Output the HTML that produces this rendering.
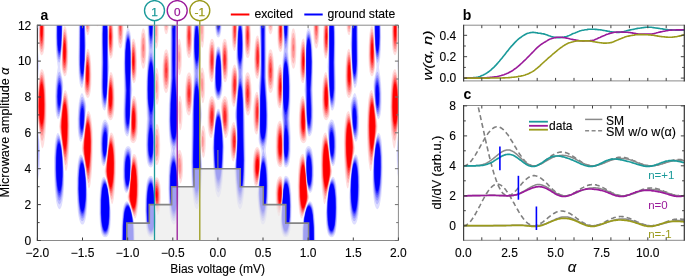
<!DOCTYPE html><html><head><meta charset="utf-8"><style>html,body{margin:0;padding:0;background:#fff;width:685px;height:276px;overflow:hidden}svg{display:block;will-change:transform}text{font-family:"Liberation Sans",sans-serif}</style></head><body>
<svg width="685" height="276" viewBox="0 0 685 276">
<defs><clipPath id="pa"><rect x="37.40" y="25.20" width="361.00" height="215.30"/></clipPath>
<filter id="bl" x="-5%" y="-5%" width="110%" height="110%"><feGaussianBlur stdDeviation="0.35"/></filter>
<clipPath id="pb"><rect x="463.6" y="25.2" width="221" height="55.7"/></clipPath>
<clipPath id="pc"><rect x="463.6" y="105.5" width="221" height="134.8"/></clipPath>
</defs>
<g clip-path="url(#pa)"><g filter="url(#bl)">
<path fill="#0000ff" fill-opacity="0.130" fill-rule="evenodd" d="M35.9 90.9 35.4 90.8 35.1 90.4 34.6 88.2 33.8 79.7 33.8 68.2 34.7 48.2 33.7 32.2 33.4 22.2 34.4 21.8 37.6 21.7 38.6 21.9 38.8 22.2 37.9 46.7 38.1 51.7 39.1 61.2 39.2 65.2 37.6 83.3 36.9 88.2 36.4 90.0 35.9 90.9ZM58.6 118.8 57.9 118.9 57.4 118.5 56.3 115.7 55.5 110.7 55.2 104.2 55.1 94.7 55.5 84.7 56.2 77.7 57.8 67.2 56.3 56.2 55.8 48.7 55.6 37.2 55.8 22.2 56.9 21.8 61.4 21.7 62.4 21.8 63.0 22.2 61.7 49.7 60.2 67.2 60.6 70.2 63.0 81.2 63.3 85.7 61.2 109.2 59.9 116.2 59.4 117.7 58.6 118.8ZM82.2 87.8 81.7 88.0 81.2 87.5 80.4 85.9 79.7 83.7 79.0 79.2 78.5 73.2 78.2 59.2 78.7 22.2 79.9 21.8 84.2 21.7 84.9 21.9 85.1 22.2 86.2 43.7 84.2 77.7 83.4 84.0 82.9 86.1 82.2 87.8ZM104.9 110.4 104.4 110.5 103.7 110.1 102.9 108.8 102.3 107.2 101.5 102.7 101.0 96.2 100.8 85.2 101.2 62.2 101.3 34.7 101.7 22.2 102.9 21.8 106.7 21.7 107.7 21.8 108.0 22.2 108.2 48.3 109.3 66.2 106.9 102.2 106.2 107.5 105.7 109.2 104.9 110.4ZM128.4 22.7 127.9 22.8 127.2 22.2 128.8 22.2 128.4 22.7ZM151.7 167.3 150.4 167.5 149.2 166.7 148.2 165.2 147.4 163.2 146.8 160.2 146.3 156.2 145.9 146.2 146.0 135.7 146.9 118.7 146.1 97.7 146.2 81.7 146.8 70.7 148.5 50.7 147.7 34.7 147.5 22.2 148.2 21.8 149.7 21.7 153.2 21.8 153.9 22.2 153.3 49.2 154.3 59.7 154.5 65.2 154.7 92.1 155.2 112.7 154.3 126.2 154.2 150.7 153.9 158.7 153.5 163.2 152.9 165.7 152.4 166.6 151.7 167.3ZM174.7 224.3 174.2 224.6 173.4 224.5 172.2 223.3 171.0 220.7 170.1 216.7 169.3 211.2 168.8 205.2 168.2 189.2 168.3 177.7 168.7 167.7 169.5 160.7 171.0 150.7 170.9 148.7 169.7 141.7 169.0 135.7 168.5 121.7 168.8 104.2 170.1 85.2 170.4 77.7 170.3 48.7 170.6 22.2 171.2 21.9 172.7 21.7 176.4 21.8 177.1 22.2 177.1 22.7 177.2 30.2 176.7 46.7 176.7 59.2 177.0 71.7 178.0 86.2 177.7 107.2 178.3 137.2 178.0 141.7 176.1 149.2 175.8 152.2 179.0 187.2 179.4 193.7 179.0 203.2 177.6 215.7 176.4 221.2 175.7 223.0 174.7 224.3ZM197.4 208.9 196.9 209.2 196.2 209.0 194.9 207.0 193.8 203.2 193.0 198.2 192.2 191.7 191.6 182.2 191.1 163.2 191.7 121.7 193.7 75.2 193.0 55.7 193.3 32.7 194.0 22.2 194.9 21.8 196.7 21.8 198.4 21.8 199.0 22.2 200.5 52.7 200.5 59.2 199.2 71.2 199.0 76.7 199.9 91.5 201.8 113.2 201.7 117.7 200.6 130.7 200.4 139.2 200.7 147.2 202.0 164.2 202.3 169.7 201.5 184.7 200.3 198.7 199.1 205.2 198.4 207.3 197.4 208.9ZM219.2 37.3 218.2 37.5 217.2 36.9 216.5 35.7 215.9 33.7 215.3 29.7 215.1 25.2 215.1 22.2 215.7 21.8 220.4 21.8 221.2 21.9 221.6 22.2 221.5 28.2 221.0 32.7 220.2 35.7 219.2 37.3ZM240.7 208.9 240.2 209.1 239.7 209.1 238.7 208.0 237.7 205.3 236.9 201.7 235.8 191.7 234.4 170.7 234.7 165.7 236.4 150.7 236.9 139.2 236.5 129.2 235.0 117.2 234.9 113.7 236.9 95.7 238.1 77.2 237.8 70.7 236.2 59.2 236.2 55.2 237.9 22.2 238.4 21.8 239.9 21.8 241.9 21.9 242.7 22.2 243.3 31.2 243.7 55.2 243.0 75.2 245.0 122.2 245.6 158.2 245.3 177.7 244.3 193.7 242.8 203.7 241.7 207.2 240.7 208.9ZM263.6 224.3 262.6 224.5 261.6 223.7 260.7 221.7 260.0 219.2 258.3 207.7 257.3 196.2 257.5 191.7 259.4 176.7 261.5 153.2 261.2 149.7 258.9 142.7 258.5 139.2 259.2 126.2 259.5 108.2 259.4 98.2 258.7 85.7 260.0 73.2 260.4 60.7 260.3 45.2 259.5 27.7 259.8 22.2 260.4 21.8 261.6 21.7 265.1 21.8 266.1 22.2 266.4 48.7 266.3 77.7 266.6 86.2 267.8 102.2 268.1 114.7 268.1 125.7 267.8 133.7 267.3 139.7 265.9 148.2 265.7 150.7 267.5 162.7 268.2 171.7 268.5 184.7 268.3 198.7 267.6 209.2 266.6 216.7 265.3 221.7 264.4 223.5 263.6 224.3ZM286.9 167.2 285.6 167.4 284.6 166.7 284.0 165.2 283.6 162.9 283.3 155.2 283.0 126.7 282.6 122.4 281.6 114.2 282.5 98.2 282.4 60.7 283.4 51.7 283.7 48.2 283.1 22.2 283.4 21.8 284.4 21.7 288.1 21.8 289.2 22.2 289.1 34.2 288.2 51.2 290.0 72.2 290.6 84.7 290.5 99.7 289.8 118.7 290.8 137.7 290.7 151.2 290.2 157.7 289.5 162.2 288.4 165.5 287.6 166.6 286.9 167.2ZM308.9 22.8 308.4 22.8 307.9 22.2 309.5 22.2 308.9 22.8ZM332.9 110.2 332.4 110.5 331.9 110.4 331.1 109.4 330.4 106.8 329.9 103.2 327.4 66.7 328.5 50.2 328.7 22.2 328.9 21.9 329.9 21.7 333.9 21.8 335.0 22.2 335.3 29.7 335.5 41.2 335.5 62.7 335.9 84.2 335.8 93.7 335.5 100.2 334.8 105.2 333.9 108.6 332.9 110.2ZM355.1 87.9 354.6 87.9 354.4 87.6 353.6 85.5 352.6 78.7 350.5 44.2 351.6 22.2 351.9 21.8 352.6 21.7 356.9 21.8 358.0 22.2 358.5 58.7 358.3 71.7 357.9 77.2 357.3 82.2 356.4 85.7 355.6 87.3 355.1 87.9ZM378.9 118.9 378.4 119.0 377.9 118.7 377.1 117.3 375.8 111.7 374.8 103.2 373.4 86.2 373.7 81.2 376.1 70.2 376.5 67.2 375.0 51.2 373.7 22.2 374.1 21.9 375.1 21.7 379.6 21.8 380.9 22.2 381.1 37.7 380.9 49.7 380.3 57.2 378.9 67.2 380.5 77.7 381.1 83.7 381.6 93.2 381.6 102.7 381.3 109.2 380.8 113.7 379.9 117.2 378.9 118.9ZM401.1 90.9 400.6 90.7 400.1 89.6 399.4 85.9 398.4 77.0 397.5 65.7 397.6 61.7 398.6 52.2 398.8 46.7 397.8 22.2 398.1 21.8 398.9 21.8 402.1 21.8 402.4 22.2 402.0 48.7 402.3 64.7 402.2 85.2 402.1 88.2 401.6 90.1 401.1 90.9ZM127.7 136.4 126.7 136.2 125.8 135.2 124.9 133.2 124.3 130.7 123.6 123.7 123.3 113.7 123.9 91.2 123.6 65.2 124.1 49.7 124.8 39.7 125.6 33.7 126.7 29.7 127.4 28.6 128.2 28.2 129.2 29.1 130.0 31.2 130.6 33.7 131.0 36.7 131.2 72.4 131.4 79.1 132.3 89.7 131.2 102.4 130.0 127.7 129.1 133.7 128.4 135.6 127.7 136.4ZM309.9 136.3 308.9 136.3 308.1 135.3 307.5 133.2 307.0 129.7 306.3 121.2 305.5 101.7 304.4 89.7 305.5 74.7 305.8 36.2 306.2 33.2 306.8 30.7 307.6 28.9 308.1 28.3 308.6 28.2 309.1 28.4 309.6 29.1 310.4 30.8 311.6 36.7 312.6 48.2 313.1 62.2 312.8 89.7 313.3 110.7 313.2 121.7 312.8 127.7 312.2 131.7 311.1 134.8 309.9 136.3ZM219.2 99.8 218.2 100.1 217.4 99.7 216.7 98.9 215.9 97.4 214.5 92.2 214.1 87.2 215.1 62.7 215.7 52.7 216.7 48.1 217.4 46.8 218.4 46.4 219.4 46.9 220.1 48.2 221.0 52.7 221.7 64.2 222.6 85.7 222.5 89.7 221.8 94.2 220.7 97.8 219.9 99.1 219.2 99.8ZM80.9 141.7 80.2 141.4 79.4 140.0 78.3 135.2 77.7 128.2 77.6 118.7 78.1 108.7 79.0 100.7 80.4 95.3 81.2 93.7 81.9 93.1 82.4 93.3 83.2 94.5 84.9 99.2 86.0 103.2 86.3 106.7 84.8 124.7 83.7 133.2 82.4 139.5 81.7 141.1 80.9 141.7ZM355.9 141.7 355.1 141.3 354.4 139.8 353.1 134.2 352.0 125.7 350.4 106.7 350.6 103.7 351.6 99.7 353.4 94.8 354.1 93.5 354.6 93.1 355.4 93.5 356.1 94.9 357.6 100.2 358.6 107.7 359.1 117.2 359.1 127.2 358.5 134.7 357.4 139.8 356.6 141.2 355.9 141.7ZM218.7 197.3 218.2 197.4 217.4 196.8 216.4 194.8 215.3 190.7 214.5 185.2 213.5 174.2 212.4 148.2 212.8 141.2 215.6 115.7 216.7 110.7 217.4 109.3 218.4 108.8 219.2 109.1 219.9 110.3 220.9 114.7 224.0 141.7 224.3 147.7 223.3 172.2 222.5 183.2 221.7 188.7 220.8 193.2 219.7 196.3 218.7 197.3ZM36.6 182.2 36.1 182.0 35.6 181.3 34.6 178.0 33.8 172.2 33.4 167.2 33.4 124.9 34.3 119.7 34.9 118.1 35.4 117.7 36.1 118.5 36.6 120.0 38.1 129.0 39.4 140.7 40.0 153.7 39.9 164.2 39.2 173.2 38.1 179.7 37.4 181.5 36.6 182.2ZM400.1 182.2 399.4 181.7 398.6 179.8 397.5 173.7 396.9 164.7 396.7 154.2 397.3 141.7 398.4 130.2 399.9 120.7 400.4 118.9 401.1 117.7 401.6 117.9 402.1 118.9 402.3 122.2 402.3 173.2 402.1 177.5 401.9 178.6 401.1 181.1 400.6 181.9 400.1 182.2ZM104.2 165.8 103.7 166.0 103.2 165.9 102.4 165.0 101.7 163.2 101.1 160.2 100.3 152.2 100.2 141.7 100.6 132.7 101.6 125.7 102.4 122.7 103.2 120.9 103.9 119.9 104.9 119.4 105.7 119.7 106.4 120.4 108.0 123.2 108.9 125.7 109.2 128.7 107.8 146.7 106.7 156.7 105.7 162.6 104.9 164.8 104.2 165.8ZM333.6 165.8 333.1 166.0 332.6 165.9 331.9 165.0 331.1 163.0 330.3 159.2 329.3 150.7 327.6 129.7 327.7 126.2 328.5 123.7 330.4 120.3 331.1 119.6 331.9 119.4 332.9 120.0 333.6 121.1 335.0 125.2 336.0 131.7 336.5 138.7 336.5 148.7 336.0 157.2 335.0 163.2 334.4 164.8 333.6 165.8ZM60.1 208.9 59.6 209.2 59.1 209.1 58.1 208.1 57.1 205.6 56.2 201.7 55.5 196.7 54.8 189.7 54.1 174.7 54.0 157.7 54.8 143.7 55.5 138.7 56.2 135.7 57.1 133.5 57.6 133.1 58.1 133.0 59.1 133.9 60.1 136.5 61.8 145.2 63.2 159.7 64.2 176.2 64.1 187.7 63.3 197.7 61.9 205.2 61.1 207.4 60.1 208.9ZM377.9 208.9 377.4 209.2 376.9 209.1 375.9 208.0 374.9 205.5 374.0 201.7 372.8 191.2 372.5 178.7 373.3 161.2 375.1 144.2 375.8 139.7 376.9 135.4 377.6 133.7 378.1 133.1 378.6 132.9 379.6 133.7 380.4 135.3 381.0 137.7 381.8 142.2 382.5 153.7 382.7 168.7 382.3 183.7 381.3 196.2 379.8 204.7 378.9 207.4 377.9 208.9ZM126.9 192.8 125.9 192.7 125.1 191.7 124.2 189.7 123.6 186.7 122.8 177.7 122.8 167.2 123.3 158.2 124.4 151.2 125.0 149.2 125.9 147.4 126.9 146.4 128.2 146.1 129.7 146.8 130.9 148.5 131.5 150.7 131.5 153.2 130.8 170.7 129.8 183.2 129.3 186.7 128.4 190.2 127.7 192.0 126.9 192.8ZM310.6 192.8 309.6 192.7 308.9 191.8 308.1 189.7 307.5 187.2 306.5 179.7 305.8 167.7 305.2 153.2 305.3 150.2 305.7 148.7 306.6 147.2 307.6 146.3 308.6 146.1 309.6 146.3 310.6 147.2 311.5 148.7 312.2 150.7 313.2 156.7 313.8 164.2 313.9 175.2 313.4 184.7 312.3 190.2 311.4 192.1 310.6 192.8ZM83.2 224.4 82.7 224.6 81.9 224.6 80.9 223.7 79.9 221.8 79.0 218.7 78.2 214.7 77.5 208.7 76.8 195.7 76.7 178.7 77.5 165.2 78.1 160.7 78.9 157.2 79.9 155.1 80.9 154.4 81.9 155.1 82.9 157.1 84.0 161.2 84.7 165.2 86.5 180.2 87.4 194.7 87.3 205.2 86.5 214.2 85.8 218.2 85.0 221.2 84.2 223.2 83.2 224.4ZM355.1 224.4 354.6 224.6 353.9 224.6 352.9 223.7 351.9 221.7 351.0 218.7 350.2 214.2 349.6 208.7 349.2 197.2 350.1 181.7 351.8 166.2 352.6 161.7 353.6 157.6 354.6 155.3 355.4 154.5 355.9 154.4 356.9 155.2 357.8 157.2 358.5 160.2 359.1 163.7 359.8 174.2 360.0 189.2 359.5 203.7 358.5 214.2 357.8 218.2 357.0 221.2 356.1 223.2 355.1 224.4ZM151.2 237.2 149.7 236.9 148.4 235.9 147.4 234.1 146.6 231.2 145.5 222.7 145.0 209.7 145.3 195.2 146.3 184.2 147.0 180.7 147.9 178.2 149.2 176.5 150.7 175.8 151.7 176.0 152.4 176.7 153.1 178.2 153.5 180.2 154.7 199.6 156.3 220.7 156.0 227.7 154.9 233.2 154.2 234.9 153.4 236.0 152.4 236.9 151.2 237.2ZM285.9 237.2 284.6 237.0 283.6 236.4 282.7 235.2 282.0 233.7 281.3 231.2 280.8 228.2 280.4 221.7 282.1 201.1 283.5 180.2 283.9 178.0 284.4 176.8 285.1 176.1 285.9 175.8 287.4 176.4 288.5 177.7 289.6 180.2 290.3 183.2 291.3 193.2 291.7 207.7 291.3 221.7 290.3 230.7 289.6 233.2 288.6 235.4 287.4 236.7 285.9 237.2ZM105.4 237.2 103.9 236.9 102.7 235.9 101.7 234.2 101.0 232.2 100.0 225.7 99.3 214.7 99.3 200.2 100.1 187.7 100.8 182.7 101.6 179.7 102.5 177.7 103.7 176.9 104.2 176.9 104.9 177.6 105.9 179.4 107.0 182.7 108.0 187.2 109.9 200.7 110.9 212.7 110.7 222.7 110.2 227.7 109.5 231.7 108.7 234.2 107.9 235.7 106.7 236.9 105.4 237.2ZM331.6 237.2 330.4 237.0 329.1 236.1 328.1 234.6 327.3 232.2 326.5 228.2 326.1 224.2 325.8 214.2 326.1 208.2 326.8 200.2 328.8 186.7 329.9 182.2 330.9 179.2 331.9 177.4 332.9 176.8 333.9 177.3 335.0 179.2 335.8 182.2 336.5 186.2 337.3 197.7 337.4 212.7 336.8 224.7 335.8 231.7 335.0 234.2 334.1 235.7 332.9 236.9 331.6 237.2ZM134.9 243.2 134.4 243.5 133.2 243.7 123.2 243.7 121.9 243.5 121.3 243.2 121.5 225.7 122.5 211.7 123.2 207.2 124.1 204.2 125.2 202.2 126.4 201.3 127.4 201.4 128.2 202.1 130.0 205.7 131.5 210.7 133.5 219.2 134.3 223.7 134.7 228.7 134.9 243.2ZM315.4 243.2 314.9 243.5 313.6 243.7 303.6 243.7 302.4 243.5 301.8 243.2 302.0 228.7 303.0 220.2 304.8 212.2 306.5 206.2 308.1 202.7 309.1 201.5 309.9 201.2 311.1 201.7 312.4 203.7 313.3 206.7 314.0 210.7 315.1 223.7 315.4 243.2Z"/>
<path fill="#0000ff" fill-opacity="0.161" fill-rule="evenodd" d="M36.4 44.7 35.6 42.3 34.9 36.7 34.0 22.2 34.9 21.9 37.1 21.8 38.1 21.9 38.6 22.2 37.6 38.1 36.9 43.6 36.4 44.7ZM59.1 62.7 58.4 61.8 57.6 59.2 57.0 55.7 56.5 50.7 56.1 38.7 56.3 22.2 57.6 21.8 61.4 21.8 62.6 22.2 61.7 47.2 60.6 58.6 59.9 61.8 59.1 62.7ZM82.2 84.2 81.7 84.2 81.2 83.6 80.1 80.7 79.5 76.7 79.0 70.2 78.8 58.2 79.2 22.2 80.4 21.8 83.9 21.8 84.9 22.2 85.6 41.2 85.6 47.2 84.2 75.5 83.3 81.7 82.7 83.6 82.2 84.2ZM104.9 107.7 104.2 107.6 103.7 106.9 102.7 104.2 102.0 99.7 101.6 93.7 101.4 84.7 101.8 62.2 101.8 33.7 102.2 22.2 103.4 21.8 106.7 21.8 107.8 22.2 108.0 48.7 108.6 68.2 106.9 99.7 106.2 105.1 105.7 106.7 104.9 107.7ZM151.4 165.3 150.4 165.4 149.4 164.6 148.6 163.2 148.0 161.2 147.0 154.7 146.6 145.7 146.8 135.7 147.8 118.7 146.8 98.7 146.8 81.2 147.5 67.7 149.4 50.7 148.3 35.7 148.0 22.2 149.7 21.8 152.7 21.8 153.6 22.2 153.3 36.2 152.5 50.2 154.0 63.7 154.3 75.7 154.5 106.7 153.9 122.7 154.1 140.7 153.9 151.7 153.6 157.7 153.2 161.6 152.4 164.1 151.4 165.3ZM174.7 220.8 174.2 221.1 173.4 221.1 172.4 220.0 171.4 217.5 170.5 213.7 169.8 208.2 169.3 202.2 168.8 188.2 169.0 175.2 169.7 165.2 170.7 158.7 172.9 150.7 172.7 149.2 170.9 142.7 170.0 137.2 169.3 129.2 169.1 119.2 169.5 103.2 170.9 77.7 171.1 22.2 172.9 21.8 175.4 21.8 176.6 22.2 176.4 63.2 176.7 73.8 177.4 89.2 177.8 133.2 177.6 138.2 177.1 141.7 174.4 150.7 175.8 158.2 176.5 163.7 178.3 183.2 178.8 192.2 178.5 200.7 177.4 211.2 176.2 217.7 175.4 219.7 174.7 220.8ZM197.2 204.3 196.7 204.4 196.2 204.1 195.1 202.2 194.1 198.7 193.3 193.7 192.2 180.2 191.8 161.7 192.5 114.2 193.5 89.7 194.6 73.7 193.5 55.2 193.6 36.7 194.0 28.7 194.7 22.2 196.7 21.9 198.6 22.2 199.2 30.2 199.8 43.2 199.9 57.2 198.6 71.2 198.4 75.2 201.1 112.2 201.1 117.7 200.4 130.2 200.2 139.2 201.6 168.2 201.2 179.7 200.0 193.7 198.7 201.2 197.9 203.3 197.2 204.3ZM218.9 35.3 218.2 35.5 217.4 34.9 216.8 33.7 216.3 31.7 215.7 27.7 215.5 22.2 216.2 21.9 219.9 21.8 221.2 22.2 221.0 27.2 220.5 31.2 219.9 33.7 218.9 35.3ZM240.4 204.3 239.9 204.4 239.4 204.1 238.7 203.0 237.9 200.7 237.2 197.2 236.0 185.7 235.1 170.2 235.3 164.7 236.7 149.2 237.0 139.7 236.8 131.2 235.7 118.2 235.6 113.2 238.5 75.7 238.3 70.7 236.8 58.7 236.8 51.2 237.6 31.7 238.2 22.7 238.4 22.1 239.9 21.9 242.0 22.2 242.6 27.7 243.1 35.7 243.2 54.7 242.1 73.7 243.2 90.2 244.2 114.7 244.9 159.2 244.6 177.2 243.8 190.2 243.0 196.2 242.2 200.2 241.4 202.8 240.4 204.3ZM263.6 220.8 262.6 221.1 261.9 220.5 261.0 218.7 260.3 216.2 258.8 206.7 258.0 195.2 258.3 188.7 261.0 162.2 261.6 157.0 262.9 151.2 262.8 150.2 259.9 142.7 259.3 139.7 259.2 136.7 259.7 107.7 259.4 86.7 260.3 73.2 260.6 61.7 260.6 48.7 260.1 25.7 260.2 22.2 261.9 21.8 264.4 21.8 265.6 22.2 265.9 78.2 267.2 103.2 267.6 115.7 267.4 127.7 266.8 136.7 265.7 143.2 263.6 150.7 266.0 158.7 267.2 167.7 267.8 180.7 267.7 195.7 267.2 204.7 266.3 212.7 265.1 218.0 264.4 219.8 263.6 220.8ZM286.4 165.3 285.4 165.2 284.6 164.2 284.1 162.2 283.7 159.2 283.3 147.7 283.3 125.2 282.4 112.7 282.7 96.7 282.8 64.2 283.1 60.2 284.1 52.7 284.3 49.7 283.6 36.2 283.3 22.2 284.4 21.8 287.4 21.8 288.7 22.2 288.5 35.2 287.3 51.2 289.3 69.2 290.0 86.2 289.9 100.7 288.9 118.7 290.0 137.7 290.0 150.7 289.5 156.7 288.7 161.2 287.6 164.1 286.4 165.3ZM332.1 107.8 331.4 107.4 330.9 106.3 330.4 104.2 329.8 100.2 329.2 91.2 328.1 68.2 328.7 49.2 328.9 22.2 330.1 21.8 333.1 21.8 334.5 22.2 334.9 31.7 334.9 61.7 335.3 82.2 335.2 92.2 334.8 98.7 334.2 103.2 333.2 106.7 332.6 107.5 332.1 107.8ZM354.9 84.3 354.1 83.8 353.6 82.6 352.6 76.6 352.0 67.7 351.2 49.2 351.1 42.2 351.8 22.2 352.6 21.8 356.1 21.8 357.5 22.2 357.9 57.7 357.8 69.2 357.3 75.7 356.8 79.7 355.9 82.9 355.4 83.9 354.9 84.3ZM377.9 62.5 377.4 62.7 377.1 62.5 376.4 60.4 375.6 55.5 375.1 49.2 374.1 22.2 375.4 21.8 379.1 21.8 380.4 22.2 380.6 38.2 380.2 49.7 379.3 58.2 378.6 60.8 377.9 62.5ZM400.4 44.6 400.1 44.6 399.9 44.0 399.1 39.1 398.1 22.7 398.1 22.1 399.4 21.8 401.6 21.9 402.1 21.9 402.3 22.2 402.1 33.7 401.3 40.7 400.4 44.6ZM127.9 133.8 127.2 133.9 126.4 133.2 125.7 131.6 125.0 129.2 124.3 122.7 124.0 113.2 124.7 91.2 124.2 66.2 124.5 50.2 125.1 42.2 125.8 36.2 126.9 32.3 127.4 31.5 128.2 31.1 128.9 31.6 129.8 33.7 130.3 36.2 130.7 40.2 131.0 74.2 131.5 89.7 129.9 125.3 129.2 131.0 128.7 132.7 127.9 133.8ZM309.6 133.9 309.1 134.0 308.6 133.7 307.9 132.3 306.9 126.7 305.2 90.2 305.7 74.2 306.0 40.2 306.3 36.7 306.9 33.7 307.6 31.9 308.1 31.2 308.6 31.1 309.4 31.6 310.1 33.3 311.3 39.2 312.1 48.7 312.5 62.2 312.0 89.7 312.6 109.7 312.5 120.2 312.2 125.2 311.6 129.7 310.6 132.6 309.6 133.9ZM218.4 98.2 217.7 98.0 216.9 97.2 216.2 95.7 215.6 93.7 214.8 88.7 214.6 83.2 215.1 67.7 215.8 55.2 216.3 52.2 216.9 49.9 217.7 48.7 218.4 48.3 219.2 48.8 219.9 50.1 220.9 55.2 221.6 66.2 222.1 83.2 221.9 89.2 221.1 93.7 219.9 97.1 219.2 97.9 218.4 98.2ZM36.1 84.8 35.9 84.6 35.5 83.7 35.1 80.7 34.7 70.7 35.4 59.5 36.1 54.7 36.4 54.1 36.6 54.1 37.1 55.7 37.9 60.7 38.2 68.2 37.4 80.0 36.9 83.0 36.1 84.8ZM400.6 84.8 400.1 84.2 399.9 83.4 399.4 80.7 398.8 74.7 398.5 68.2 398.9 60.0 399.6 55.2 400.1 54.0 400.6 55.1 401.3 59.7 402.0 70.7 401.7 80.7 401.1 83.8 400.6 84.8ZM58.9 116.4 58.1 116.3 57.6 115.6 56.6 111.7 56.0 105.2 55.8 96.2 56.2 86.2 57.0 78.7 58.1 73.4 58.9 71.9 59.4 71.7 59.9 72.2 60.4 73.3 61.7 78.2 62.5 83.2 62.7 87.7 62.1 97.7 61.1 107.8 60.1 113.6 59.6 115.2 58.9 116.4ZM378.6 116.2 377.9 116.4 377.1 115.4 375.9 110.3 374.8 100.7 374.1 88.7 374.1 84.2 374.8 79.2 376.1 73.7 376.9 72.1 377.4 71.7 377.9 72.0 378.6 73.7 379.7 78.2 380.4 85.2 380.8 92.7 380.9 101.7 380.5 108.7 379.7 113.7 379.1 115.4 378.6 116.2ZM81.4 139.3 80.7 139.1 80.1 138.2 79.0 133.7 78.4 127.2 78.3 118.7 78.8 109.7 79.5 103.2 80.7 98.7 81.4 97.3 82.2 96.8 82.7 96.9 83.4 97.9 84.8 101.7 85.5 105.7 85.6 109.7 85.0 120.2 83.9 130.7 82.7 137.1 82.2 138.4 81.4 139.3ZM355.6 139.3 354.9 139.0 354.4 138.1 353.1 132.8 352.0 122.7 351.1 110.2 351.2 105.7 351.8 102.2 353.1 98.1 353.9 97.0 354.4 96.8 355.1 97.1 355.8 98.2 357.0 102.2 357.8 108.2 358.3 116.7 358.3 125.7 357.8 132.7 356.9 137.3 356.3 138.7 355.6 139.3ZM218.9 192.2 218.4 192.4 217.9 192.3 216.9 190.7 215.9 187.2 215.0 182.2 213.8 168.7 213.0 148.2 213.5 137.7 215.7 117.4 216.2 114.2 216.9 112.0 217.7 110.8 218.4 110.5 219.2 110.9 219.9 112.2 221.0 117.2 223.1 136.2 223.7 146.7 223.1 165.7 222.1 179.2 220.7 188.1 219.9 190.5 218.9 192.2ZM104.4 163.9 103.7 163.9 102.9 163.0 102.3 161.2 101.7 158.7 101.0 151.2 100.9 141.7 101.3 133.7 102.3 127.2 102.9 124.9 103.6 123.2 104.4 122.3 105.2 122.0 105.9 122.3 106.7 123.1 107.8 125.7 108.4 128.7 108.5 132.7 107.7 145.2 106.7 155.8 105.7 161.3 105.2 162.8 104.4 163.9ZM333.1 163.9 332.4 163.9 331.6 163.0 330.4 158.2 329.3 148.2 328.3 133.7 328.3 129.2 328.9 125.7 330.1 123.0 330.9 122.2 331.6 122.0 332.4 122.3 333.1 123.3 334.3 126.7 335.3 132.7 335.7 139.7 335.8 148.7 335.3 156.2 334.4 161.2 333.9 162.8 333.1 163.9ZM36.9 173.5 36.4 173.6 36.1 173.4 35.6 172.4 34.7 167.7 33.9 159.7 33.5 150.2 33.5 139.7 34.0 130.7 34.9 124.7 35.4 123.2 35.9 122.9 36.4 123.5 36.9 125.1 37.9 130.9 38.8 139.2 39.2 148.7 39.2 157.2 38.7 165.2 37.9 170.9 37.4 172.6 36.9 173.5ZM400.6 173.2 400.4 173.5 399.9 173.6 399.4 172.8 398.4 168.6 397.7 161.2 397.5 151.7 397.8 141.7 398.6 132.1 399.9 124.7 400.4 123.3 400.9 122.9 401.5 123.7 402.1 126.2 402.3 156.7 402.1 166.9 401.4 171.2 400.6 173.2ZM59.9 204.2 59.4 204.4 58.9 204.1 58.1 203.0 57.3 200.7 56.5 196.7 55.3 185.7 54.7 172.7 54.7 157.2 55.4 145.2 56.6 138.0 57.4 136.1 57.9 135.4 58.4 135.2 58.9 135.4 59.4 136.0 60.1 138.0 61.5 145.2 63.0 159.7 63.7 173.2 63.6 184.2 62.8 194.2 61.4 201.2 60.6 203.3 59.9 204.2ZM377.6 204.3 377.1 204.4 376.6 204.1 375.9 203.0 375.0 200.2 374.3 196.7 373.3 186.7 373.0 174.7 373.6 161.2 375.1 145.2 376.6 137.6 377.4 135.9 377.9 135.3 378.4 135.2 379.1 135.9 380.0 137.7 380.6 140.7 381.2 144.7 381.9 154.7 382.0 168.7 381.6 182.7 380.7 193.2 379.4 200.7 378.6 202.8 377.6 204.3ZM127.2 191.2 126.4 191.2 125.6 190.2 124.8 188.2 124.3 185.7 123.6 177.7 123.5 168.2 124.0 159.2 124.9 153.2 125.7 150.8 126.4 149.3 127.2 148.5 128.2 148.2 128.9 148.4 129.7 149.1 130.7 151.7 131.0 155.2 130.9 161.2 130.4 173.7 129.7 182.7 128.7 188.5 127.9 190.4 127.2 191.2ZM310.1 191.2 309.4 191.1 308.6 190.1 307.9 187.9 307.4 185.3 306.4 175.2 305.9 164.7 305.7 156.2 306.0 152.2 306.9 149.4 307.6 148.5 308.6 148.2 309.6 148.6 310.4 149.5 311.1 151.0 311.8 153.2 312.7 159.2 313.2 166.7 313.2 175.7 312.7 183.7 311.6 188.9 310.9 190.6 310.1 191.2ZM82.4 221.2 81.4 220.7 80.5 219.2 79.7 216.7 78.9 213.2 77.8 202.7 77.3 190.2 77.5 175.7 78.2 165.2 78.8 161.7 79.5 158.7 80.4 156.9 80.9 156.5 81.4 156.4 82.4 157.3 83.2 159.0 83.9 161.9 84.8 166.7 86.3 180.7 86.9 193.7 86.7 203.7 85.7 213.2 85.0 216.7 84.2 219.2 83.4 220.6 82.4 221.2ZM354.4 221.2 353.4 220.7 352.5 219.2 351.7 216.7 351.0 213.2 350.0 204.2 349.8 193.2 350.5 179.7 352.0 166.2 352.9 161.4 353.6 158.7 354.4 157.1 354.9 156.5 355.4 156.4 355.9 156.5 356.4 157.1 357.2 158.7 357.9 161.7 358.5 165.7 359.3 176.7 359.4 190.7 358.8 203.7 357.8 213.2 357.0 216.7 356.2 219.2 355.4 220.6 354.4 221.2ZM151.4 235.7 150.2 235.6 148.9 234.5 147.9 232.7 147.2 230.2 146.5 226.2 146.1 221.7 145.6 210.2 145.8 196.7 146.8 185.7 147.5 182.2 148.4 179.7 149.4 178.2 150.7 177.6 151.7 177.9 152.4 178.8 153.0 180.7 153.4 183.0 155.8 219.2 155.5 225.7 154.5 231.2 153.2 234.4 152.4 235.2 151.4 235.7ZM286.1 235.7 285.1 235.7 284.1 235.1 283.1 233.8 282.5 232.2 281.5 227.7 280.9 220.7 281.3 213.2 283.5 183.2 283.9 180.5 284.4 179.0 285.1 177.9 285.9 177.6 287.1 178.1 288.1 179.4 289.0 181.7 289.7 184.7 290.7 194.2 291.1 206.2 290.8 219.2 289.8 228.7 289.1 231.7 288.3 233.7 287.4 235.0 286.1 235.7ZM105.7 235.7 104.4 235.6 103.2 234.6 102.4 233.2 101.5 230.7 100.5 224.2 99.9 214.2 100.0 199.7 100.7 188.2 101.3 184.2 102.2 181.0 103.2 179.0 104.2 178.4 105.2 179.0 106.2 180.9 107.9 187.7 109.5 199.2 110.3 210.7 110.2 220.2 109.2 229.2 108.6 231.7 107.8 233.7 106.9 235.0 105.7 235.7ZM331.9 235.7 330.6 235.6 329.4 234.5 328.6 233.2 327.8 230.7 326.7 223.2 326.3 212.7 327.0 200.7 328.7 188.2 329.6 183.8 330.6 180.7 331.6 178.9 332.6 178.4 333.6 179.2 334.4 180.7 335.3 183.7 335.8 187.2 336.7 198.2 336.8 210.7 336.5 220.7 335.5 229.2 334.9 231.7 334.1 233.7 333.1 235.0 331.9 235.7ZM134.2 243.3 133.2 243.6 123.2 243.6 121.8 243.2 122.1 226.2 123.1 212.7 123.8 208.2 124.7 205.2 125.7 203.3 126.9 202.4 127.7 202.6 128.4 203.2 129.9 206.1 131.5 211.2 133.0 218.2 133.8 223.2 134.2 229.2 134.4 243.2 134.2 243.3ZM314.6 243.3 313.6 243.6 303.6 243.6 302.3 243.2 302.5 228.7 303.5 219.2 305.0 212.2 306.6 206.7 307.9 203.8 308.6 202.8 309.4 202.4 310.1 202.5 310.6 202.9 311.8 204.7 312.8 207.7 313.6 212.2 314.2 219.2 314.7 228.2 314.9 243.2 314.6 243.3Z"/>
<path fill="#0000ff" fill-opacity="0.205" fill-rule="evenodd" d="M36.6 37.6 36.4 37.7 36.1 37.2 35.4 34.4 34.5 24.2 34.4 22.2 35.9 21.9 37.6 21.9 38.4 22.2 37.6 32.8 37.1 36.2 36.6 37.6ZM59.6 59.2 59.1 59.4 58.6 58.9 57.9 56.7 57.3 52.7 56.8 46.7 56.5 36.2 56.7 22.2 57.6 21.9 61.1 21.9 62.2 22.2 62.0 34.7 61.4 48.5 60.6 55.8 60.1 58.1 59.6 59.2ZM82.4 81.5 81.9 81.7 81.4 81.2 80.3 77.7 79.6 72.2 79.3 65.7 79.6 22.2 80.7 21.9 83.9 21.9 84.7 22.2 85.3 44.7 84.9 59.7 83.9 75.4 83.2 79.8 82.4 81.5ZM105.2 105.3 104.7 105.5 104.2 105.1 103.2 102.5 102.5 98.2 102.0 92.2 101.9 82.2 102.3 61.7 102.1 34.7 102.6 22.2 103.7 21.9 106.7 21.9 107.6 22.2 107.6 22.7 108.2 70.2 107.6 86.7 107.0 96.7 106.2 102.9 105.7 104.5 105.2 105.3ZM151.2 48.7 150.9 48.9 150.7 48.5 149.8 44.7 148.7 35.2 148.4 22.2 149.7 21.9 152.4 21.9 153.3 22.2 152.8 39.2 152.2 44.5 151.2 48.7ZM174.4 145.7 173.7 146.0 172.7 144.9 171.7 142.7 171.0 139.7 170.0 132.2 169.6 121.7 169.8 105.7 171.3 77.7 171.5 22.2 172.9 21.9 175.2 21.9 176.2 22.2 176.1 68.7 177.0 92.2 177.4 114.7 177.5 129.2 177.1 136.7 176.1 142.2 175.4 144.2 174.4 145.7ZM196.9 200.7 196.4 200.7 195.9 200.1 195.1 198.2 194.3 194.7 193.5 189.7 192.6 176.7 192.3 161.2 192.9 114.2 193.3 100.7 194.0 87.2 195.6 73.7 194.0 56.7 193.8 48.2 193.9 38.7 194.3 30.2 195.1 23.7 195.3 22.2 196.7 22.0 198.0 22.2 198.3 23.7 199.0 30.7 199.5 41.7 199.6 50.7 199.5 57.2 199.0 62.7 197.8 71.2 197.7 74.2 199.5 92.7 200.6 110.2 200.6 117.7 200.0 138.7 201.1 167.7 200.7 179.2 199.7 191.2 198.4 198.1 197.7 200.0 196.9 200.7ZM218.4 33.7 217.7 33.3 217.2 32.3 216.3 28.2 215.8 22.2 216.9 21.9 219.9 21.9 220.9 22.2 220.6 27.2 220.0 30.7 219.4 32.7 218.9 33.5 218.4 33.7ZM240.2 200.7 239.4 200.4 238.7 199.1 237.3 193.2 236.2 181.7 235.6 169.2 235.8 163.7 236.9 147.7 237.2 139.2 237.0 130.7 236.1 117.2 236.1 112.2 239.2 74.2 239.0 71.2 237.8 63.2 237.3 58.2 237.3 45.2 237.8 32.2 238.4 24.5 238.7 22.2 239.9 22.0 241.4 22.2 241.6 23.2 242.3 29.2 242.8 37.7 242.9 47.2 242.7 56.2 241.1 73.7 242.6 86.7 243.3 99.2 243.8 114.7 244.4 159.7 244.2 175.2 243.3 188.7 241.9 197.3 241.2 199.5 240.2 200.7ZM263.4 145.7 262.9 145.9 262.1 145.5 261.4 144.3 260.6 142.2 259.8 138.2 259.6 133.2 259.8 88.7 260.6 74.2 260.9 63.7 260.5 22.2 261.9 21.9 264.1 21.9 265.2 22.2 265.4 78.2 266.7 102.7 267.1 114.2 267.0 126.2 266.3 135.7 265.1 142.2 264.1 144.7 263.4 145.7ZM285.9 48.7 285.6 48.7 285.4 48.1 284.6 44.4 283.9 36.7 283.5 22.2 284.4 21.9 287.1 21.9 288.3 22.2 288.2 31.2 287.7 38.7 286.9 45.0 285.9 48.7ZM332.4 105.2 331.6 105.4 330.9 104.1 330.0 99.2 329.3 89.7 328.6 72.2 329.1 22.7 329.1 22.2 330.1 21.9 333.1 21.9 334.1 22.2 334.5 31.2 334.6 42.2 334.4 62.2 334.8 81.2 334.7 90.2 334.0 100.2 333.2 103.7 332.4 105.2ZM355.1 81.4 354.4 81.6 353.9 80.9 353.0 77.2 352.4 70.2 351.8 58.2 351.5 44.2 352.0 22.2 352.9 21.9 356.1 21.9 357.1 22.2 357.5 56.7 357.4 66.7 356.6 76.7 355.9 79.8 355.1 81.4ZM377.6 59.4 377.1 59.3 376.9 59.0 376.1 56.4 375.2 46.7 374.6 32.7 374.5 22.2 375.4 21.9 379.1 21.9 380.0 22.2 380.2 37.2 379.8 48.2 379.0 55.7 378.4 58.1 377.6 59.4ZM400.4 37.6 400.1 37.7 399.9 37.3 399.6 36.6 399.1 33.6 398.3 22.2 399.6 21.9 401.4 21.9 402.2 22.2 401.6 32.2 401.1 35.7 400.4 37.6ZM127.7 131.8 127.2 131.6 126.7 131.0 125.8 128.7 125.1 124.7 124.7 119.7 124.6 110.2 125.2 89.7 124.6 62.7 124.9 49.7 125.7 40.7 126.7 35.2 127.4 33.7 128.2 33.2 128.9 33.8 129.7 36.2 130.5 43.2 131.0 89.2 130.3 113.2 129.9 122.7 128.9 129.7 128.4 131.0 127.7 131.8ZM309.4 131.7 308.6 131.5 307.9 130.0 307.4 127.7 306.9 123.5 306.4 113.7 305.7 89.7 306.2 43.2 306.5 38.7 307.1 35.7 307.9 33.7 308.6 33.2 309.4 33.8 310.0 35.2 311.0 40.7 311.8 50.2 312.1 61.7 312.1 71.7 311.5 90.2 312.1 109.2 312.0 118.7 311.7 123.7 311.2 127.7 310.4 130.4 309.4 131.7ZM218.9 96.4 218.2 96.5 217.4 96.0 216.7 94.8 216.1 93.2 215.3 88.2 215.0 81.7 215.2 68.7 216.0 57.2 216.9 52.0 217.7 50.5 218.4 50.1 219.2 50.6 219.7 51.7 220.7 56.5 221.3 65.2 221.7 78.2 221.6 85.7 221.1 90.7 220.2 94.5 219.7 95.6 218.9 96.4ZM151.4 163.4 150.4 163.5 149.7 162.9 148.9 161.4 148.3 159.2 147.5 153.2 147.1 144.7 147.4 135.2 148.6 119.2 147.2 98.2 147.1 88.7 147.3 78.7 147.8 70.2 148.5 62.7 149.7 56.3 150.9 52.2 151.4 52.9 152.4 56.7 153.6 64.2 154.0 72.7 154.2 86.7 154.1 105.7 153.3 120.7 153.8 138.2 153.7 150.7 152.9 159.7 152.3 162.2 151.4 163.4ZM286.6 163.2 286.1 163.5 285.6 163.4 284.8 162.2 284.2 159.7 283.8 156.2 283.5 143.2 283.7 122.2 282.8 107.2 283.1 66.2 283.9 58.7 284.9 54.3 285.6 52.3 285.9 52.4 286.1 52.9 287.1 56.8 288.5 65.2 289.3 75.7 289.6 87.2 289.4 101.7 288.1 118.7 289.4 137.2 289.5 149.2 289.1 154.7 288.5 158.7 287.7 161.7 286.6 163.2ZM36.4 74.8 36.1 73.7 36.1 70.2 36.4 67.6 36.6 67.4 36.9 68.9 36.9 71.7 36.6 74.4 36.4 74.8ZM400.1 74.7 399.8 70.7 399.9 68.0 400.1 67.4 400.4 68.2 400.6 71.7 400.4 74.6 400.1 74.7ZM59.1 114.0 58.6 114.2 58.1 113.7 57.1 110.2 56.5 104.2 56.3 96.7 56.6 88.7 57.3 81.2 58.3 76.7 58.9 75.5 59.4 75.2 59.9 75.5 60.4 76.4 61.4 80.2 62.0 84.7 62.2 89.7 61.9 97.7 61.1 106.2 60.1 111.7 59.1 114.0ZM378.4 113.9 377.6 114.1 377.1 113.4 376.1 109.7 375.1 101.7 374.5 91.2 374.6 85.7 375.2 80.7 376.2 76.7 376.9 75.3 377.4 75.2 377.9 75.6 378.4 76.7 379.3 80.7 380.0 86.7 380.3 93.2 380.3 100.7 380.0 106.7 379.4 111.2 378.4 113.9ZM81.9 136.9 81.2 137.1 80.7 136.4 79.6 132.7 79.0 126.7 78.9 118.7 79.3 110.7 80.0 104.7 81.2 100.6 81.7 99.8 82.4 99.4 83.4 100.4 84.5 103.7 85.0 107.2 85.1 111.7 84.7 120.2 83.9 128.7 82.9 134.4 81.9 136.9ZM355.6 137.0 354.9 137.0 354.4 136.3 353.2 131.7 352.3 123.7 351.6 113.7 351.6 108.2 352.1 104.2 353.1 100.7 353.6 99.9 354.4 99.4 355.1 99.9 355.6 100.8 356.6 104.2 357.3 109.2 357.7 116.2 357.8 123.2 357.5 129.7 356.7 134.7 356.1 136.2 355.6 137.0ZM218.4 188.8 217.9 188.6 217.4 188.0 216.7 186.2 215.8 182.7 215.1 177.7 214.0 164.2 213.5 147.2 214.0 135.2 215.7 119.3 216.2 116.2 216.9 113.7 217.7 112.4 218.4 112.1 219.2 112.5 219.9 113.9 221.1 119.7 222.8 136.2 223.2 147.2 222.7 163.2 221.7 177.2 221.0 182.2 220.2 185.8 219.4 187.8 218.9 188.5 218.4 188.8ZM104.7 162.0 103.9 162.1 103.4 161.5 102.3 157.7 101.6 151.2 101.4 143.2 101.8 135.7 102.5 129.7 103.7 125.8 104.4 124.6 105.2 124.2 105.9 124.5 106.4 125.1 107.4 127.6 107.9 130.7 108.0 135.2 107.5 145.2 106.7 154.3 105.7 159.9 104.7 162.0ZM333.1 161.7 332.4 162.2 331.9 161.8 331.1 160.2 330.6 158.1 329.6 150.7 328.8 139.2 328.7 132.7 329.1 128.7 330.1 125.3 330.6 124.6 331.4 124.2 332.1 124.5 332.6 125.1 333.8 128.2 334.6 132.7 335.1 138.7 335.3 146.2 335.0 153.2 334.2 158.7 333.1 161.7ZM36.9 165.8 36.4 166.0 35.9 165.2 35.2 161.7 34.6 156.2 34.3 148.7 34.3 141.2 34.6 134.6 35.3 129.7 35.6 128.7 36.1 128.2 36.9 129.8 37.6 134.0 38.2 139.7 38.5 146.7 38.5 153.2 38.2 159.2 37.6 163.4 36.9 165.8ZM400.4 165.9 399.9 166.0 399.6 165.6 398.8 161.7 398.3 155.7 398.2 148.7 398.4 141.2 398.9 135.2 399.6 130.4 400.1 128.7 400.6 128.2 401.1 128.9 401.5 130.2 402.1 135.9 402.2 154.2 401.5 162.2 400.9 164.9 400.4 165.9ZM59.4 200.7 58.6 200.1 57.9 198.5 56.5 191.7 55.6 181.2 55.2 168.7 55.3 156.2 56.0 145.7 57.1 139.4 57.9 137.7 58.6 137.2 59.4 137.7 60.1 139.5 61.5 146.7 62.8 159.2 63.3 172.2 63.1 183.2 62.3 192.2 61.6 196.1 60.9 198.7 60.1 200.3 59.4 200.7ZM377.1 200.7 376.4 200.1 375.6 198.4 374.3 191.7 373.5 182.2 373.4 171.7 374.0 158.7 375.2 146.7 375.9 142.1 376.6 139.2 377.4 137.6 378.1 137.2 378.9 137.9 379.6 139.8 380.8 146.7 381.5 157.2 381.5 169.7 381.1 182.2 380.1 192.2 379.4 196.2 378.7 198.7 377.9 200.3 377.1 200.7ZM127.4 189.8 126.7 189.7 125.9 188.8 124.8 184.7 124.1 177.7 124.0 169.2 124.3 161.7 125.2 155.2 126.4 151.5 127.2 150.5 128.2 150.1 128.9 150.4 129.4 151.0 130.3 153.7 130.7 157.7 130.7 164.2 130.3 174.2 129.6 182.2 128.7 187.4 128.2 188.8 127.4 189.8ZM309.9 189.8 309.1 189.6 308.4 188.4 307.4 184.2 306.6 177.2 306.1 167.2 306.0 159.2 306.3 154.2 307.1 151.3 307.9 150.3 308.6 150.1 309.4 150.4 310.1 151.3 311.4 154.7 312.2 160.2 312.7 167.7 312.7 175.7 312.2 182.7 311.2 187.7 310.6 189.0 309.9 189.8ZM174.4 218.3 173.9 218.5 173.4 218.4 172.4 217.1 171.6 214.7 170.8 211.2 169.8 201.7 169.3 188.7 169.5 175.2 170.3 165.2 171.0 161.2 171.7 158.2 172.7 156.1 173.2 155.5 173.7 155.3 174.4 155.9 175.2 157.8 176.2 163.2 177.7 179.7 178.3 190.7 178.0 200.2 177.1 209.7 175.9 215.3 175.2 217.3 174.4 218.3ZM263.4 218.3 262.9 218.4 262.4 218.3 261.6 217.3 260.9 215.4 260.2 212.7 259.0 203.7 258.4 193.7 258.8 186.2 261.1 162.7 262.1 157.5 262.6 156.3 263.4 155.7 264.1 156.4 265.0 158.2 265.7 161.2 266.3 164.7 267.1 173.7 267.4 185.7 267.1 198.7 266.3 208.2 265.0 215.2 264.1 217.3 263.4 218.3ZM82.9 218.3 82.4 218.5 81.9 218.4 81.2 217.6 80.2 215.2 79.5 212.2 78.5 204.2 77.8 192.2 77.9 179.2 78.5 167.7 79.1 163.7 79.8 160.7 80.6 158.7 81.4 158.0 81.9 158.1 82.4 158.7 83.2 160.3 84.5 166.2 85.8 177.2 86.5 189.7 86.5 199.2 85.7 208.7 84.5 215.2 83.7 217.4 82.9 218.3ZM354.9 218.3 354.4 218.5 353.9 218.4 353.1 217.5 352.2 215.2 351.5 212.2 350.5 203.7 350.1 193.2 350.6 181.2 351.9 168.2 353.4 160.7 354.1 158.9 354.6 158.3 355.1 158.0 355.9 158.5 356.8 160.2 358.0 166.2 358.7 175.7 358.9 186.7 358.6 199.2 357.8 208.7 356.5 215.2 355.6 217.4 354.9 218.3ZM151.9 234.2 150.7 234.5 149.7 233.9 148.7 232.5 147.8 230.2 146.7 223.2 146.1 212.2 146.2 198.7 147.0 188.2 147.7 184.2 148.5 181.7 149.4 179.9 150.7 179.1 151.7 179.5 152.4 180.6 153.3 184.7 155.4 216.2 155.3 222.2 154.6 228.2 153.4 232.2 152.7 233.5 151.9 234.2ZM286.6 234.2 285.6 234.5 284.6 234.1 283.8 233.2 283.1 231.7 281.9 226.7 281.3 219.7 281.6 212.2 283.5 185.2 284.4 180.8 285.1 179.5 285.9 179.1 286.9 179.5 287.9 180.9 288.6 182.9 289.3 185.7 290.2 193.7 290.6 204.2 290.5 216.2 289.7 225.7 288.6 231.2 287.6 233.2 286.6 234.2ZM106.2 234.2 104.9 234.5 103.9 233.9 102.9 232.5 102.1 230.2 101.0 223.7 100.4 213.7 100.4 199.7 101.2 188.7 101.8 185.2 102.5 182.2 103.4 180.5 104.4 179.8 105.4 180.5 106.2 181.9 107.7 187.7 109.1 197.2 109.9 208.2 109.8 218.2 109.1 226.7 107.9 231.7 107.2 233.2 106.2 234.2ZM332.4 234.2 331.1 234.5 330.1 233.9 329.1 232.5 328.3 230.2 327.2 223.2 326.7 212.7 327.3 200.7 328.6 189.7 329.4 185.7 330.4 182.3 331.4 180.3 332.4 179.8 333.1 180.3 334.0 181.7 334.7 184.2 335.3 187.2 336.1 195.7 336.4 207.7 336.1 219.2 335.3 226.7 334.1 231.7 333.4 233.2 332.4 234.2ZM133.9 243.3 133.2 243.5 123.2 243.5 122.2 243.2 122.5 225.7 123.5 213.2 124.1 209.2 125.0 206.2 125.9 204.3 127.2 203.4 127.9 203.6 128.7 204.3 129.9 206.7 131.5 212.2 132.8 218.2 133.5 223.7 133.8 228.7 133.9 243.3ZM314.4 243.3 313.6 243.5 303.6 243.5 302.7 243.2 303.0 227.2 304.0 217.7 305.3 211.7 306.6 207.1 307.9 204.5 309.1 203.4 309.9 203.5 310.4 203.9 311.5 205.7 312.5 208.7 313.2 213.2 313.8 219.2 314.3 227.2 314.4 243.3Z"/>
<path fill="#0000ff" fill-opacity="0.259" fill-rule="evenodd" d="M36.6 33.5 36.4 33.5 36.1 33.2 35.6 31.4 34.9 24.2 34.8 22.2 35.9 22.0 38.1 22.2 37.4 30.8 36.6 33.5ZM59.6 56.9 59.4 57.1 58.9 56.9 58.1 54.7 57.5 51.2 57.1 45.7 56.8 35.7 57.0 22.2 57.6 21.9 61.1 21.9 62.0 22.2 61.9 34.7 61.3 46.7 60.6 53.5 60.1 55.8 59.6 56.9ZM82.4 79.4 81.9 79.5 81.4 79.0 80.6 76.2 80.0 71.7 79.6 64.7 79.9 22.2 80.7 21.9 83.9 21.9 84.5 22.2 85.0 46.2 84.7 59.7 83.8 73.7 83.2 77.7 82.4 79.4ZM105.2 103.4 104.7 103.4 104.2 102.9 103.4 100.7 102.8 96.7 102.4 90.7 102.3 81.7 102.7 62.2 102.4 33.2 102.9 22.2 103.7 22.0 106.7 21.9 107.3 22.2 107.5 26.7 107.8 74.2 106.9 95.2 106.2 100.8 105.7 102.6 105.2 103.4ZM151.2 44.1 150.7 43.9 150.4 43.5 149.9 41.6 149.1 34.7 148.7 22.2 149.7 21.9 152.4 22.0 153.1 22.2 152.6 37.2 151.9 42.0 151.2 44.1ZM173.9 143.7 173.2 143.4 172.4 142.1 171.1 137.2 170.3 130.2 169.9 120.2 170.2 104.2 171.7 77.7 171.8 22.2 172.9 21.9 174.9 21.9 175.9 22.2 175.8 73.2 176.8 95.7 177.2 117.2 177.2 128.7 176.7 136.2 176.2 139.2 175.5 141.7 174.7 143.3 173.9 143.7ZM196.9 69.4 196.7 69.5 196.4 69.3 195.9 68.0 194.9 62.6 194.3 55.7 194.1 47.2 194.2 36.7 194.8 28.7 195.7 23.4 196.0 22.2 196.7 22.1 197.4 22.2 197.7 23.0 198.5 28.2 199.1 36.7 199.3 47.7 199.2 54.7 198.8 60.7 197.9 66.4 196.9 69.4ZM218.9 31.8 218.4 32.2 217.9 31.9 217.4 31.1 216.9 29.4 216.1 22.2 216.7 22.0 219.7 21.9 220.6 22.2 219.9 28.7 219.5 30.7 218.9 31.8ZM240.2 69.3 239.7 69.0 239.2 67.6 238.2 62.7 237.6 57.2 237.4 51.2 237.7 39.2 238.2 29.2 239.1 23.2 239.4 22.2 239.9 22.1 240.7 22.2 240.9 22.9 241.8 27.7 242.4 34.7 242.6 44.7 242.5 53.2 242.0 60.7 241.2 66.5 240.7 68.4 240.2 69.3ZM262.9 143.7 262.1 143.4 261.6 142.7 260.6 139.7 260.1 135.7 259.8 129.7 260.1 91.7 260.9 76.2 261.1 67.7 260.8 22.2 261.9 21.9 263.9 21.9 264.9 22.2 265.0 78.2 266.4 103.7 266.8 115.7 266.6 127.2 265.8 135.7 265.2 139.2 264.5 141.7 263.6 143.3 262.9 143.7ZM286.1 43.7 285.6 44.0 285.1 43.1 284.3 37.2 283.7 22.2 284.4 21.9 287.1 22.0 288.0 22.2 287.5 36.2 286.9 41.1 286.1 43.7ZM332.1 103.4 331.6 103.4 331.4 103.2 330.9 102.2 330.1 98.2 329.5 89.7 329.0 76.7 329.2 26.7 329.4 22.2 330.1 21.9 332.9 21.9 333.8 22.2 334.2 32.2 334.3 42.7 334.0 62.2 334.4 81.2 334.4 89.7 333.6 99.2 332.9 102.1 332.1 103.4ZM355.1 79.2 354.6 79.6 354.1 79.3 353.6 78.1 353.1 75.7 352.5 69.7 352.0 60.7 351.7 46.2 352.2 22.2 352.9 21.9 356.1 22.0 356.8 22.2 357.1 65.2 356.4 74.2 355.9 77.2 355.1 79.2ZM377.9 56.7 377.4 57.1 377.1 57.0 376.4 55.3 375.4 47.2 374.9 37.2 374.7 25.7 374.7 22.2 375.4 22.0 378.9 21.9 379.8 22.2 379.9 35.7 379.6 45.7 379.0 52.7 378.5 55.2 377.9 56.7ZM400.4 33.5 400.1 33.6 399.9 33.3 399.4 31.4 398.6 23.8 398.6 22.2 399.6 22.0 401.9 22.2 401.3 29.7 400.9 32.1 400.4 33.5ZM127.9 129.8 127.4 129.8 126.9 129.3 126.1 127.2 125.5 123.7 125.1 118.7 125.0 109.2 125.7 90.2 124.9 63.2 125.1 52.2 125.8 42.7 126.9 36.7 127.4 35.5 128.2 34.9 128.9 35.7 129.4 37.0 130.2 42.7 130.6 51.2 130.7 67.2 130.5 94.7 130.0 116.2 129.2 126.2 128.7 128.5 127.9 129.8ZM309.4 129.7 308.6 129.6 307.9 128.0 307.0 121.2 306.5 110.2 306.1 87.7 306.0 59.2 306.3 45.7 306.6 41.2 307.1 37.7 307.9 35.5 308.6 34.9 309.4 35.6 309.9 37.0 310.8 42.2 311.5 50.7 311.8 61.2 311.7 71.2 311.0 90.2 311.7 109.2 311.6 117.7 310.9 125.7 310.1 128.6 309.4 129.7ZM218.9 94.9 218.2 95.1 217.4 94.5 216.3 91.7 215.5 86.7 215.3 80.2 215.5 68.7 216.1 58.7 217.1 53.2 217.7 52.0 218.4 51.6 219.2 52.2 219.7 53.3 220.5 57.7 221.1 65.2 221.4 76.2 221.4 83.7 220.9 88.7 220.1 92.7 219.7 93.9 218.9 94.9ZM151.4 161.7 150.7 162.0 149.9 161.4 149.3 160.2 148.7 158.2 147.8 152.2 147.6 144.7 147.9 134.7 149.3 119.2 147.6 98.7 147.4 89.7 147.5 79.7 148.0 71.2 148.8 63.7 149.9 58.4 150.4 57.1 150.9 56.5 151.4 56.8 152.2 58.7 153.3 65.2 153.8 73.2 154.1 86.2 153.8 104.2 152.6 119.7 153.5 136.7 153.5 149.7 152.7 158.2 152.2 160.5 151.4 161.7ZM286.1 161.8 285.4 161.4 284.6 159.7 284.1 156.7 283.8 152.2 283.7 139.2 284.2 120.7 283.2 108.2 283.0 96.2 283.0 77.7 283.4 66.7 284.3 59.7 284.9 57.6 285.6 56.5 286.1 56.8 286.9 58.7 288.2 66.2 289.0 76.2 289.3 88.2 289.0 101.7 287.4 119.2 288.9 136.7 289.0 149.2 288.7 154.2 288.0 158.2 287.1 160.8 286.1 161.8ZM197.2 197.7 196.7 197.9 196.2 197.6 195.4 196.1 194.7 193.3 194.0 189.2 193.0 177.7 192.6 162.2 193.3 111.2 193.7 96.7 194.2 89.2 194.9 83.7 195.9 78.9 196.7 77.6 197.2 78.3 197.7 80.2 198.5 85.7 199.3 94.2 200.0 105.7 200.3 116.2 199.7 138.7 200.8 166.2 200.5 176.7 199.6 188.2 198.4 195.0 197.9 196.5 197.2 197.7ZM59.4 111.8 58.9 112.1 58.4 111.7 57.5 108.7 57.0 103.7 56.8 97.2 57.0 89.7 57.5 83.7 58.4 79.2 58.9 78.1 59.4 77.7 59.9 78.0 60.4 79.0 61.1 81.9 61.7 86.2 61.8 90.7 61.6 97.7 61.0 104.7 60.2 109.7 59.4 111.8ZM240.4 197.7 239.7 197.8 238.9 196.7 238.2 194.2 237.6 191.2 236.5 180.7 235.9 168.7 237.4 138.7 237.2 130.7 236.5 117.2 236.5 110.2 238.4 86.0 239.4 79.5 240.2 77.9 240.9 79.3 241.9 84.3 242.5 89.7 243.0 97.2 243.4 110.2 244.1 159.2 243.8 174.2 243.1 185.7 241.9 194.0 241.2 196.5 240.4 197.7ZM378.1 111.9 377.6 112.1 377.1 111.5 376.1 107.9 375.4 101.7 374.9 93.7 374.9 87.7 375.3 83.2 376.1 79.4 376.6 78.2 377.1 77.8 377.6 77.9 378.1 78.8 378.9 81.7 379.5 86.7 379.9 93.2 379.9 99.7 379.6 105.7 379.0 109.7 378.1 111.9ZM82.2 134.8 81.7 135.2 81.2 134.9 80.6 133.7 80.1 131.7 79.5 126.7 79.3 119.7 79.6 112.7 80.3 106.7 81.2 103.1 81.7 102.1 82.4 101.6 82.9 101.9 83.4 102.7 84.2 105.2 84.6 108.7 84.8 113.2 84.5 119.7 83.9 126.8 83.2 131.7 82.2 134.8ZM355.6 134.8 355.4 135.1 354.9 135.1 354.4 134.5 353.4 130.9 352.5 124.2 352.0 116.2 352.0 110.7 352.4 106.2 353.3 102.7 353.9 101.8 354.4 101.6 354.9 101.9 355.4 102.7 356.3 105.7 356.9 110.7 357.3 116.2 357.3 122.7 357.1 128.2 356.5 132.2 355.6 134.8ZM218.9 185.7 218.4 186.0 217.9 185.8 217.2 184.6 216.3 181.7 215.5 177.2 214.3 163.7 213.8 147.7 214.2 135.2 215.6 121.2 216.2 117.7 216.9 115.1 217.7 113.8 218.4 113.4 219.2 113.9 219.9 115.4 221.0 120.7 222.3 133.7 222.9 145.7 222.6 159.7 221.7 172.7 220.4 181.7 219.7 184.4 218.9 185.7ZM104.9 160.2 104.4 160.5 103.7 159.9 102.7 156.7 102.1 151.2 101.9 144.2 102.1 137.2 102.9 131.2 103.9 127.5 104.4 126.7 105.2 126.2 105.7 126.3 106.2 126.8 107.1 129.2 107.5 132.2 107.7 136.7 107.4 144.7 106.7 152.7 105.9 157.5 104.9 160.2ZM332.6 160.4 332.1 160.5 331.6 160.0 330.6 156.2 329.6 148.8 329.1 140.2 329.1 134.2 329.4 130.2 330.3 127.2 330.9 126.4 331.4 126.2 332.1 126.5 332.6 127.2 333.6 130.2 334.3 134.7 334.8 140.7 334.8 147.7 334.4 153.7 333.7 158.2 333.1 159.7 332.6 160.4ZM36.9 158.2 36.6 158.6 36.4 158.6 35.7 156.2 35.1 147.7 35.4 137.7 35.9 134.8 36.1 134.3 36.4 134.3 36.9 135.5 37.4 138.6 37.8 145.7 37.6 153.2 36.9 158.2ZM400.4 158.5 400.1 158.7 399.9 158.4 399.4 156.5 398.9 147.7 399.4 137.8 399.9 135.1 400.4 134.3 400.9 135.1 401.3 137.2 401.6 145.2 401.3 153.7 400.9 156.8 400.4 158.5ZM59.6 197.8 58.9 197.6 58.1 196.1 56.9 190.2 56.0 180.7 55.5 168.7 55.7 156.2 56.3 147.2 57.4 141.0 58.1 139.3 58.9 138.9 59.6 139.7 60.1 140.9 61.5 147.7 62.5 158.7 63.0 170.2 62.9 180.2 62.2 188.7 61.1 195.2 60.4 197.0 59.6 197.8ZM377.6 197.7 376.9 197.8 376.1 196.7 375.4 194.3 374.8 191.2 374.0 182.7 373.7 171.7 374.1 160.2 375.1 148.3 376.4 141.4 377.1 139.5 377.9 138.9 378.6 139.5 379.2 140.7 380.3 146.2 381.0 155.2 381.2 166.2 380.9 178.2 380.1 187.7 379.0 194.7 378.4 196.5 377.6 197.7ZM127.7 188.4 127.2 188.6 126.4 188.0 125.8 186.7 125.2 184.2 124.5 178.2 124.3 170.2 124.7 162.2 125.5 156.7 126.7 152.9 127.4 151.9 128.2 151.7 128.7 151.9 129.3 152.7 130.0 155.2 130.4 159.2 130.5 165.2 130.2 174.2 129.5 181.2 128.7 186.3 127.7 188.4ZM310.1 188.2 309.4 188.6 308.9 188.2 307.9 185.7 306.9 179.2 306.4 170.7 306.2 162.2 306.5 156.2 307.4 152.8 307.9 152.0 308.6 151.7 309.4 152.0 309.9 152.7 311.0 155.7 311.8 160.2 312.3 166.7 312.3 174.2 312.0 180.7 311.2 185.7 310.1 188.2ZM174.2 216.3 173.7 216.3 173.2 216.0 172.4 214.7 171.7 212.4 171.0 209.2 170.0 199.7 169.6 187.7 169.8 176.2 170.6 166.2 171.9 160.0 172.7 158.3 173.2 157.7 173.7 157.5 174.4 158.1 175.1 159.7 176.2 165.1 177.5 179.2 178.0 190.2 177.7 199.2 176.8 208.2 175.7 213.7 174.9 215.5 174.2 216.3ZM263.1 216.3 262.4 216.1 261.6 215.1 260.9 213.0 260.3 210.2 259.2 201.7 258.8 192.7 259.3 183.2 261.1 164.5 262.1 159.5 262.6 158.4 263.4 157.9 264.1 158.6 264.9 160.4 266.1 166.2 266.8 175.2 267.1 186.7 266.8 197.7 266.0 207.2 264.7 213.7 263.9 215.5 263.1 216.3ZM82.7 216.3 82.2 216.4 81.7 216.0 80.9 214.8 79.6 209.7 78.6 200.7 78.2 190.2 78.3 177.7 79.0 167.7 80.2 161.6 80.9 160.0 81.7 159.5 82.4 159.9 83.2 161.4 84.5 167.7 85.7 178.7 86.2 189.7 86.1 199.7 85.3 208.2 84.2 213.8 83.4 215.5 82.7 216.3ZM354.6 216.3 354.1 216.4 353.6 216.0 352.9 214.7 351.6 209.7 350.7 201.2 350.4 190.7 351.0 178.7 352.1 167.9 352.9 163.8 353.6 161.2 354.4 159.8 355.1 159.5 355.9 160.1 356.6 161.9 357.7 167.7 358.4 177.2 358.6 187.7 358.2 198.7 357.3 208.2 356.1 213.8 355.4 215.6 354.6 216.3ZM151.7 233.2 150.7 233.4 149.6 232.7 148.7 231.2 147.9 228.7 147.0 222.2 146.4 211.7 146.5 199.2 147.3 189.2 147.9 185.7 148.7 182.9 149.7 181.0 150.7 180.3 151.4 180.5 152.2 181.6 152.7 183.2 153.2 186.2 154.5 203.2 155.1 214.7 155.0 221.2 154.3 227.2 153.2 231.3 152.4 232.6 151.7 233.2ZM286.4 233.2 285.4 233.4 284.6 233.0 283.9 232.0 283.1 230.2 282.1 225.2 281.6 218.7 281.8 210.7 283.6 186.7 284.4 182.2 285.1 180.8 285.9 180.4 286.9 180.8 287.6 182.0 288.4 184.0 289.0 186.7 290.0 195.2 290.3 205.2 290.1 217.2 289.3 225.7 288.1 230.7 287.4 232.2 286.4 233.2ZM105.9 233.2 104.9 233.4 103.9 232.7 103.0 231.2 102.3 229.2 101.2 222.7 100.7 212.7 100.7 200.2 101.5 189.7 102.0 186.2 102.8 183.2 103.7 181.5 104.2 181.0 104.7 180.9 105.7 181.8 106.4 183.4 107.8 189.2 109.0 198.2 109.6 208.2 109.5 217.7 108.8 225.7 107.7 230.7 106.9 232.2 105.9 233.2ZM332.1 233.2 331.1 233.4 330.1 232.7 329.2 231.2 328.4 228.7 327.4 221.7 327.0 211.7 327.5 200.7 328.7 190.2 329.5 186.2 330.4 183.1 331.1 181.6 332.1 180.9 332.9 181.3 333.7 182.7 334.5 185.2 335.0 188.2 335.8 196.7 336.1 207.7 335.8 218.2 335.0 226.2 334.4 229.1 333.7 231.2 332.9 232.6 332.1 233.2ZM133.7 243.3 133.2 243.4 123.2 243.4 122.5 243.2 122.7 226.2 123.7 213.7 124.4 209.7 125.3 206.7 126.4 204.8 127.4 204.2 128.2 204.5 128.7 204.9 129.9 207.3 131.2 211.7 132.5 217.7 133.1 222.2 133.5 228.2 133.7 243.3ZM314.1 243.3 313.6 243.4 303.6 243.4 303.0 243.2 303.2 227.7 304.2 217.7 305.3 212.2 306.6 207.7 307.9 205.1 308.6 204.4 309.1 204.2 309.9 204.4 310.4 204.9 311.4 206.7 312.3 209.7 313.0 214.2 314.0 227.7 314.1 243.3Z"/>
<path fill="#0000ff" fill-opacity="0.349" fill-rule="evenodd" d="M36.6 30.2 36.4 30.2 36.1 29.8 35.9 28.9 35.3 24.7 35.1 22.2 35.9 22.0 37.9 22.2 37.4 27.3 36.6 30.2ZM59.6 55.0 59.4 55.1 58.9 54.8 58.3 53.2 57.7 49.7 57.3 45.2 57.1 28.2 57.2 22.2 57.6 22.0 61.7 22.2 61.7 33.2 61.3 44.7 60.6 51.3 60.1 53.8 59.6 55.0ZM82.2 77.7 81.4 76.9 80.7 74.2 79.9 65.2 79.8 56.2 80.2 35.7 80.1 22.2 80.7 22.0 83.9 22.0 84.4 22.2 84.7 47.7 84.5 58.7 83.7 72.9 82.9 76.7 82.2 77.7ZM105.4 101.3 104.9 101.7 104.4 101.3 103.5 98.7 102.9 93.7 102.6 87.2 103.0 62.7 102.7 33.2 103.2 22.2 103.9 22.0 107.1 22.2 107.4 29.2 107.4 81.2 106.7 95.2 106.2 98.9 105.4 101.3ZM151.2 41.2 150.7 41.1 150.2 39.8 149.4 34.2 149.0 22.2 149.7 22.0 152.9 22.2 152.4 35.1 151.9 39.0 151.2 41.2ZM174.4 141.7 173.7 141.9 172.9 141.2 172.2 139.5 171.5 136.7 170.6 129.7 170.2 120.7 170.5 104.7 172.2 77.7 172.1 22.2 172.9 22.0 175.6 22.2 175.5 75.2 176.6 96.7 177.0 114.2 177.0 126.2 176.6 133.7 175.7 139.2 175.2 140.6 174.4 141.7ZM218.4 30.7 217.7 30.1 216.9 27.3 216.4 22.2 216.9 22.0 220.3 22.2 219.6 28.2 219.2 29.9 218.4 30.7ZM263.4 141.7 262.6 141.9 262.1 141.6 261.4 140.2 260.9 138.6 260.3 134.2 260.0 127.7 260.3 94.7 261.4 71.7 261.1 22.2 261.9 22.0 264.6 22.2 264.5 77.7 266.1 101.7 266.5 114.2 266.4 124.7 265.8 132.7 264.8 138.7 264.1 140.6 263.4 141.7ZM286.1 40.9 285.6 41.2 285.1 40.2 284.5 35.7 283.9 22.2 284.4 22.0 287.7 22.2 287.3 34.2 286.9 38.2 286.1 40.9ZM332.1 101.5 331.6 101.6 331.1 101.0 330.3 97.2 329.7 90.2 329.3 80.2 329.3 30.7 329.6 22.2 330.1 22.0 333.5 22.2 334.0 32.2 334.1 42.7 333.7 62.2 334.1 88.7 333.4 97.4 332.9 99.9 332.1 101.5ZM354.6 77.7 354.1 77.4 353.9 76.9 353.1 73.2 352.5 67.2 352.2 58.7 352.0 47.2 352.3 22.2 352.9 22.0 356.6 22.2 356.8 64.7 356.5 70.2 356.0 74.2 355.4 76.6 354.6 77.7ZM377.6 55.0 377.1 55.1 376.9 54.7 376.4 53.2 375.5 45.7 374.9 28.2 375.0 22.2 375.4 22.0 379.5 22.2 379.7 35.2 379.4 45.2 378.6 52.0 378.1 54.1 377.6 55.0ZM400.1 30.2 399.6 29.2 399.4 27.9 398.8 22.2 400.6 22.0 401.6 22.2 400.9 28.4 400.6 29.7 400.1 30.2ZM196.7 66.2 196.2 65.6 195.7 64.0 195.0 59.7 194.5 53.7 194.3 45.7 194.5 37.2 195.0 30.2 195.7 25.5 196.2 23.9 196.7 23.3 197.2 23.7 197.7 25.0 198.4 29.7 198.9 37.2 199.1 47.2 199.0 54.2 198.5 60.2 197.7 64.5 197.2 65.9 196.7 66.2ZM240.4 65.8 240.2 66.1 239.7 65.9 238.6 62.7 237.9 57.2 237.7 50.7 237.8 40.7 238.3 31.2 238.9 26.0 239.4 24.1 239.9 23.4 240.4 23.6 240.8 24.7 241.6 28.7 242.1 34.7 242.4 43.2 242.3 51.2 241.9 57.7 241.2 63.2 240.4 65.8ZM128.2 127.7 127.7 128.0 127.2 127.7 126.4 125.8 125.8 122.7 125.5 118.2 125.4 109.2 126.1 90.2 125.3 72.7 125.1 63.2 125.3 52.7 126.0 43.7 126.9 38.4 127.4 37.0 128.2 36.4 128.7 36.8 129.2 38.2 130.0 43.2 130.4 50.7 130.5 62.2 129.9 114.2 129.2 123.7 128.7 126.6 128.2 127.7ZM309.4 127.9 308.9 128.0 308.6 127.9 307.9 126.1 307.3 122.7 306.9 117.1 306.6 108.2 306.2 69.2 306.2 53.7 306.6 44.2 307.4 38.5 307.9 37.0 308.6 36.4 309.1 36.8 309.8 38.2 310.7 43.7 311.3 51.2 311.6 61.2 311.5 71.7 310.6 90.2 311.3 108.2 311.3 116.7 310.6 124.1 310.1 126.4 309.4 127.9ZM218.7 93.8 217.9 93.7 217.4 93.1 216.3 89.7 215.7 84.7 215.5 78.2 215.7 67.7 216.3 59.2 217.2 54.6 217.7 53.4 218.4 52.9 218.9 53.2 219.4 54.2 220.3 58.7 220.9 66.2 221.2 76.2 221.1 83.7 220.6 88.7 219.7 92.2 219.2 93.3 218.7 93.8ZM151.2 160.4 150.7 160.4 150.2 160.1 149.2 157.8 148.5 154.2 148.0 149.2 147.9 142.2 148.2 135.2 150.2 119.2 148.2 104.2 147.8 97.2 147.6 89.2 147.9 78.2 148.6 68.2 149.7 61.5 150.2 59.9 150.9 58.8 151.7 59.5 152.2 60.9 153.2 67.2 153.7 75.7 153.9 87.7 153.5 105.2 151.7 119.2 153.2 134.8 153.4 142.2 153.2 149.2 152.5 157.2 151.9 159.3 151.2 160.4ZM286.6 159.8 286.1 160.2 285.6 160.1 284.9 158.7 284.4 156.1 284.0 151.7 283.8 144.2 283.9 136.2 285.0 119.7 283.6 108.2 283.1 95.2 283.2 78.7 283.5 68.2 284.4 61.6 284.9 59.9 285.6 58.8 286.4 59.5 286.9 60.9 287.9 66.7 288.7 75.7 289.1 86.2 289.0 95.2 288.6 103.2 286.5 119.2 288.5 135.2 288.8 141.7 288.7 147.7 288.0 155.7 287.4 158.3 286.6 159.8ZM59.4 109.9 58.9 110.1 58.6 109.9 57.8 107.2 57.3 102.7 57.1 96.7 57.3 90.7 57.8 85.2 58.5 81.7 58.9 80.5 59.4 80.1 60.1 80.8 60.9 83.5 61.4 87.7 61.5 92.2 61.3 98.2 60.8 103.7 60.1 107.9 59.4 109.9ZM378.1 109.7 377.6 110.1 377.1 109.7 376.4 107.2 375.7 101.7 375.3 95.2 375.2 89.7 375.6 85.2 376.2 81.7 376.6 80.6 377.1 80.1 377.9 80.7 378.6 83.4 379.2 87.7 379.5 92.7 379.6 98.7 379.3 103.7 378.9 107.2 378.1 109.7ZM197.2 195.3 196.4 195.4 195.6 194.2 194.9 191.6 194.2 187.2 193.3 176.2 192.9 162.2 193.5 130.7 193.6 109.7 193.9 98.2 194.4 91.2 195.0 85.7 195.9 82.0 196.7 80.9 197.2 81.4 197.7 83.0 198.4 87.4 199.2 95.2 199.7 104.7 200.0 115.2 199.5 138.2 200.5 165.7 200.2 175.7 199.4 185.7 198.4 192.3 197.9 194.0 197.2 195.3ZM240.4 195.3 239.7 195.4 238.9 194.2 237.8 189.2 236.7 179.2 236.2 167.7 237.5 138.7 237.4 130.7 236.8 116.7 236.9 109.2 238.4 88.4 239.2 83.4 239.7 81.7 240.2 81.2 240.9 82.3 241.7 86.2 242.4 91.7 242.8 98.7 243.8 159.7 243.6 173.2 242.9 184.2 241.8 191.7 241.2 194.0 240.4 195.3ZM81.9 133.2 81.4 133.1 80.9 132.2 80.2 129.2 79.8 124.7 79.7 118.7 80.0 112.7 80.6 107.7 81.4 104.7 81.9 103.9 82.4 103.7 82.9 104.0 83.3 104.7 84.0 107.2 84.4 111.2 84.4 115.7 84.1 121.7 83.5 127.7 82.7 131.9 81.9 133.2ZM355.1 133.2 354.6 133.1 354.1 132.2 353.4 129.1 352.6 122.9 352.3 116.2 352.3 111.2 352.7 107.2 353.4 104.7 353.9 103.9 354.4 103.7 354.9 104.0 355.4 105.0 356.1 107.7 356.7 112.2 357.0 117.7 356.9 123.2 356.6 128.2 356.0 131.7 355.1 133.2ZM218.4 183.8 217.7 183.3 216.8 181.2 215.5 173.7 214.5 161.7 214.1 146.7 214.5 134.7 215.7 122.2 216.9 116.4 217.7 115.0 218.4 114.6 219.2 115.1 219.9 116.7 221.1 122.7 222.3 135.2 222.6 146.7 222.2 160.7 221.3 173.2 220.7 177.8 219.9 181.2 219.2 183.1 218.4 183.8ZM104.9 158.8 104.4 159.0 103.9 158.5 102.9 155.2 102.4 150.2 102.2 143.7 102.5 137.2 103.2 132.4 104.2 129.0 104.7 128.2 105.2 127.9 105.7 128.1 106.2 128.8 106.9 131.2 107.3 134.7 107.4 138.7 107.1 145.2 106.5 152.2 105.7 156.7 104.9 158.8ZM332.6 158.8 332.1 159.0 331.6 158.6 330.6 155.3 329.9 149.5 329.4 142.2 329.3 136.2 329.6 132.1 330.4 129.1 330.9 128.3 331.4 128.0 331.9 128.1 332.4 128.7 333.3 131.2 334.0 135.2 334.4 140.7 334.4 147.2 334.1 152.7 333.5 156.7 332.6 158.8ZM59.9 195.3 59.1 195.4 58.4 194.2 57.2 189.2 56.3 180.7 55.9 169.7 55.9 157.7 56.5 148.7 57.5 142.7 58.1 141.1 58.9 140.4 59.6 141.0 60.1 142.2 61.3 148.2 62.3 157.7 62.7 168.2 62.7 177.7 62.1 186.2 61.1 192.1 60.6 193.9 59.9 195.3ZM377.6 195.3 376.9 195.3 376.1 194.1 375.0 189.2 374.2 180.7 373.9 170.7 374.3 159.7 375.3 148.7 376.4 142.7 377.1 140.9 377.9 140.4 378.6 141.2 379.1 142.6 380.1 147.7 380.7 156.2 380.9 166.2 380.6 177.2 379.9 185.7 378.9 192.3 378.4 194.0 377.6 195.3ZM127.7 187.3 126.9 187.3 126.4 186.6 125.4 183.2 124.8 177.2 124.7 170.2 125.0 163.2 125.7 157.7 126.9 154.1 127.4 153.4 128.2 153.2 128.7 153.4 129.2 154.2 129.9 157.0 130.3 161.2 130.3 166.7 130.0 174.7 129.4 181.2 128.7 185.2 128.2 186.6 127.7 187.3ZM309.6 187.4 309.1 187.4 308.6 186.8 307.6 183.4 306.9 177.4 306.5 169.2 306.4 162.2 306.8 157.2 307.5 154.2 308.1 153.3 308.6 153.1 309.4 153.5 309.9 154.3 310.9 157.2 311.6 161.7 312.0 168.2 312.0 175.2 311.6 181.2 310.7 185.7 310.1 186.9 309.6 187.4ZM174.4 214.3 173.7 214.5 172.8 213.7 172.1 211.7 171.4 208.7 170.4 200.7 169.9 189.2 170.1 177.7 170.8 167.7 171.4 164.0 172.1 161.2 172.9 159.6 173.7 159.2 174.4 159.7 174.9 160.8 176.0 166.2 177.2 178.2 177.7 188.7 177.5 197.2 176.8 205.7 175.7 211.6 175.1 213.2 174.4 214.3ZM263.4 214.3 262.6 214.5 261.9 213.7 260.6 209.7 259.5 201.7 259.1 192.7 259.5 183.2 260.9 167.7 261.9 161.9 262.4 160.4 263.1 159.6 263.9 160.0 264.6 161.5 265.8 166.7 266.5 174.7 266.8 184.7 266.5 196.2 265.8 205.2 264.8 211.2 264.1 213.1 263.4 214.3ZM82.9 214.3 82.2 214.6 81.4 213.8 80.7 212.1 80.0 209.2 79.0 201.2 78.4 190.2 78.5 178.2 79.2 168.7 79.7 165.2 80.4 162.6 81.2 161.1 81.9 160.7 82.7 161.4 83.2 162.7 84.5 168.7 85.5 178.2 86.0 188.2 85.9 197.7 85.2 205.7 84.2 211.7 83.6 213.2 82.9 214.3ZM354.9 214.3 354.1 214.5 353.4 213.8 352.6 212.0 352.0 209.2 351.0 201.2 350.7 191.2 351.1 180.2 352.1 169.7 353.4 163.0 354.1 161.3 354.9 160.7 355.6 161.2 356.3 162.7 357.4 167.7 358.1 175.7 358.3 185.7 358.1 196.2 357.3 205.2 356.3 211.2 355.6 213.2 354.9 214.3ZM151.7 232.3 150.7 232.4 149.7 231.6 148.9 230.3 148.2 228.2 147.2 221.7 146.7 211.7 146.8 199.7 147.6 189.7 148.2 186.2 148.9 183.7 149.7 182.2 150.7 181.4 151.4 181.7 152.2 182.8 153.2 187.3 154.0 197.2 154.9 213.2 154.8 220.2 154.2 225.7 153.2 230.1 152.4 231.5 151.7 232.3ZM286.4 232.3 285.4 232.4 284.6 231.9 283.9 230.9 283.3 229.2 282.3 224.2 281.8 217.7 282.1 209.2 283.6 188.2 284.5 183.2 285.1 182.0 285.9 181.5 286.9 182.0 287.6 183.2 288.8 187.7 289.7 195.7 290.1 205.2 289.9 215.2 289.2 224.2 288.0 229.7 287.4 231.2 286.4 232.3ZM105.9 232.3 104.9 232.4 103.9 231.7 103.2 230.3 102.5 228.2 101.5 222.2 100.9 212.7 101.0 200.2 101.7 190.2 103.0 184.2 103.9 182.4 104.7 181.9 105.4 182.3 106.2 183.6 107.7 189.2 108.8 197.7 109.4 207.7 109.3 217.2 108.6 224.7 107.5 229.7 106.9 231.2 105.9 232.3ZM332.1 232.3 331.1 232.4 330.1 231.6 329.4 230.2 328.6 227.7 327.6 220.2 327.3 211.2 327.7 200.2 328.8 190.7 329.6 186.7 330.4 184.0 331.1 182.5 331.6 182.0 332.1 181.9 332.9 182.5 333.6 184.0 334.8 189.2 335.6 197.2 335.8 207.7 335.6 217.7 334.8 225.2 333.6 230.1 332.9 231.5 332.1 232.3ZM133.4 243.3 123.2 243.4 122.7 243.2 123.0 226.7 123.8 215.2 124.5 210.7 125.4 207.7 126.4 205.6 127.4 205.0 127.9 205.0 128.7 205.6 129.9 207.9 131.2 212.2 132.3 217.7 133.0 223.2 133.3 228.7 133.5 238.2 133.4 243.3ZM313.9 243.3 303.6 243.4 303.2 243.2 303.4 227.7 304.3 218.2 305.3 213.2 306.5 208.7 307.6 206.1 308.9 205.0 309.6 205.1 310.1 205.5 311.2 207.2 312.1 210.2 312.8 214.7 313.8 228.2 314.0 238.7 313.9 243.3Z"/>
<path fill="#0000ff" fill-opacity="0.536" fill-rule="evenodd" d="M36.6 27.1 36.4 27.1 36.2 26.7 35.9 25.6 35.5 22.2 35.6 22.2 37.6 22.2 37.1 25.6 36.6 27.1ZM59.4 53.3 58.9 52.9 58.2 50.7 57.5 43.7 57.3 30.7 57.4 22.2 57.6 22.1 61.5 22.2 61.5 33.7 61.1 44.2 60.4 50.8 59.9 52.7 59.4 53.3ZM82.4 75.9 81.9 75.9 81.7 75.5 80.9 72.9 80.4 68.7 80.1 63.2 80.3 22.2 80.7 22.1 84.2 22.2 84.5 49.2 84.3 59.7 83.7 70.8 83.2 74.0 82.4 75.9ZM105.2 99.8 104.7 99.8 104.4 99.4 103.7 97.2 103.2 93.7 102.9 88.7 102.9 80.7 103.3 62.2 102.8 43.2 102.9 33.7 103.4 22.2 106.7 22.1 107.0 22.2 107.0 23.2 107.3 33.2 107.2 80.2 106.5 94.2 105.9 98.1 105.2 99.8ZM151.2 38.8 150.9 38.9 150.7 38.6 150.4 38.1 149.7 33.4 149.2 22.2 149.7 22.1 152.7 22.2 152.2 33.7 151.7 37.5 151.2 38.8ZM174.2 140.4 173.4 140.3 172.7 139.2 171.6 135.2 170.8 128.7 170.5 119.7 170.8 103.7 172.6 77.7 172.4 58.7 172.6 38.7 172.4 22.2 172.9 22.1 175.3 22.2 175.1 40.2 175.0 75.7 176.4 97.2 176.8 114.7 176.8 125.7 176.3 133.2 175.4 138.2 174.9 139.5 174.2 140.4ZM218.7 29.3 218.2 29.3 217.9 29.1 217.4 27.7 216.6 22.7 216.6 22.2 216.9 22.1 220.1 22.2 219.5 27.2 218.7 29.3ZM263.1 140.4 262.4 140.3 261.9 139.6 261.0 136.7 260.4 132.2 260.2 125.2 260.5 96.7 261.7 74.7 261.7 42.2 261.4 22.2 261.9 22.1 264.3 22.2 264.1 38.7 264.3 58.7 264.1 77.2 265.8 101.7 266.2 114.7 266.1 124.7 265.6 132.2 264.6 137.7 263.9 139.5 263.1 140.4ZM285.9 38.8 285.4 38.4 285.1 37.7 284.6 33.7 284.1 23.7 284.1 22.2 284.4 22.1 287.5 22.2 287.0 33.7 286.5 37.2 285.9 38.8ZM331.9 99.9 331.4 99.7 331.1 99.2 330.4 95.7 329.8 89.7 329.5 81.2 329.4 32.7 329.7 22.2 330.1 22.1 333.3 22.2 333.8 32.7 333.9 43.2 333.4 62.7 333.8 80.2 333.8 88.2 333.1 96.3 332.6 98.6 331.9 99.9ZM354.9 75.8 354.4 75.9 354.1 75.7 353.4 73.2 352.8 68.2 352.4 60.7 352.2 49.7 352.5 22.2 352.9 22.1 356.4 22.2 356.6 62.7 356.0 71.2 355.5 74.2 354.9 75.8ZM377.4 53.3 376.9 52.9 376.4 51.3 375.6 43.7 375.1 30.2 375.2 22.2 375.4 22.1 379.3 22.2 379.4 34.7 379.2 44.2 378.4 51.0 377.9 52.7 377.4 53.3ZM400.4 27.0 400.1 27.2 399.9 26.9 399.6 26.1 399.1 22.2 401.2 22.2 400.9 25.0 400.4 27.0ZM196.9 63.8 196.4 63.7 196.0 62.7 195.3 59.2 194.8 53.7 194.5 46.2 194.7 38.2 195.1 31.7 195.8 26.7 196.2 25.7 196.7 25.0 197.2 25.4 197.4 26.0 198.2 30.2 198.7 37.2 198.9 45.2 198.8 52.2 198.4 57.6 197.7 62.2 196.9 63.8ZM240.2 63.8 239.9 63.8 239.4 63.2 238.6 59.7 238.1 54.7 237.9 48.7 238.0 40.2 238.4 32.2 239.2 26.7 239.9 25.1 240.4 25.4 240.7 26.0 241.5 30.2 242.0 36.7 242.2 44.2 242.1 51.2 241.7 57.4 240.9 62.1 240.2 63.8ZM127.9 126.2 127.5 126.2 127.2 125.8 126.5 123.7 125.8 116.7 125.7 108.2 126.5 90.2 125.5 72.7 125.3 62.2 125.6 52.2 126.2 44.2 127.1 39.2 127.7 38.0 128.2 37.7 128.7 38.2 129.2 39.5 129.9 44.7 130.3 52.2 130.4 63.2 129.7 90.2 129.9 105.7 129.7 114.2 129.1 122.7 128.7 124.8 127.9 126.2ZM309.1 126.2 308.6 126.1 308.4 125.7 307.9 124.1 307.4 120.8 307.0 115.2 306.8 106.2 307.0 90.2 306.3 65.2 306.4 52.7 306.8 44.7 307.5 39.7 308.1 38.0 308.6 37.7 309.1 38.2 309.6 39.4 310.6 44.7 311.1 52.2 311.4 61.7 311.2 72.2 310.2 90.2 311.0 108.2 311.0 116.2 310.3 123.2 309.8 125.2 309.1 126.2ZM218.9 92.3 218.2 92.6 217.7 92.2 216.7 89.5 216.0 84.7 215.7 78.2 215.8 68.7 216.4 60.5 217.3 55.7 217.9 54.4 218.4 54.1 218.9 54.5 219.4 55.6 220.2 59.2 220.7 65.7 221.0 74.2 221.0 80.7 220.6 86.2 219.9 90.1 218.9 92.3ZM151.2 114.8 150.7 114.7 150.2 113.5 148.8 106.7 148.1 98.7 147.9 89.7 148.0 79.2 148.7 69.7 149.7 63.4 150.2 61.7 150.9 60.7 151.4 60.9 152.0 62.2 153.0 67.7 153.5 75.7 153.8 86.2 153.6 97.2 153.2 105.2 152.4 111.1 151.7 114.0 151.2 114.8ZM285.9 114.8 285.4 114.7 284.9 113.5 283.9 108.2 283.4 101.2 283.2 90.7 283.3 77.7 283.7 68.7 284.5 63.2 285.1 61.2 285.6 60.7 286.4 61.4 286.9 62.8 287.8 68.2 288.6 77.2 288.9 87.7 288.7 96.7 288.1 105.2 287.1 111.1 286.4 113.9 285.9 114.8ZM59.4 107.9 58.9 108.0 58.6 107.6 58.1 105.7 57.6 101.7 57.5 96.7 57.6 91.2 58.0 86.7 58.6 83.6 59.4 82.3 59.9 82.6 60.1 83.2 60.7 85.2 61.1 88.7 61.2 93.2 60.6 102.8 60.1 105.9 59.4 107.9ZM377.9 107.9 377.6 108.1 377.1 107.7 376.4 105.1 375.9 101.2 375.6 95.7 375.5 90.7 375.8 86.7 376.4 83.6 377.1 82.3 377.6 82.6 377.9 83.1 378.4 85.2 379.2 93.7 378.9 103.2 378.5 106.2 377.9 107.9ZM197.2 193.2 196.4 193.3 195.7 192.0 194.9 189.2 194.4 185.7 193.5 175.2 193.2 162.2 193.8 131.2 193.8 110.7 194.1 99.7 194.6 92.7 195.1 87.7 195.9 84.3 196.7 83.3 197.4 84.4 198.3 88.7 199.0 95.7 199.5 104.2 199.7 115.2 199.3 137.2 200.2 164.7 200.0 174.2 199.3 183.7 198.4 189.8 197.9 191.7 197.2 193.2ZM240.4 193.2 240.2 193.4 239.7 193.3 239.2 192.6 238.4 190.2 237.9 187.2 236.9 177.2 236.5 167.2 237.7 138.2 237.6 130.7 237.0 116.2 237.2 107.2 237.8 96.7 238.6 89.2 239.4 84.7 239.7 84.0 240.2 83.5 240.9 84.7 241.7 88.3 242.6 99.7 242.9 110.7 242.9 131.7 243.6 159.7 243.3 172.2 242.7 182.2 241.7 189.9 241.2 191.8 240.4 193.2ZM82.2 131.3 81.7 131.4 81.4 131.1 80.7 128.7 80.2 124.7 80.1 119.2 80.3 113.7 80.8 109.2 81.7 106.3 82.4 105.6 83.2 106.6 83.7 108.7 84.1 112.2 84.1 116.2 83.9 121.7 83.4 126.6 82.9 129.3 82.2 131.3ZM355.1 131.3 354.6 131.3 354.4 131.0 353.6 128.6 353.0 123.7 352.6 117.7 352.6 112.7 352.9 109.2 353.6 106.4 354.4 105.6 355.1 106.5 355.9 109.2 356.6 117.2 356.6 122.2 356.3 126.7 355.8 129.7 355.1 131.3ZM218.7 181.7 217.9 181.6 217.2 180.2 216.4 177.4 215.7 173.2 214.8 161.7 214.3 147.2 214.6 136.2 215.7 123.7 216.9 117.6 217.7 116.1 218.4 115.6 219.2 116.2 219.8 117.7 220.9 123.2 222.0 134.7 222.4 145.7 222.1 159.2 221.3 170.7 220.1 178.2 219.4 180.6 218.7 181.7ZM151.2 158.8 150.7 158.9 150.2 158.5 149.1 155.7 148.5 151.2 148.2 144.7 148.4 137.7 149.0 131.7 149.9 126.4 150.4 124.8 150.9 124.2 151.2 124.3 151.7 125.6 152.4 129.7 152.9 135.3 153.1 142.2 153.0 148.7 152.7 153.9 152.0 157.2 151.2 158.8ZM286.4 158.5 285.9 158.6 285.4 158.2 284.7 155.7 284.2 151.2 284.0 145.7 284.1 138.2 284.5 131.2 285.1 126.1 285.4 125.2 285.9 124.6 286.6 126.0 287.6 130.7 288.2 136.2 288.4 142.2 288.4 148.2 288.0 153.2 287.3 156.7 286.4 158.5ZM104.9 157.3 104.4 157.5 103.9 156.8 103.2 154.2 102.7 149.7 102.6 143.7 102.8 138.2 103.4 133.7 104.2 130.9 104.7 130.0 105.2 129.7 105.9 130.2 106.7 132.6 107.0 135.7 107.1 140.2 106.4 151.4 105.7 155.6 104.9 157.3ZM332.4 157.4 331.9 157.4 331.4 156.7 330.6 153.8 330.0 148.7 329.7 142.7 329.6 137.7 329.9 133.6 330.6 130.7 331.4 129.7 331.9 129.9 332.4 130.6 333.1 132.9 333.7 136.7 334.1 141.7 334.1 147.2 333.8 152.2 333.1 155.8 332.4 157.4ZM59.6 193.3 58.9 193.0 58.4 192.0 57.3 186.7 56.5 178.7 56.1 168.2 56.2 157.7 56.7 149.7 57.6 144.1 58.1 142.7 58.9 141.8 59.6 142.4 60.1 143.6 61.2 148.7 62.1 157.7 62.5 167.7 62.4 176.7 61.8 185.2 60.9 190.7 60.4 192.3 59.6 193.3ZM377.4 193.3 376.6 192.9 376.1 191.9 375.1 186.7 374.4 178.7 374.2 169.7 374.5 159.2 375.4 149.7 376.4 144.1 376.9 142.7 377.6 141.8 378.4 142.4 378.9 143.6 379.9 148.7 380.5 156.7 380.6 166.2 380.3 176.7 379.6 185.2 378.6 190.8 378.1 192.3 377.4 193.3ZM127.7 186.3 127.2 186.3 126.6 185.7 125.7 182.3 125.1 177.2 125.0 170.7 125.2 164.2 125.8 159.2 126.8 155.7 127.4 154.8 127.9 154.5 128.4 154.6 128.9 155.2 129.6 157.7 130.0 161.7 130.1 166.7 129.9 173.7 129.4 179.9 128.7 184.2 128.2 185.6 127.7 186.3ZM309.6 186.2 309.1 186.3 308.6 185.8 307.6 182.3 307.0 177.2 306.6 170.2 306.6 163.7 306.9 158.8 307.6 155.6 308.1 154.8 308.6 154.5 309.1 154.7 309.6 155.3 310.7 158.2 311.3 162.7 311.7 168.7 311.7 175.2 311.3 180.7 310.6 184.2 310.1 185.6 309.6 186.2ZM174.2 212.9 173.4 212.8 172.7 211.6 171.4 206.7 170.5 198.2 170.2 187.7 170.3 177.2 171.1 168.2 172.2 162.8 172.9 161.1 173.7 160.6 174.4 161.2 174.9 162.3 176.0 167.7 177.0 178.2 177.4 188.7 177.2 197.2 176.5 205.2 175.4 210.6 174.9 211.9 174.2 212.9ZM263.1 212.9 262.4 212.7 261.9 212.0 260.6 207.7 259.7 200.2 259.3 191.7 259.7 182.2 260.9 169.2 261.9 163.3 262.4 161.8 263.1 161.0 263.9 161.5 264.4 162.5 265.6 167.7 266.3 175.7 266.5 185.7 266.3 196.2 265.6 204.7 264.4 210.7 263.9 211.9 263.1 212.9ZM82.7 212.9 81.9 212.8 81.2 211.7 80.0 207.2 79.1 199.2 78.7 189.2 78.8 178.2 79.5 169.2 80.6 163.7 81.2 162.4 81.9 161.9 82.7 162.5 83.2 163.6 84.4 169.3 85.3 178.2 85.8 188.2 85.7 196.7 85.0 204.7 83.9 210.7 83.4 211.9 82.7 212.9ZM354.9 212.7 354.1 212.9 353.4 212.1 352.7 210.2 352.1 207.7 351.2 200.2 350.9 190.7 351.2 180.2 352.2 170.2 353.4 164.1 354.1 162.4 354.9 161.9 355.6 162.6 356.1 163.7 357.2 168.7 357.8 176.2 358.1 185.7 357.8 195.7 357.2 203.7 356.1 209.8 355.6 211.4 354.9 212.7ZM151.7 231.4 150.7 231.5 149.9 231.0 149.1 229.7 148.3 227.2 147.3 220.2 146.9 211.2 147.0 199.7 147.7 190.7 148.9 184.9 149.7 183.3 150.7 182.4 151.4 182.7 152.2 183.9 153.1 188.2 154.0 199.2 154.7 212.7 154.6 219.7 154.0 225.2 153.0 229.2 152.4 230.5 151.7 231.4ZM286.4 231.4 285.4 231.5 284.6 231.0 283.4 228.4 282.4 223.2 282.0 216.7 282.5 203.7 283.6 189.2 284.6 184.0 285.1 183.0 285.9 182.5 286.6 182.8 287.4 183.9 288.1 186.1 288.7 188.7 289.5 196.2 289.8 205.2 289.7 215.2 289.0 223.7 287.9 228.9 287.1 230.5 286.4 231.4ZM105.9 231.4 104.9 231.5 104.2 231.0 103.4 229.7 102.7 227.5 101.7 221.7 101.1 212.2 101.2 200.7 101.8 191.7 102.3 188.2 103.1 185.2 103.9 183.4 104.7 182.8 105.4 183.2 106.2 184.4 107.6 189.7 108.7 198.2 109.2 207.2 109.1 216.2 108.5 223.7 107.4 228.9 106.7 230.5 105.9 231.4ZM332.1 231.4 331.1 231.5 330.4 231.0 329.6 229.7 328.8 227.2 327.8 220.2 327.5 211.2 327.8 201.2 328.8 191.7 330.1 185.5 330.9 183.7 331.4 183.1 331.9 182.8 332.6 183.2 333.4 184.5 334.5 189.2 335.3 196.7 335.6 206.2 335.4 215.7 334.8 223.7 333.6 228.9 332.9 230.5 332.1 231.4ZM133.2 243.3 122.8 243.2 123.1 228.2 124.0 215.7 124.6 211.7 125.4 208.6 126.4 206.4 127.4 205.6 127.9 205.6 128.7 206.1 129.9 208.4 131.2 212.7 132.2 218.2 132.8 223.7 133.2 230.2 133.4 243.2 133.2 243.3ZM313.6 243.3 303.3 243.2 303.6 228.7 304.5 218.2 305.5 212.7 306.6 208.8 307.6 206.7 308.1 206.0 308.9 205.6 309.6 205.8 310.1 206.2 311.1 208.1 312.0 211.2 312.7 215.7 313.3 222.2 313.7 230.2 313.9 243.2 313.6 243.3Z"/>
<path fill="#0000ff" fill-opacity="1.000" fill-rule="evenodd" d="M36.6 24.2 36.4 24.2 36.1 23.6 35.9 22.2 37.2 22.2 36.6 24.2ZM59.6 51.5 59.1 51.5 58.6 50.5 57.8 44.7 57.5 34.2 57.6 22.2 61.3 22.2 61.4 30.7 61.1 40.5 60.6 47.1 60.1 50.2 59.6 51.5ZM82.2 74.3 81.4 73.0 80.9 70.4 80.3 62.2 80.6 22.2 83.9 22.2 84.2 44.7 84.2 59.7 83.4 70.6 82.9 73.2 82.7 73.8 82.2 74.3ZM105.4 97.8 105.2 98.1 104.7 98.0 103.9 95.8 103.4 91.7 103.1 86.2 103.6 62.2 103.1 46.2 103.1 31.7 103.6 22.2 103.9 22.2 106.7 22.2 107.2 31.1 106.9 61.2 107.0 83.7 106.4 92.9 105.9 96.3 105.4 97.8ZM151.2 36.5 150.9 36.6 150.7 36.3 150.4 35.6 149.9 32.5 149.6 27.2 149.7 22.2 152.4 22.2 152.0 32.7 151.7 35.0 151.2 36.5ZM174.4 138.8 173.7 139.0 172.9 138.2 172.2 136.1 171.7 133.6 170.9 126.2 170.7 118.2 171.1 102.2 173.2 76.7 172.8 59.2 173.0 39.7 172.6 22.2 172.9 22.2 175.0 22.2 174.7 39.2 174.8 59.2 174.5 76.2 176.2 97.3 176.7 113.7 176.7 123.3 176.2 131.7 175.4 136.5 174.4 138.8ZM218.7 27.9 218.2 28.0 217.7 27.2 217.2 25.0 216.9 22.2 219.8 22.2 219.4 25.8 218.7 27.9ZM263.4 138.8 262.6 139.0 262.1 138.6 261.3 136.2 260.6 131.7 260.3 125.2 260.6 98.4 262.3 75.2 262.0 59.2 262.1 40.2 261.6 22.2 261.9 22.2 264.0 22.2 263.7 39.7 263.9 60.2 263.5 76.7 265.4 99.2 266.0 111.2 266.0 122.2 265.5 130.2 264.6 135.7 264.1 137.4 263.4 138.8ZM285.9 36.4 285.6 36.5 285.4 36.1 284.8 33.2 284.4 26.4 284.4 22.2 287.2 22.2 286.9 31.4 286.4 35.2 285.9 36.4ZM332.1 97.9 331.6 98.2 331.4 98.0 330.6 95.5 329.8 86.2 329.6 77.2 329.8 60.2 329.6 29.2 329.9 22.7 330.1 22.2 333.0 22.2 333.6 32.9 333.7 43.2 333.2 62.7 333.5 88.2 333.0 94.7 332.1 97.9ZM354.6 74.3 354.1 74.0 353.9 73.5 353.4 71.3 352.6 61.2 352.4 50.7 352.8 32.7 352.7 22.2 352.9 22.2 356.2 22.2 356.0 35.2 356.4 61.3 355.8 70.7 355.2 73.2 354.6 74.3ZM377.6 51.4 377.1 51.6 376.6 50.5 375.9 45.2 375.4 34.7 375.4 22.2 379.1 22.2 379.2 36.7 379.0 43.2 378.4 48.9 377.6 51.4ZM400.1 24.3 399.9 24.0 399.5 22.2 400.8 22.2 400.4 24.0 400.1 24.3ZM196.9 61.8 196.4 61.6 196.2 61.1 195.4 57.6 194.9 51.8 194.8 47.2 194.8 39.2 195.2 33.7 195.8 28.7 196.2 27.4 196.7 26.7 197.2 27.1 197.4 27.8 197.9 30.7 198.5 36.7 198.7 44.7 198.2 56.2 197.7 60.0 196.9 61.8ZM240.2 61.8 239.7 61.6 239.4 61.2 238.8 58.7 238.3 54.7 238.1 49.2 238.2 40.8 238.6 32.7 239.2 28.5 239.9 26.7 240.4 27.1 240.7 27.7 241.2 30.7 241.7 36.2 242.0 43.7 241.9 49.3 241.5 56.2 240.9 59.9 240.2 61.8ZM127.9 124.4 127.4 124.3 127.2 123.8 126.7 122.0 126.0 115.7 126.1 107.2 126.9 90.7 125.7 70.6 125.6 61.2 125.8 50.7 126.4 44.7 127.2 40.5 127.7 39.3 128.2 39.0 128.7 39.5 129.2 41.0 129.9 46.7 130.2 52.7 130.2 66.7 130.0 78.2 129.3 90.2 129.7 105.7 129.5 115.2 128.9 121.5 128.4 123.7 127.9 124.4ZM309.1 124.4 308.6 124.3 308.4 123.9 307.9 122.1 307.1 113.5 307.1 104.2 307.4 90.7 306.6 74.7 306.4 62.2 306.6 50.2 306.9 45.4 307.6 40.6 308.1 39.4 308.6 39.0 309.1 39.5 309.6 40.8 310.4 45.2 310.9 52.2 311.2 61.2 311.0 72.7 309.8 90.2 310.6 107.3 310.7 115.2 310.1 121.5 309.6 123.6 309.1 124.4ZM218.7 91.3 218.2 91.4 217.7 90.9 216.7 87.8 216.1 83.2 215.9 76.7 216.1 66.7 216.6 60.7 217.4 56.6 217.9 55.6 218.4 55.3 218.9 55.7 219.4 56.9 220.2 61.1 220.7 68.2 220.8 74.7 220.7 81.2 220.4 85.5 219.7 89.5 219.2 90.8 218.7 91.3ZM150.9 112.2 150.4 111.7 149.9 110.3 148.8 104.2 148.3 98.7 148.1 88.7 148.3 77.2 148.8 70.7 149.9 64.2 150.4 62.8 150.9 62.2 151.4 62.5 151.9 63.7 152.9 69.4 153.5 78.2 153.5 87.7 153.5 97.2 153.0 104.7 152.1 110.2 151.4 111.9 150.9 112.2ZM286.1 111.9 285.6 112.2 285.1 111.6 284.1 107.4 283.6 101.2 283.4 91.7 283.4 80.2 283.9 69.7 284.6 64.2 285.1 62.8 285.6 62.2 286.1 62.5 286.7 63.7 287.7 69.2 288.4 77.9 288.6 87.1 288.5 96.7 287.9 103.7 287.1 108.9 286.1 111.9ZM59.4 105.9 58.9 105.7 58.3 103.7 57.8 96.2 58.3 88.2 58.9 85.3 59.4 84.6 59.9 85.0 60.4 86.8 60.9 93.7 60.4 102.0 59.9 104.7 59.4 105.9ZM377.6 105.9 377.1 105.7 376.6 103.7 375.9 95.7 376.1 88.2 376.6 85.4 377.1 84.6 377.6 85.0 378.3 87.2 378.8 94.2 378.6 101.7 378.2 104.7 377.6 105.9ZM197.2 191.3 196.9 191.5 196.4 191.4 195.7 190.2 194.6 184.7 193.7 173.2 193.4 161.7 194.0 134.7 194.1 108.7 194.3 99.7 195.3 89.2 195.9 86.4 196.7 85.3 197.4 86.4 198.2 90.1 199.2 103.2 199.5 114.7 199.0 136.2 200.0 163.2 199.9 171.4 199.2 181.7 198.3 188.2 197.7 190.4 197.2 191.3ZM240.4 191.3 240.2 191.5 239.7 191.4 239.2 190.6 238.1 186.2 237.1 176.7 236.8 167.2 236.8 160.7 237.8 143.7 237.9 137.2 237.8 127.7 237.3 118.2 237.4 107.2 237.9 98.5 238.7 90.6 239.4 86.6 239.7 86.0 240.2 85.5 240.9 86.8 241.5 89.7 242.4 101.2 242.7 111.7 242.6 130.2 243.3 159.2 243.2 169.2 242.7 179.7 241.7 187.6 241.2 189.7 240.4 191.3ZM82.2 129.4 81.7 129.4 81.4 129.0 80.9 127.1 80.5 123.7 80.5 119.2 80.6 114.7 81.1 110.7 81.7 108.5 81.9 108.0 82.4 107.7 82.9 108.2 83.4 110.2 83.8 116.7 83.4 124.3 82.9 127.4 82.2 129.4ZM355.1 129.3 354.9 129.5 354.4 129.2 353.8 127.2 353.1 122.8 352.9 118.7 352.9 114.2 353.1 110.9 353.6 108.6 353.9 108.0 354.4 107.7 355.1 108.7 355.6 110.8 356.2 117.2 356.0 125.2 355.6 127.9 355.1 129.3ZM218.9 179.7 218.2 180.0 217.4 179.0 216.2 173.9 215.1 164.2 214.6 152.7 214.6 139.7 215.4 128.1 216.7 119.7 217.4 117.5 217.9 116.8 218.4 116.6 219.1 117.2 219.9 119.1 220.9 124.6 221.9 135.5 222.2 144.7 222.0 157.2 221.2 168.7 220.2 176.1 219.7 178.1 218.9 179.7ZM151.2 157.3 150.7 157.4 150.2 156.9 149.4 154.7 148.8 150.7 148.6 144.7 148.7 139.6 149.2 133.6 149.9 129.3 150.4 127.8 150.9 127.4 151.7 128.6 152.2 131.7 152.7 136.7 152.9 142.7 152.5 152.7 151.9 155.8 151.2 157.3ZM286.4 156.9 285.9 157.1 285.6 156.9 285.1 155.8 284.6 153.2 284.3 149.2 284.4 135.8 285.1 129.7 285.4 128.5 285.9 127.8 286.6 129.0 287.4 132.6 287.9 137.7 288.1 143.2 287.7 152.2 287.1 155.2 286.4 156.9ZM104.9 155.9 104.4 155.9 104.2 155.5 103.4 152.7 103.0 149.2 102.9 144.0 103.1 139.2 103.6 135.2 104.4 132.2 105.2 131.4 105.9 132.2 106.4 133.9 106.7 136.7 106.8 140.7 106.7 146.2 106.2 151.2 105.7 154.1 104.9 155.9ZM332.4 155.8 332.1 156.0 331.6 155.7 330.9 153.5 330.3 149.7 329.9 143.5 329.9 138.7 330.1 135.2 330.6 132.6 331.4 131.5 332.1 131.9 332.9 134.1 333.4 137.2 333.7 141.7 333.8 147.2 333.5 151.2 333.0 154.2 332.4 155.8ZM59.6 191.3 58.9 191.0 58.4 189.9 57.4 185.0 56.6 176.7 56.3 167.2 56.4 159.6 57.0 149.7 57.9 145.0 58.4 143.7 59.1 143.2 59.6 143.7 60.1 144.8 61.2 150.2 62.0 158.2 62.3 167.7 62.2 175.7 61.7 183.7 60.7 189.2 60.1 190.8 59.6 191.3ZM377.4 191.4 376.6 190.9 376.1 189.8 375.1 184.6 374.6 177.7 374.4 168.7 374.6 159.8 375.4 151.0 376.4 145.3 376.9 143.9 377.6 143.2 378.1 143.5 378.7 144.7 379.7 149.7 380.2 157.2 380.3 165.7 380.2 174.7 379.5 183.7 378.5 189.2 377.9 190.8 377.4 191.4ZM127.7 185.2 127.2 185.1 126.7 184.4 125.8 181.2 125.3 176.2 125.3 170.7 125.4 165.8 126.0 160.2 126.9 157.0 127.4 156.2 127.9 155.8 128.4 156.0 128.9 156.7 129.7 160.0 129.9 164.2 129.9 169.7 129.7 175.8 129.2 180.6 128.4 184.0 127.7 185.2ZM309.4 185.2 308.6 184.8 307.9 182.5 307.4 179.2 306.9 172.7 306.8 162.7 307.1 159.7 307.6 157.1 308.1 156.1 308.6 155.8 309.1 156.0 309.6 156.7 310.5 159.2 311.1 163.8 311.5 169.2 311.4 175.2 311.0 180.7 310.2 184.2 309.4 185.2ZM174.2 211.4 173.4 211.3 172.7 210.2 171.6 205.7 170.8 198.7 170.4 187.7 170.6 176.7 171.2 169.8 172.2 164.3 172.9 162.5 173.7 161.9 174.4 162.5 174.9 163.6 175.9 168.5 176.7 176.2 177.2 186.7 177.2 194.0 176.4 203.2 175.4 209.0 174.9 210.4 174.2 211.4ZM263.1 211.4 262.4 211.2 261.9 210.5 261.3 208.7 260.6 205.8 259.9 199.2 259.6 191.2 259.9 182.2 260.9 170.8 261.9 164.6 262.4 163.1 263.1 162.3 263.9 162.8 264.4 164.0 265.5 169.2 266.1 177.6 266.3 185.7 266.1 193.9 265.4 203.2 264.4 209.0 263.9 210.4 263.1 211.4ZM82.9 211.2 82.2 211.5 81.4 210.6 80.7 208.5 80.2 206.1 79.4 199.2 78.9 189.1 79.1 176.7 79.6 170.2 80.7 164.8 81.2 163.6 81.9 163.0 82.7 163.5 83.2 164.6 84.2 168.9 84.9 175.2 85.5 183.2 85.5 195.7 85.2 201.0 84.2 207.7 83.7 209.8 82.9 211.2ZM354.9 211.2 354.1 211.5 353.4 210.6 352.3 206.7 351.4 199.0 351.1 190.7 351.4 180.7 352.1 171.7 353.4 165.1 354.0 163.7 354.6 163.0 355.4 163.4 355.9 164.4 357.0 169.2 357.6 177.4 357.8 184.7 357.7 192.7 357.1 201.5 356.1 208.1 355.6 209.8 354.9 211.2ZM105.4 230.8 104.4 230.4 103.9 229.8 102.6 226.2 101.8 220.7 101.3 211.7 101.4 201.2 102.1 191.7 102.6 188.2 103.3 185.7 104.2 184.0 104.9 183.7 105.6 184.2 106.2 185.2 107.4 189.7 108.4 197.2 109.0 205.2 109.0 215.2 108.2 224.2 107.2 228.5 106.4 230.0 105.4 230.8ZM151.2 230.8 150.2 230.4 149.7 229.8 148.4 226.2 147.6 220.7 147.1 211.7 147.1 201.2 147.8 191.7 149.0 185.7 149.9 183.9 150.7 183.4 151.4 183.6 151.9 184.4 152.9 188.3 153.7 195.7 154.4 209.2 154.5 218.7 153.9 224.2 152.9 228.5 152.0 230.2 151.2 230.8ZM285.9 230.8 284.9 230.4 284.4 229.8 283.1 226.2 282.4 220.7 282.3 215.2 282.6 203.7 283.6 190.5 284.6 185.1 285.1 184.0 285.9 183.4 286.6 183.7 287.4 185.0 288.1 187.4 288.7 190.2 289.4 198.2 289.7 207.7 289.4 216.7 288.7 224.2 287.6 228.5 286.9 230.0 285.9 230.8ZM331.6 230.8 330.6 230.4 329.9 229.3 328.6 224.9 327.9 217.7 327.7 210.2 327.9 202.0 328.9 192.1 329.6 188.1 330.4 185.6 331.1 184.1 331.9 183.7 332.6 184.2 333.4 185.7 334.4 190.2 335.2 198.7 335.4 208.2 335.1 217.1 334.4 224.4 333.9 226.9 333.1 229.1 332.4 230.3 331.6 230.8ZM133.2 243.2 123.1 243.2 123.2 230.6 123.6 221.7 124.1 216.2 124.8 211.7 125.7 208.7 126.7 206.7 127.7 206.2 128.4 206.5 128.9 207.0 130.2 209.6 131.9 217.2 133.0 228.2 133.2 243.2ZM313.6 243.2 303.6 243.2 303.6 230.8 304.1 222.7 304.6 218.2 305.4 214.0 306.4 210.1 307.6 207.2 308.1 206.6 308.9 206.2 310.0 206.7 311.1 209.0 312.5 215.2 313.4 227.7 313.6 243.2Z"/>
<path fill="#ff0000" fill-opacity="0.130" fill-rule="evenodd" d="M41.9 55.3 41.4 55.3 40.9 54.9 40.1 53.2 39.4 49.8 39.0 45.2 38.8 35.7 39.2 22.2 39.4 21.9 40.1 21.8 43.6 21.8 44.8 22.2 45.0 35.7 44.6 46.7 43.6 52.7 42.9 54.3 41.9 55.3ZM87.7 35.2 87.2 35.0 86.7 34.0 86.0 30.7 85.4 22.2 85.9 21.8 89.2 21.8 90.4 22.2 90.1 27.7 89.5 31.7 88.7 34.3 88.2 35.0 87.7 35.2ZM97.9 26.3 97.2 26.3 96.7 25.7 95.7 22.2 97.4 21.9 99.4 22.2 98.7 25.0 97.9 26.3ZM110.7 58.7 109.9 58.0 109.1 55.2 108.6 49.7 108.3 43.2 108.5 22.2 108.7 21.9 109.7 21.8 112.2 21.9 113.0 22.2 113.7 34.2 113.7 43.7 113.2 51.7 112.8 54.7 112.2 56.9 111.4 58.3 110.7 58.7ZM120.9 48.3 120.4 48.5 119.9 48.3 119.0 46.7 118.3 43.7 117.7 39.2 117.3 31.2 117.4 22.2 118.7 21.8 122.2 21.8 123.4 22.2 123.5 31.2 122.9 40.2 122.1 45.7 121.6 47.2 120.9 48.3ZM133.9 25.2 133.2 25.6 132.4 25.2 131.8 24.2 131.3 22.2 133.2 21.9 135.1 22.2 134.7 23.9 133.9 25.2ZM156.7 48.4 155.9 48.5 155.2 47.2 154.7 44.5 154.4 40.7 154.5 22.2 154.9 21.9 155.7 21.8 157.4 21.9 158.4 22.2 158.6 25.7 158.7 33.7 158.4 41.2 157.7 46.1 156.7 48.4ZM166.4 34.3 165.7 34.1 165.2 33.5 164.1 29.7 163.3 22.2 164.2 21.9 167.7 21.8 169.0 22.2 168.6 27.7 168.0 31.2 167.4 33.2 166.4 34.3ZM189.7 57.8 188.9 58.0 188.2 57.5 187.1 55.2 186.3 50.7 185.8 44.2 185.8 33.2 186.4 22.7 186.4 22.2 186.7 22.0 188.2 21.8 190.7 21.8 191.8 22.2 192.1 27.2 192.2 38.7 191.8 49.7 191.0 55.2 190.4 56.9 189.7 57.8ZM202.2 47.7 201.4 46.3 200.9 43.4 200.0 27.7 199.9 22.2 200.4 21.9 201.4 21.8 203.4 21.9 204.2 22.2 204.4 25.7 204.4 34.2 204.0 41.7 203.2 46.2 202.7 47.5 202.2 47.7ZM212.7 24.8 212.2 25.1 211.4 24.9 210.7 23.7 210.2 22.2 211.9 21.9 213.6 22.2 213.2 23.9 212.7 24.8ZM225.4 24.8 224.7 25.1 224.2 24.9 223.5 23.7 223.1 22.2 224.7 21.9 226.5 22.2 226.0 23.7 225.4 24.8ZM234.9 50.8 234.4 51.0 233.9 50.7 232.9 48.6 232.2 45.2 231.8 39.7 231.6 31.2 231.8 22.2 233.4 21.8 236.7 21.8 237.3 22.2 237.0 33.7 236.4 43.2 235.8 48.2 235.4 49.9 234.9 50.8ZM248.2 57.9 247.4 58.0 246.9 57.7 246.2 56.7 245.7 55.2 245.1 51.2 244.6 44.7 244.5 32.7 244.8 23.2 244.9 22.2 246.7 21.8 249.2 21.8 250.3 22.2 250.8 29.7 251.0 40.2 250.5 49.2 249.6 55.2 248.9 56.9 248.2 57.9ZM257.9 22.4 257.1 22.2 258.1 22.2 257.9 22.4ZM270.9 34.2 270.1 34.2 269.6 33.8 269.1 32.7 268.6 30.7 267.7 22.2 268.4 21.9 271.9 21.8 273.4 22.2 272.5 30.7 271.7 33.2 270.9 34.2ZM280.9 51.8 280.4 51.9 279.6 51.4 278.7 49.7 278.0 46.7 277.5 41.7 277.3 32.2 277.6 22.2 278.9 21.8 282.1 21.8 282.8 22.2 283.0 35.2 282.8 44.7 282.1 49.6 281.6 50.9 280.9 51.8ZM304.1 25.4 303.4 25.6 302.6 25.0 301.6 22.2 303.6 21.9 305.4 22.2 304.9 24.2 304.1 25.4ZM316.9 48.2 316.4 48.5 315.9 48.4 314.9 46.7 314.2 43.7 313.7 39.7 313.2 31.2 313.3 22.2 314.4 21.8 318.1 21.8 319.3 22.2 319.4 31.7 318.9 39.7 318.1 45.2 317.6 46.9 316.9 48.2ZM325.9 58.7 325.1 58.1 324.5 56.7 323.5 51.7 323.0 43.2 323.1 32.2 323.7 22.2 324.6 21.8 327.1 21.8 327.9 21.9 328.2 22.2 328.5 34.7 328.3 47.2 327.9 52.2 327.4 56.0 326.6 58.2 325.9 58.7ZM339.6 26.2 338.9 26.4 338.4 25.8 337.8 24.2 337.4 22.2 339.4 21.9 341.0 22.2 340.4 24.8 339.6 26.2ZM349.1 35.2 348.4 34.8 347.9 34.0 346.9 30.2 346.3 22.2 347.1 21.8 350.6 21.8 351.1 21.9 351.3 22.2 350.6 31.7 349.9 34.4 349.1 35.2ZM395.4 55.2 394.9 55.3 394.4 55.1 393.3 53.2 392.5 49.7 392.0 44.7 391.7 34.7 391.9 22.2 393.1 21.8 396.9 21.8 397.5 22.2 397.9 37.2 397.7 45.7 396.9 52.2 396.1 54.3 395.4 55.2ZM65.2 76.3 64.4 76.3 63.9 75.8 62.8 73.2 61.8 68.7 61.5 64.2 62.8 34.2 63.6 27.8 64.2 26.4 64.7 26.0 65.4 26.4 66.2 28.0 67.2 33.2 68.0 42.2 68.3 52.2 68.1 62.7 67.5 69.7 66.5 74.2 65.9 75.6 65.2 76.3ZM372.4 76.2 371.6 76.3 370.6 75.3 369.5 71.7 368.8 65.7 368.4 56.7 368.6 45.7 369.3 34.7 370.4 28.5 371.1 26.7 371.9 26.0 372.4 26.2 372.9 27.2 373.7 32.2 374.2 40.2 375.2 62.7 375.0 67.2 374.4 71.2 373.4 74.8 372.4 76.2ZM143.4 68.8 142.7 68.4 142.2 67.6 141.1 63.7 140.4 57.7 140.2 49.2 140.5 40.7 141.1 34.2 142.2 29.5 142.7 28.6 143.4 28.2 144.2 28.9 144.7 30.0 145.5 34.2 146.1 40.7 146.3 49.2 146.1 56.7 145.5 63.2 144.7 67.0 144.2 68.1 143.4 68.8ZM293.6 68.7 292.9 68.5 292.4 67.8 291.4 64.3 290.6 57.7 290.4 50.2 290.6 41.7 291.2 34.2 292.1 29.8 292.6 28.7 293.4 28.2 294.1 28.8 294.6 29.8 295.6 33.7 296.2 40.2 296.5 48.2 296.3 56.2 295.8 62.7 294.9 66.7 294.4 67.9 293.6 68.7ZM257.4 78.7 256.6 78.5 255.9 77.4 254.9 73.7 254.2 67.7 254.0 58.7 254.3 49.2 255.0 41.7 256.1 37.0 256.9 35.7 257.6 35.4 258.1 35.7 258.6 36.7 259.5 41.2 260.0 48.7 260.1 58.7 259.9 65.7 259.4 73.2 258.5 77.2 257.9 78.4 257.4 78.7ZM134.4 82.9 133.7 83.2 133.2 82.8 132.7 81.8 132.2 79.8 131.6 74.7 131.3 67.7 131.3 53.7 131.6 44.7 132.2 40.2 132.7 39.0 133.4 38.5 134.2 39.0 134.8 40.2 135.8 44.2 136.6 50.7 137.0 59.7 137.0 68.7 136.5 75.7 135.7 80.5 135.2 81.8 134.4 82.9ZM212.2 82.2 211.4 82.3 210.7 81.6 209.9 79.9 209.3 77.7 208.5 71.2 208.3 62.7 208.5 52.7 209.2 45.2 210.4 40.4 211.2 39.1 211.9 38.7 212.7 38.9 213.2 39.5 214.2 42.1 214.8 45.7 214.9 50.2 214.7 61.7 213.9 74.7 213.2 80.2 212.7 81.6 212.2 82.2ZM225.4 82.2 224.7 82.3 223.9 81.3 223.0 77.2 222.3 68.7 221.8 53.7 221.8 47.2 222.3 43.2 223.4 39.8 223.9 39.1 224.7 38.7 225.4 38.9 226.2 40.0 227.2 43.7 228.0 50.2 228.4 59.2 228.3 68.2 227.8 75.2 226.9 79.7 226.2 81.4 225.4 82.2ZM303.4 83.0 302.6 83.1 301.9 82.5 301.1 80.8 300.6 78.7 299.9 72.7 299.7 63.7 300.0 53.2 300.7 45.2 301.9 40.2 302.6 38.9 303.4 38.5 303.9 38.8 304.4 39.8 304.9 42.7 305.2 47.7 305.4 60.2 305.3 71.7 305.0 76.7 304.4 80.5 303.9 82.2 303.4 83.0ZM179.4 75.2 178.7 74.3 177.9 70.8 177.4 65.2 177.3 58.2 177.3 50.2 177.7 44.3 178.3 40.2 178.7 39.2 179.2 38.8 179.7 39.1 180.2 40.1 181.1 44.2 181.6 49.7 181.9 57.7 181.7 64.7 181.3 70.2 180.4 74.0 179.9 74.9 179.4 75.2ZM88.4 97.7 87.7 98.0 86.9 97.6 85.7 95.6 84.6 91.7 84.2 87.7 85.8 56.2 86.7 50.6 87.2 49.3 87.9 48.8 88.7 49.4 89.3 50.7 90.4 55.7 91.1 63.2 91.5 74.2 91.4 83.7 90.8 90.7 89.9 95.2 89.2 96.8 88.4 97.7ZM349.6 97.7 348.6 97.9 347.9 97.3 347.1 96.0 346.6 94.2 345.7 88.7 345.2 79.7 345.4 68.2 346.1 57.7 347.3 51.2 348.1 49.3 348.9 48.8 349.6 49.4 350.1 51.0 350.9 57.2 352.5 86.7 352.4 90.2 351.8 93.2 350.9 95.9 349.6 97.7ZM166.7 92.8 165.9 93.0 165.2 92.4 164.4 91.0 163.7 88.7 162.8 82.2 162.4 74.2 162.6 64.7 163.4 56.2 164.5 51.2 165.4 49.7 166.2 49.2 166.9 49.5 167.7 50.7 168.6 54.2 169.2 60.2 169.5 69.2 169.4 78.2 168.8 85.7 167.9 90.6 167.4 91.9 166.7 92.8ZM271.1 92.8 270.4 93.0 269.6 92.5 268.9 90.9 268.4 89.0 267.6 82.7 267.2 74.2 267.3 63.7 267.9 55.7 268.9 51.0 269.6 49.7 270.4 49.3 271.1 49.5 271.9 50.5 273.0 54.2 273.8 60.7 274.3 69.7 274.2 78.2 273.6 85.7 272.6 90.2 271.9 91.9 271.1 92.8ZM234.2 106.8 233.4 106.8 232.7 105.7 231.5 101.2 230.9 94.2 230.8 85.2 231.2 76.2 232.0 69.7 233.2 66.0 233.9 64.9 234.7 64.6 235.2 64.9 235.7 65.7 236.7 69.2 237.3 74.2 237.5 80.2 237.0 90.2 236.2 98.7 235.2 104.7 234.7 106.1 234.2 106.8ZM280.1 108.3 279.4 108.3 278.6 107.5 277.9 105.9 277.3 103.7 276.6 97.2 276.4 89.2 276.7 78.2 277.5 70.7 278.6 66.1 279.4 64.8 280.1 64.3 280.6 64.4 281.1 65.2 281.9 69.2 282.3 74.7 282.4 86.2 282.3 96.2 281.9 101.7 281.1 106.6 280.6 107.8 280.1 108.3ZM202.9 103.3 202.4 102.9 201.9 101.6 201.2 97.6 200.4 90.2 199.9 81.2 200.0 76.2 200.4 71.7 201.2 68.6 201.7 67.7 202.2 67.5 202.7 67.7 203.2 68.7 204.2 72.2 204.8 77.2 205.2 84.2 205.1 91.7 204.6 97.7 203.9 101.5 203.4 102.8 202.9 103.3ZM157.2 104.8 156.7 104.7 156.4 104.3 155.7 101.2 155.1 90.2 155.1 78.7 155.3 72.7 155.9 68.7 156.2 68.1 156.7 67.8 157.2 68.2 157.7 69.3 158.5 73.2 159.1 78.7 159.4 86.7 159.4 93.7 158.9 99.2 158.2 103.1 157.7 104.3 157.2 104.8ZM42.6 148.3 42.1 148.2 41.6 147.1 40.6 141.9 37.5 117.2 36.6 105.7 37.0 98.2 39.4 75.6 40.4 70.8 41.1 69.4 41.9 69.1 42.9 69.9 43.8 71.7 44.5 74.7 45.1 78.2 46.0 89.7 46.5 106.2 46.4 120.7 45.6 132.2 44.1 143.7 43.4 146.7 42.6 148.3ZM394.4 148.4 394.1 148.4 393.6 147.7 392.9 145.1 391.2 133.2 390.4 120.7 390.2 107.2 390.6 91.7 391.6 78.7 392.2 74.7 392.9 71.7 393.9 69.7 394.9 69.1 395.6 69.5 396.1 70.4 397.3 75.7 399.8 98.7 400.1 105.7 399.3 116.7 396.4 139.4 395.4 145.7 394.9 147.6 394.4 148.4ZM110.7 120.2 109.9 120.1 109.2 119.5 107.9 117.5 107.1 114.7 106.9 111.7 108.3 85.2 108.8 78.7 109.7 73.8 110.2 72.6 110.9 72.0 111.7 72.5 112.5 74.2 113.2 76.7 113.8 80.2 114.5 89.2 114.8 100.2 114.5 108.7 113.8 114.7 113.2 117.1 112.4 118.7 111.7 119.7 110.7 120.2ZM326.1 120.2 325.1 119.8 324.4 118.9 323.6 117.3 323.0 115.2 322.2 109.2 321.9 100.7 322.2 88.7 323.0 79.7 324.2 74.2 325.1 72.4 325.9 72.0 326.6 72.7 327.1 74.2 328.0 79.7 329.8 111.7 329.6 114.7 328.9 117.2 327.6 119.4 326.9 120.0 326.1 120.2ZM189.7 115.3 188.9 115.6 187.9 115.0 187.1 113.7 186.3 111.2 185.3 104.7 185.0 97.2 185.2 86.7 186.1 78.7 186.7 75.7 187.4 73.9 188.2 72.8 189.2 72.3 189.9 72.7 190.4 73.2 191.5 76.2 192.1 80.7 192.4 87.2 192.2 99.2 191.7 107.2 190.9 112.3 190.4 114.0 189.7 115.3ZM248.4 115.4 247.7 115.6 246.9 115.1 246.2 113.6 245.7 111.6 244.8 104.7 244.4 94.2 244.4 84.2 244.9 77.9 245.4 75.4 246.0 73.7 246.9 72.6 247.7 72.3 248.4 72.6 249.2 73.7 250.0 75.7 250.5 78.2 251.3 84.7 251.8 93.7 251.7 101.2 251.0 108.2 249.9 113.0 249.2 114.5 248.4 115.4ZM66.4 170.7 65.9 171.1 65.4 170.4 64.7 167.1 61.8 142.7 59.4 129.2 59.1 126.2 59.3 123.7 61.1 112.8 63.4 94.0 64.2 91.2 64.7 90.4 65.2 90.1 66.1 90.7 66.9 92.4 67.6 94.7 68.3 98.7 69.3 109.7 69.8 124.2 69.7 137.7 69.0 153.2 67.8 164.7 67.2 168.4 66.4 170.7ZM371.1 170.7 370.9 171.1 370.4 170.9 369.6 168.8 368.3 159.7 367.3 145.7 366.9 129.7 367.3 113.2 368.2 100.2 369.5 93.2 370.4 91.1 371.4 90.1 371.9 90.2 372.4 90.9 373.4 94.6 375.5 112.7 377.3 123.2 377.6 126.2 377.4 129.2 374.9 143.1 372.1 166.5 371.1 170.7ZM257.1 134.3 256.4 134.6 255.7 134.0 254.9 132.5 254.3 130.2 253.5 123.7 253.2 114.7 253.3 106.7 254.0 99.2 254.7 95.7 255.4 93.7 256.1 92.3 256.9 91.8 257.4 92.0 257.9 92.7 258.6 95.7 259.2 102.2 259.3 107.2 259.2 117.7 258.7 127.7 258.1 131.7 257.6 133.4 257.1 134.3ZM180.4 130.2 179.9 130.1 179.7 129.6 178.9 126.0 178.4 119.2 178.2 111.2 178.3 104.2 178.6 99.2 179.2 96.4 179.4 95.8 179.9 95.5 180.4 96.0 180.9 97.1 181.7 100.7 182.3 105.7 182.5 111.2 182.5 118.2 182.1 124.2 181.4 128.2 180.9 129.6 180.4 130.2ZM133.4 143.2 131.9 142.8 130.7 141.2 130.1 139.2 130.0 136.7 131.0 111.2 131.6 103.2 132.5 97.7 133.2 96.3 133.9 95.8 134.9 96.5 135.7 97.9 136.3 100.2 137.0 103.7 137.8 113.2 138.0 124.2 137.7 132.2 136.8 138.2 136.2 140.2 135.4 141.8 134.4 142.8 133.4 143.2ZM211.4 137.9 210.7 138.0 209.9 137.1 209.1 135.2 208.4 132.2 207.6 125.7 207.5 117.2 207.9 108.7 208.8 101.7 209.5 99.2 210.2 97.6 210.9 96.6 211.9 96.1 212.7 96.4 213.2 97.0 214.2 99.2 215.5 103.7 215.8 106.7 213.7 128.7 212.7 135.0 212.2 136.7 211.4 137.9ZM226.2 137.9 225.4 138.0 224.7 136.9 223.4 131.5 222.3 123.2 220.9 106.7 221.3 103.2 222.5 99.2 223.7 96.8 224.2 96.3 224.9 96.1 225.7 96.4 226.4 97.3 227.2 98.9 227.8 101.2 228.7 107.2 229.2 115.2 229.2 124.2 228.8 130.2 227.7 135.2 226.9 137.0 226.2 137.9ZM303.6 143.2 302.6 143.0 301.6 142.2 300.7 140.7 300.0 138.7 299.0 132.7 298.7 125.2 298.9 114.2 299.7 103.7 300.4 100.2 301.1 97.7 301.9 96.4 302.9 95.8 303.6 96.4 304.3 98.2 305.2 104.2 306.7 136.7 306.6 139.2 306.0 141.2 304.9 142.7 303.6 143.2ZM89.2 188.3 88.7 188.2 88.4 187.7 87.7 184.6 84.7 163.2 83.7 157.4 82.0 150.7 81.8 148.2 82.0 145.7 83.9 134.9 86.1 116.2 87.2 112.2 87.7 111.4 88.2 111.1 89.2 111.6 89.9 112.9 90.7 115.2 91.3 118.2 92.5 128.7 92.9 139.2 92.7 154.7 91.8 173.2 90.6 183.7 89.9 186.8 89.2 188.3ZM347.9 188.3 347.6 188.4 347.1 187.8 346.4 185.2 345.0 174.7 344.1 157.7 343.8 141.2 344.2 128.7 345.2 119.2 345.9 115.7 346.6 113.2 347.5 111.7 348.4 111.1 348.9 111.2 349.4 111.9 350.4 115.3 352.9 135.6 354.7 145.7 354.9 148.2 354.6 151.2 353.1 157.0 352.1 162.7 349.1 184.0 348.4 187.4 347.9 188.3ZM281.4 166.7 280.4 167.2 279.1 166.7 278.1 165.6 277.4 164.0 276.2 158.7 275.7 151.2 275.7 138.2 276.5 128.7 277.0 125.7 277.9 122.9 278.9 121.2 279.9 120.7 280.6 121.0 281.1 121.8 281.9 124.1 282.5 128.2 282.7 133.7 282.9 152.7 282.8 160.2 282.4 164.5 281.9 166.1 281.4 166.7ZM233.9 161.3 233.2 161.6 232.4 160.8 231.7 158.8 231.1 156.2 230.3 149.2 230.0 140.2 230.2 132.7 230.8 128.2 232.2 123.7 232.9 122.4 233.7 122.0 234.2 122.3 234.7 123.0 235.7 126.7 236.2 131.2 236.6 138.7 236.5 144.7 236.0 151.7 234.9 158.6 233.9 161.3ZM157.2 164.9 156.4 165.0 155.9 164.7 155.2 163.2 154.9 160.2 154.7 154.2 154.8 137.2 155.2 129.8 155.9 125.3 156.4 124.3 156.9 124.0 157.7 124.6 158.2 125.5 159.2 129.7 160.0 136.7 160.2 144.7 160.1 152.7 159.5 158.7 158.5 162.7 157.9 164.0 157.2 164.9ZM203.7 157.7 203.2 157.7 202.7 157.0 201.9 153.9 201.1 146.7 200.9 141.2 201.0 135.7 201.4 130.2 202.2 126.7 202.7 125.6 203.2 125.4 203.7 125.7 204.2 126.7 205.0 129.7 205.6 133.7 205.8 139.2 205.8 145.7 205.3 151.2 204.6 155.7 203.7 157.7ZM112.4 203.9 111.9 204.1 111.7 203.8 110.9 201.6 107.9 185.2 106.7 179.8 104.8 173.7 104.6 171.7 104.7 169.7 106.7 159.6 109.2 137.3 110.2 133.6 110.7 132.8 111.4 132.5 112.4 133.3 113.2 134.7 114.0 137.2 114.6 140.2 115.5 149.2 115.9 161.2 115.8 174.7 115.0 188.2 113.8 198.7 113.1 202.2 112.4 203.9ZM324.9 204.0 324.6 204.2 324.1 203.7 323.4 201.3 322.0 191.7 321.0 177.7 320.8 162.7 321.1 150.7 322.1 140.7 322.7 137.2 323.5 134.7 324.4 133.1 325.4 132.5 326.1 133.0 326.6 133.8 327.6 137.9 329.9 158.4 330.6 163.4 332.0 169.7 332.1 171.7 331.8 174.2 330.1 179.5 328.9 184.7 325.9 201.2 324.9 204.0ZM256.6 187.3 255.9 187.4 255.2 186.5 254.4 184.6 253.7 181.7 252.9 174.7 252.7 165.7 253.1 158.2 254.0 152.2 254.7 149.9 255.4 148.4 256.1 147.5 257.1 147.1 257.9 147.3 258.6 148.0 259.8 150.2 260.4 153.2 260.5 157.2 260.0 167.7 259.0 177.7 257.9 184.1 257.4 185.9 256.6 187.3ZM180.9 183.2 180.4 183.4 179.9 182.8 178.9 179.0 177.9 170.7 177.2 161.2 177.2 156.5 177.4 153.2 178.2 150.9 178.7 150.2 179.4 149.8 180.2 150.1 180.7 150.7 181.8 153.7 182.6 157.7 183.0 163.2 183.1 169.7 182.7 175.7 181.9 180.7 180.9 183.2ZM135.7 218.2 135.2 218.6 134.7 218.4 133.7 216.5 130.2 205.0 127.8 199.2 127.5 197.2 127.6 195.7 129.2 189.2 129.9 183.8 131.9 158.7 132.4 156.1 132.9 154.8 133.4 154.2 134.2 153.9 135.2 154.5 136.0 155.7 136.7 157.7 137.3 160.2 138.3 168.2 138.9 180.7 138.9 194.2 138.3 204.7 137.2 213.2 136.5 216.2 135.7 218.2ZM302.1 218.3 301.4 218.6 300.5 217.2 299.7 214.2 299.0 210.2 298.0 199.2 297.7 184.7 298.2 170.7 299.2 161.2 299.8 158.2 300.6 155.9 301.6 154.4 302.6 153.9 303.4 154.3 303.9 155.0 304.7 158.2 306.9 184.6 307.6 189.8 309.1 195.7 309.2 197.2 309.0 198.7 306.4 205.5 303.4 215.5 302.1 218.3ZM279.4 215.9 278.6 216.0 277.9 214.9 276.5 209.2 275.7 201.7 275.5 192.2 276.0 185.2 277.0 180.2 278.4 177.3 279.4 176.5 280.4 176.2 281.1 176.4 281.6 176.9 282.4 179.2 282.7 184.2 282.5 192.2 282.0 200.7 281.2 208.2 280.1 214.2 279.4 215.9ZM158.2 214.8 157.7 215.0 157.2 214.5 156.1 210.7 155.3 204.7 154.5 194.7 154.3 186.7 154.5 180.7 155.2 178.2 155.7 177.5 156.4 177.2 157.4 177.5 158.1 178.2 159.4 180.7 160.3 184.7 160.9 190.7 160.9 198.2 160.4 206.2 159.4 211.7 158.8 213.7 158.2 214.8Z"/>
<path fill="#ff0000" fill-opacity="0.161" fill-rule="evenodd" d="M42.1 51.9 41.6 52.2 41.1 52.0 40.3 50.2 39.6 46.9 39.3 42.2 39.1 33.7 39.4 22.2 40.6 21.8 43.1 21.9 44.2 22.2 44.4 33.2 44.1 42.7 43.4 48.7 42.8 50.7 42.1 51.9ZM87.9 32.0 87.4 32.2 86.9 31.7 86.2 29.2 85.6 22.2 86.2 21.9 88.4 21.9 89.7 22.2 89.1 28.7 88.6 30.7 87.9 32.0ZM110.7 55.8 109.9 55.2 109.2 52.3 108.7 47.2 108.5 40.2 108.5 29.7 108.8 22.2 110.2 21.9 112.2 22.2 112.8 28.2 113.1 35.7 113.0 43.7 112.5 50.2 111.7 54.2 111.2 55.4 110.7 55.8ZM120.9 43.8 120.7 44.0 120.2 44.0 119.2 42.2 118.6 38.7 118.2 34.2 118.0 22.2 119.7 21.9 121.7 21.9 122.8 22.2 122.8 29.7 122.5 36.2 121.8 41.2 120.9 43.8ZM133.7 22.3 133.2 22.6 132.6 22.2 133.7 22.3ZM156.4 43.4 156.2 43.5 155.7 43.2 155.3 41.7 154.7 34.7 155.0 22.2 155.9 22.0 157.5 22.2 157.8 28.2 157.6 38.2 157.2 41.3 156.4 43.4ZM166.7 30.3 166.2 30.6 165.7 30.2 164.9 28.2 164.1 22.2 164.7 22.0 166.9 21.9 168.3 22.2 167.7 27.6 167.2 29.4 166.7 30.3ZM189.4 54.4 188.9 54.4 188.4 54.0 187.4 51.0 186.7 46.2 186.4 39.2 186.6 29.7 187.2 22.2 188.9 21.9 191.0 22.2 191.5 27.2 191.7 33.7 191.7 41.7 191.2 48.2 190.4 52.6 189.9 53.8 189.4 54.4ZM202.2 42.3 201.7 41.8 201.2 39.6 200.5 29.2 200.5 22.2 201.7 22.0 203.3 22.2 203.6 27.2 203.3 37.7 202.8 40.7 202.2 42.3ZM234.7 47.8 234.2 47.5 233.7 46.5 232.8 42.2 232.3 35.7 232.3 27.7 232.5 22.2 233.4 21.9 235.2 21.8 236.9 22.2 236.9 27.2 236.2 42.7 235.4 46.8 234.7 47.8ZM247.9 54.4 247.4 54.4 246.9 54.0 245.9 50.9 245.3 45.7 245.0 38.7 245.1 29.7 245.7 22.2 247.4 21.9 249.5 22.2 250.0 27.7 250.3 34.7 250.2 42.2 249.8 48.2 248.9 52.6 248.4 53.8 247.9 54.4ZM270.9 30.4 270.4 30.6 269.9 30.1 269.1 28.0 268.4 22.2 268.9 22.0 271.1 21.9 272.6 22.2 271.9 27.8 271.4 29.5 270.9 30.4ZM281.1 48.8 280.6 49.1 280.1 48.9 279.1 47.0 278.5 43.7 278.0 38.2 277.9 30.2 278.2 22.2 279.9 21.8 281.9 21.9 282.5 22.2 282.7 32.7 282.6 41.2 282.1 46.0 281.6 47.9 281.1 48.8ZM303.9 22.5 303.4 22.5 303.0 22.2 304.1 22.2 303.9 22.5ZM316.6 43.9 316.1 44.0 315.8 43.7 315.0 41.7 314.4 38.1 314.0 32.7 313.9 22.2 315.6 21.9 317.6 21.9 318.7 22.2 318.7 29.7 318.3 36.7 317.6 41.4 317.1 43.1 316.6 43.9ZM326.4 55.7 325.9 55.7 325.2 54.7 324.3 51.2 323.8 45.7 323.6 38.2 323.8 29.7 324.5 22.2 326.4 21.9 327.9 22.2 328.3 35.7 328.1 44.2 327.8 50.2 327.1 54.3 326.4 55.7ZM349.1 32.2 348.4 31.4 347.7 29.2 347.0 22.2 348.1 21.9 350.4 21.9 351.1 22.2 350.6 27.9 349.9 31.4 349.1 32.2ZM395.6 51.9 395.1 52.2 394.6 52.0 393.6 50.0 392.9 46.2 392.5 40.7 392.3 31.7 392.5 22.2 394.1 21.8 396.4 21.8 397.3 22.2 397.6 34.2 397.4 42.7 396.8 48.7 396.3 50.7 395.6 51.9ZM64.9 73.4 64.4 73.4 63.9 73.1 62.9 70.7 62.2 66.7 61.9 61.7 62.2 50.2 62.9 36.7 63.6 30.8 64.2 29.4 64.7 29.0 65.2 29.4 65.7 30.7 66.7 35.7 67.3 42.7 67.6 52.2 67.5 60.7 66.9 67.2 66.1 71.2 65.7 72.5 64.9 73.4ZM372.6 73.2 372.1 73.5 371.4 73.0 370.7 71.7 370.1 69.6 369.5 64.2 369.1 55.7 369.3 45.2 369.9 36.7 370.9 30.9 371.4 29.6 372.1 29.1 372.9 30.3 373.6 35.1 374.3 45.2 374.8 59.7 374.7 64.2 374.3 68.2 373.6 71.3 372.6 73.2ZM143.7 63.4 143.2 63.5 142.7 63.0 141.8 60.2 141.2 55.2 141.0 49.2 141.2 42.7 141.7 37.2 142.4 34.0 142.9 33.0 143.4 32.7 144.2 33.8 144.9 37.2 145.3 41.7 145.6 47.7 145.5 53.2 145.1 58.2 144.4 61.8 143.7 63.4ZM293.9 63.2 293.4 63.6 292.9 63.2 292.0 60.7 291.4 56.2 291.1 50.2 291.2 43.7 291.7 37.7 292.4 34.2 292.9 33.1 293.4 32.7 294.1 33.6 294.9 36.6 295.4 41.2 295.7 46.7 295.3 57.2 294.6 61.3 293.9 63.2ZM257.6 75.9 256.9 75.6 256.4 74.8 255.6 71.7 255.0 66.2 254.7 59.2 255.0 50.7 255.5 44.2 256.4 40.0 256.9 38.9 257.6 38.3 258.1 38.6 258.6 39.7 259.3 43.2 259.7 49.2 259.9 57.2 259.7 65.2 259.3 70.7 258.6 74.1 258.1 75.4 257.6 75.9ZM133.9 80.4 133.4 80.4 132.9 79.9 132.2 77.1 131.7 71.7 131.5 64.7 131.5 53.7 131.8 46.2 132.4 42.7 132.9 41.6 133.4 41.4 133.9 41.8 134.6 43.2 135.4 47.2 136.0 53.2 136.3 61.2 136.2 68.7 135.8 74.7 134.9 78.7 133.9 80.4ZM303.4 80.4 302.9 80.4 302.1 79.6 301.2 76.2 300.6 70.7 300.4 63.2 300.6 54.7 301.3 47.2 302.1 43.2 302.6 42.1 303.4 41.4 303.9 41.8 304.3 42.7 304.9 46.2 305.3 60.2 305.2 69.2 304.8 74.7 304.2 78.7 303.4 80.4ZM212.2 78.8 211.7 78.9 210.9 78.1 210.0 75.2 209.2 69.2 209.0 62.2 209.2 54.2 209.8 47.7 210.7 43.5 211.2 42.4 211.9 41.7 212.4 41.9 212.9 42.5 213.8 45.2 214.3 49.2 214.5 54.7 214.4 63.2 213.8 71.7 213.2 76.7 212.7 78.2 212.2 78.8ZM225.2 78.9 224.4 78.7 223.9 77.8 223.2 74.3 222.5 67.2 222.2 57.7 222.3 51.2 222.7 46.7 223.5 43.2 224.2 42.0 224.7 41.7 225.2 41.9 225.7 42.7 226.7 46.2 227.4 51.7 227.7 59.2 227.6 66.7 227.1 72.7 226.3 76.7 225.7 78.2 225.2 78.9ZM179.4 69.8 178.9 69.7 178.7 69.2 178.2 66.8 177.7 58.2 178.0 48.2 178.4 45.2 178.7 44.5 179.2 44.0 179.9 45.5 180.4 48.2 180.9 56.7 180.5 65.7 180.0 68.7 179.4 69.8ZM87.7 95.2 86.9 95.0 86.4 94.4 85.5 92.2 84.9 88.7 84.7 84.7 85.2 71.2 85.9 58.6 86.7 53.4 87.2 52.1 87.7 51.7 88.3 52.2 88.9 53.5 89.9 58.2 90.6 66.2 90.8 75.7 90.6 83.7 90.0 89.7 88.9 93.7 88.4 94.6 87.7 95.2ZM349.4 95.2 348.6 95.0 348.0 94.2 346.9 90.6 346.2 84.7 345.9 76.7 346.1 67.2 346.8 58.7 347.9 53.2 348.4 52.2 349.1 51.7 349.6 52.2 350.1 53.8 350.9 59.7 352.0 84.2 351.9 88.2 351.4 91.5 350.4 94.3 349.4 95.2ZM166.7 88.8 165.9 88.9 165.4 88.4 164.8 87.2 164.2 85.2 163.5 79.7 163.2 73.2 163.3 65.7 164.0 58.7 164.9 54.3 165.4 53.3 166.2 52.7 166.7 52.8 167.2 53.7 168.2 57.0 168.8 62.2 169.0 69.2 168.9 76.7 168.5 82.7 167.7 86.9 166.7 88.8ZM270.9 88.8 270.1 88.9 269.6 88.3 268.6 85.2 267.9 79.7 267.7 72.7 267.8 65.2 268.3 58.7 269.1 54.5 269.6 53.3 270.4 52.7 271.1 53.0 271.6 53.9 272.5 57.2 273.2 62.7 273.5 69.7 273.4 77.2 272.9 82.7 272.1 86.7 271.5 88.2 270.9 88.8ZM280.1 105.7 279.4 105.4 278.9 104.6 277.9 100.7 277.3 95.2 277.2 87.7 277.5 78.7 278.1 72.7 279.1 68.5 279.6 67.5 280.4 67.1 280.9 67.5 281.4 68.9 281.9 72.7 282.2 88.7 282.0 96.2 281.6 101.4 280.9 104.7 280.1 105.7ZM234.2 103.7 233.7 103.4 233.0 102.2 232.2 98.2 231.7 92.2 231.6 84.7 231.9 78.2 232.6 72.2 233.5 68.7 234.2 67.7 234.7 67.5 235.2 67.7 235.7 68.4 236.6 71.7 237.1 76.2 237.2 81.7 236.7 90.7 235.9 98.5 235.2 102.2 234.7 103.3 234.2 103.7ZM42.4 140.7 42.1 140.9 41.6 140.4 41.1 139.1 39.4 129.5 37.8 116.2 37.3 106.2 37.7 95.7 39.3 79.7 40.4 73.9 40.9 72.7 41.6 72.1 42.4 72.5 43.3 74.2 44.5 80.2 45.3 90.2 45.8 104.2 45.7 116.7 45.1 127.2 43.8 136.7 43.1 139.2 42.4 140.7ZM202.7 97.9 202.2 97.7 201.9 97.1 201.4 95.0 200.8 90.2 200.4 83.7 200.7 75.9 201.2 73.3 201.9 72.1 202.7 72.8 203.4 75.2 204.1 83.2 203.9 92.7 203.4 95.9 202.7 97.9ZM394.6 140.8 394.4 140.8 393.9 140.1 393.3 138.2 391.8 129.2 391.1 119.2 390.9 107.2 391.2 92.7 392.0 81.7 393.3 74.7 394.1 72.7 394.9 72.1 395.6 72.5 396.2 73.7 397.4 79.2 399.0 96.2 399.4 105.7 399.0 114.7 397.6 127.2 395.9 137.7 395.1 140.2 394.6 140.8ZM156.9 99.9 156.4 99.6 155.9 97.7 155.3 87.7 155.7 76.0 156.2 73.4 156.7 73.0 157.4 74.7 157.9 77.6 158.4 87.2 158.1 95.7 157.5 98.7 156.9 99.9ZM110.4 117.7 109.7 117.5 109.2 117.1 108.2 115.1 107.6 112.2 107.4 108.7 108.1 92.7 108.8 82.2 109.7 76.3 110.2 75.2 110.7 74.8 111.4 75.3 112.0 76.7 113.1 81.7 113.8 89.7 114.1 99.7 113.8 107.2 113.1 112.7 111.9 116.4 111.2 117.4 110.4 117.7ZM326.6 117.7 325.9 117.6 325.1 117.0 324.4 115.5 323.8 113.7 323.0 108.2 322.7 101.2 322.8 91.7 323.5 82.7 324.5 77.2 325.1 75.6 325.9 74.8 326.6 75.3 327.1 76.7 327.9 81.6 328.6 91.7 329.3 107.7 329.2 111.7 328.7 114.7 327.8 116.7 326.6 117.7ZM189.4 111.7 188.7 111.7 187.9 110.9 186.8 107.7 186.1 102.2 185.8 95.2 186.0 87.2 186.8 80.7 187.9 76.7 188.4 75.9 189.2 75.6 189.7 75.8 190.3 76.7 191.2 79.7 191.8 84.2 192.0 90.7 191.8 99.2 191.3 105.7 190.4 110.1 189.4 111.7ZM247.9 111.8 247.2 111.6 246.7 111.0 245.7 107.3 245.0 101.2 244.7 92.7 244.8 85.7 245.4 80.3 246.4 76.7 246.9 75.9 247.7 75.6 248.4 76.0 248.9 76.9 249.9 80.7 250.6 86.2 250.9 93.7 250.8 100.7 250.2 106.2 249.2 110.2 248.7 111.1 247.9 111.8ZM65.7 165.3 65.2 164.8 64.9 164.1 64.2 160.4 61.8 141.7 60.1 130.2 59.8 126.7 60.0 122.7 63.1 97.8 63.9 94.4 64.4 93.3 64.9 93.0 65.7 93.4 66.5 95.2 67.8 101.7 68.6 111.2 69.0 125.2 68.9 139.7 68.1 152.7 67.0 161.7 66.4 164.1 65.7 165.3ZM371.1 165.2 370.9 165.2 370.4 164.4 369.8 162.2 368.6 152.7 367.8 139.2 367.7 126.2 368.0 112.7 368.9 102.2 370.0 95.7 370.9 93.6 371.6 93.0 372.1 93.2 372.6 94.0 373.6 98.5 376.6 122.2 376.9 126.2 376.6 130.2 374.9 141.6 372.6 159.8 371.9 163.7 371.1 165.2ZM257.1 131.5 256.6 131.6 255.9 130.7 254.9 127.2 254.3 121.2 254.1 113.7 254.3 106.2 254.9 100.2 255.9 96.2 256.4 95.2 257.1 94.6 257.9 95.3 258.6 98.6 259.0 103.2 259.1 109.7 258.6 125.0 258.1 129.2 257.6 130.7 257.1 131.5ZM133.7 140.8 132.9 140.9 132.4 140.6 131.3 139.2 130.7 136.7 130.6 132.7 131.0 116.7 131.7 105.4 132.4 100.5 132.9 99.1 133.7 98.4 134.4 98.9 135.1 100.2 136.2 104.7 137.0 112.7 137.2 121.7 137.0 129.2 136.3 135.2 135.2 139.1 134.4 140.2 133.7 140.8ZM304.1 140.7 303.1 140.8 302.4 140.3 301.6 139.3 301.0 137.7 300.0 132.7 299.5 125.7 299.6 115.7 300.3 106.2 301.4 100.8 302.1 99.1 302.9 98.4 303.6 98.9 304.1 100.0 304.9 103.9 305.4 110.7 306.0 126.7 306.1 133.7 305.9 137.2 305.1 139.7 304.1 140.7ZM211.9 134.3 211.4 134.6 210.7 134.2 209.9 132.7 209.4 130.7 208.6 124.7 208.3 117.7 208.6 110.7 209.3 104.7 210.4 100.8 211.2 99.5 211.9 99.1 212.7 99.4 213.2 100.0 214.1 102.2 214.8 105.7 215.0 109.2 214.7 116.2 213.9 125.2 212.9 131.4 211.9 134.3ZM225.9 134.4 225.2 134.6 224.7 134.0 223.9 131.8 223.4 129.4 222.4 121.2 221.7 111.2 221.8 106.7 222.3 103.2 223.4 100.3 223.9 99.6 224.7 99.1 225.4 99.4 225.9 100.0 227.1 103.2 227.8 107.7 228.3 114.2 228.3 121.2 227.9 127.2 227.1 131.7 226.6 133.2 225.9 134.4ZM179.9 124.2 179.4 123.2 179.0 120.2 178.6 111.2 178.9 103.3 179.2 101.8 179.7 100.9 180.3 101.7 180.8 104.2 181.3 111.7 181.0 120.7 180.6 123.2 180.2 124.1 179.9 124.2ZM88.9 183.0 88.4 183.1 88.2 182.7 87.2 178.7 84.8 162.2 82.8 151.7 82.5 148.2 82.7 144.7 86.2 118.2 87.2 114.5 87.7 113.8 88.2 113.7 88.9 114.3 89.7 115.9 90.9 121.7 91.8 130.2 92.1 140.2 92.0 153.7 91.3 168.7 90.2 178.2 89.6 181.2 88.9 183.0ZM348.4 182.9 348.1 183.1 347.6 182.8 347.1 181.2 345.8 172.7 344.8 157.2 344.5 142.7 344.8 131.7 345.8 121.7 346.4 118.2 347.1 115.7 347.9 114.2 348.6 113.7 349.1 113.9 349.6 114.7 350.6 118.8 354.0 144.7 354.2 148.2 354.0 151.2 351.9 162.4 349.6 178.1 348.9 181.8 348.4 182.9ZM280.9 164.8 280.1 165.0 279.1 164.3 278.4 163.1 277.7 161.2 276.8 155.7 276.4 148.2 276.6 138.2 277.3 130.2 278.5 125.2 279.3 123.7 280.1 123.2 280.6 123.4 281.1 124.2 282.0 127.2 282.4 131.7 282.6 139.2 282.7 152.2 282.6 158.7 281.9 163.2 281.4 164.3 280.9 164.8ZM234.2 158.3 233.7 158.6 232.9 157.8 231.9 154.7 231.2 149.2 230.9 142.2 231.1 135.7 231.7 130.2 232.7 126.5 233.4 125.2 233.9 124.8 234.4 125.1 234.9 125.9 235.7 128.9 236.2 133.7 236.4 139.2 236.2 146.2 235.7 151.7 234.9 156.5 234.2 158.3ZM157.2 160.7 156.4 161.1 155.7 159.7 155.2 156.7 155.0 152.2 155.4 134.7 155.9 130.2 156.2 129.4 156.7 128.7 157.2 129.0 157.7 130.0 158.4 133.2 158.9 138.2 159.2 144.2 159.1 150.2 158.7 155.2 158.0 158.7 157.2 160.7ZM203.2 152.9 202.7 152.7 202.4 152.1 201.9 150.0 201.4 145.7 201.3 141.2 201.7 133.4 202.2 130.9 202.4 130.3 202.9 130.0 203.6 131.2 204.2 133.6 204.7 140.7 204.3 148.7 203.8 151.7 203.2 152.9ZM111.9 199.4 111.4 199.4 111.2 199.1 110.4 196.9 107.8 183.7 105.8 175.2 105.3 171.7 105.5 168.7 106.9 159.0 108.9 140.8 109.9 136.4 110.4 135.5 111.2 135.1 111.9 135.6 112.7 137.2 114.0 142.7 114.8 150.7 115.2 161.7 115.1 174.2 114.3 185.7 113.2 195.2 112.5 198.2 111.9 199.4ZM325.4 199.3 324.9 199.5 324.6 199.2 324.1 197.7 322.8 189.7 321.8 177.2 321.5 163.7 321.8 152.2 322.7 142.7 324.0 137.2 324.9 135.5 325.6 135.1 326.1 135.3 326.6 136.1 327.6 139.8 331.4 171.2 331.0 174.7 328.8 184.2 326.6 195.4 325.9 198.3 325.4 199.3ZM256.6 184.7 256.1 184.6 255.4 183.4 254.3 178.7 253.6 171.7 253.5 165.2 254.0 158.2 254.7 153.7 255.9 150.5 256.6 149.6 257.4 149.3 258.1 149.5 258.6 150.0 259.6 152.3 260.1 155.2 260.2 159.7 259.8 168.2 258.9 176.8 257.9 182.4 257.4 183.8 256.6 184.7ZM180.4 178.9 179.9 178.9 179.7 178.6 178.9 175.9 178.2 170.3 177.8 165.2 177.6 160.2 177.8 156.7 178.4 154.4 179.2 153.6 179.7 153.7 180.2 154.2 180.9 156.2 181.6 159.7 182.0 164.2 182.0 169.2 181.7 173.7 181.2 177.1 180.4 178.9ZM134.9 215.8 134.4 215.9 133.9 215.4 132.9 213.2 128.7 200.2 128.2 197.2 130.1 183.2 131.9 160.9 132.7 157.5 133.2 156.6 133.9 156.2 134.9 156.9 135.6 158.2 136.9 163.2 137.8 171.7 138.3 183.7 138.1 195.7 137.5 204.7 136.4 212.2 135.7 214.6 134.9 215.8ZM302.4 215.9 301.6 215.7 300.9 214.2 300.1 211.2 299.5 207.2 298.7 197.7 298.4 185.2 298.8 173.7 299.8 163.7 300.4 160.4 301.1 158.0 301.9 156.8 302.9 156.2 303.6 156.7 304.1 157.8 304.8 161.2 306.6 183.4 308.5 197.2 308.1 199.7 304.1 212.2 303.1 214.8 302.4 215.9ZM279.6 212.8 279.1 212.9 278.4 212.0 277.2 207.7 276.5 200.7 276.3 193.2 276.7 186.7 277.5 182.2 278.9 179.2 279.6 178.4 280.4 178.3 281.4 178.9 282.1 181.1 282.4 184.2 282.4 189.7 282.1 197.7 281.4 205.2 280.6 210.0 279.6 212.8ZM157.9 211.2 157.4 211.5 156.9 211.0 155.9 207.4 155.2 200.9 154.7 193.7 154.5 187.7 154.7 183.2 155.4 180.4 155.9 179.8 156.4 179.6 157.2 179.8 157.7 180.3 158.8 182.7 159.5 186.2 160.0 191.2 160.1 197.7 159.7 203.7 158.9 208.6 157.9 211.2Z"/>
<path fill="#ff0000" fill-opacity="0.205" fill-rule="evenodd" d="M41.6 49.2 40.9 48.6 40.1 45.7 39.6 41.2 39.4 35.2 39.7 22.2 41.4 21.9 43.7 22.2 43.9 29.7 43.8 37.7 43.4 43.7 42.6 47.6 42.1 48.8 41.6 49.2ZM87.7 29.2 87.2 29.2 86.9 28.7 86.4 26.9 85.9 22.2 86.4 22.0 87.9 22.0 89.2 22.2 88.5 27.2 88.2 28.5 87.7 29.2ZM110.9 52.8 110.4 53.0 110.2 52.9 109.4 50.8 108.9 46.4 108.7 40.7 108.6 32.2 108.9 25.2 109.2 22.2 110.2 22.1 111.5 22.2 112.2 27.2 112.6 34.2 112.6 40.7 112.3 46.2 111.7 50.7 110.9 52.8ZM120.7 39.8 120.2 39.8 119.9 39.5 119.4 37.7 118.9 34.2 118.6 29.2 118.6 22.2 120.2 21.9 122.2 22.2 122.2 23.2 122.2 29.2 122.0 34.2 121.4 38.0 120.7 39.8ZM166.4 26.9 165.9 26.8 165.4 25.8 164.7 22.2 166.2 22.0 167.7 22.2 167.2 25.3 166.4 26.9ZM189.4 50.8 188.9 50.9 188.4 50.2 187.7 47.7 187.2 43.7 186.9 38.2 187.0 31.2 187.5 25.2 188.0 22.2 188.9 22.1 190.2 22.2 190.4 23.1 191.0 27.7 191.2 34.2 191.2 40.2 190.9 45.2 190.2 49.2 189.4 50.8ZM235.2 44.3 234.9 44.6 234.4 44.5 233.7 42.5 233.1 38.7 232.8 33.2 233.1 22.2 234.7 21.9 236.5 22.2 236.6 24.7 236.2 38.2 235.7 42.6 235.2 44.3ZM247.9 50.8 247.4 50.9 246.9 50.2 246.2 47.7 245.7 43.7 245.5 38.2 245.5 31.2 246.0 25.2 246.5 22.2 247.4 22.1 248.7 22.2 248.9 23.1 249.5 27.7 249.8 34.2 249.7 40.2 249.4 45.2 248.7 49.2 247.9 50.8ZM270.6 26.9 270.1 26.7 269.7 25.7 269.0 22.2 270.4 22.0 272.0 22.2 271.4 25.4 270.6 26.9ZM280.9 46.2 280.4 46.3 279.9 45.7 279.2 43.2 278.7 39.2 278.5 34.2 278.7 22.2 280.4 21.9 282.2 22.2 282.4 27.7 282.5 35.7 282.2 41.2 281.6 44.8 280.9 46.2ZM316.6 39.7 316.1 39.9 315.9 39.7 315.4 38.4 314.9 35.2 314.5 30.7 314.5 22.2 315.9 22.0 318.1 22.2 318.1 28.2 317.9 33.5 317.4 37.4 316.6 39.7ZM326.6 52.8 326.1 53.0 325.6 52.5 324.8 49.7 324.3 44.7 324.1 38.7 324.3 30.7 324.8 24.2 325.2 22.2 326.4 22.0 327.5 22.2 327.9 26.8 328.1 33.7 327.8 46.7 327.4 50.2 326.6 52.8ZM349.4 29.3 349.0 29.2 348.6 28.7 348.0 26.2 347.5 22.2 348.1 22.0 349.9 22.0 350.8 22.2 350.1 27.6 349.4 29.3ZM395.1 49.2 394.6 48.9 394.1 47.9 393.4 44.2 392.9 38.7 392.7 31.2 393.0 22.2 395.1 21.9 397.0 22.2 397.3 33.7 397.1 40.2 396.7 45.2 396.0 48.2 395.6 48.9 395.1 49.2ZM201.9 34.9 201.4 32.9 201.2 28.2 201.4 24.3 201.7 23.4 201.9 23.2 202.4 25.2 202.6 29.2 202.4 33.3 201.9 34.9ZM156.2 36.7 155.9 36.5 155.6 35.2 155.4 30.2 155.7 25.0 155.9 23.9 156.2 23.7 156.7 25.6 156.9 30.2 156.7 35.0 156.2 36.7ZM65.2 70.2 64.7 70.7 64.2 70.6 63.6 69.9 63.1 68.5 62.5 64.7 62.3 59.7 62.5 49.2 63.1 38.2 63.7 33.7 64.2 32.3 64.7 31.9 65.5 33.2 66.3 37.2 66.8 43.2 67.1 50.7 67.0 57.7 66.6 63.7 66.0 67.7 65.2 70.2ZM372.6 70.5 371.9 70.6 371.4 70.0 370.5 67.2 369.9 62.2 369.6 54.7 369.8 45.7 370.3 38.2 371.1 33.5 371.6 32.3 372.1 31.9 372.6 32.5 372.9 33.2 373.6 38.2 374.4 56.2 374.4 61.7 374.1 65.7 373.4 69.0 372.6 70.5ZM143.4 58.3 142.9 58.0 142.3 55.7 141.8 48.2 142.3 40.2 142.9 37.8 143.4 37.4 143.9 38.2 144.4 40.7 144.8 48.2 144.4 55.3 143.9 57.6 143.4 58.3ZM293.6 58.2 293.1 58.2 292.9 57.8 292.4 55.9 291.9 48.7 292.3 40.7 292.8 38.2 293.4 37.4 293.9 38.0 294.4 40.1 294.9 47.2 294.6 54.2 294.1 57.1 293.6 58.2ZM257.9 72.9 257.4 73.1 256.9 72.5 256.1 70.2 255.6 65.7 255.3 59.7 255.4 52.2 255.9 46.7 256.6 42.6 257.1 41.5 257.6 41.1 258.4 41.9 259.0 44.7 259.4 49.2 259.6 55.7 259.5 62.2 259.2 67.7 258.6 71.2 257.9 72.9ZM133.7 77.9 133.2 77.7 132.9 77.3 132.2 74.1 131.6 62.7 131.7 54.7 132.0 48.7 132.7 45.0 132.9 44.5 133.4 44.2 133.9 44.8 134.4 46.1 135.1 49.7 135.6 55.2 135.8 61.7 135.7 67.7 135.3 72.7 134.6 76.2 134.2 77.3 133.7 77.9ZM212.4 75.3 211.9 75.7 211.4 75.3 210.5 72.7 209.9 68.2 209.6 62.2 209.7 55.7 210.2 49.7 210.9 46.2 211.4 45.1 211.9 44.7 212.7 45.2 213.4 47.7 213.9 51.2 214.1 56.2 214.1 62.7 213.7 69.2 213.2 73.0 212.4 75.3ZM225.2 75.5 224.7 75.6 224.2 75.0 223.4 72.1 222.9 67.2 222.6 59.7 222.6 53.7 223.0 49.2 223.7 46.1 224.2 45.0 224.7 44.6 225.2 44.9 225.6 45.7 226.3 48.2 226.8 52.7 227.1 58.7 227.1 64.7 226.7 69.7 226.0 73.7 225.2 75.5ZM303.4 77.8 302.9 77.8 302.4 77.0 301.6 73.7 301.1 68.7 300.9 62.7 301.1 55.7 301.6 49.7 302.4 45.8 302.9 44.6 303.4 44.2 303.9 44.6 304.1 45.2 304.6 48.0 305.1 60.7 304.6 73.3 304.1 76.4 303.4 77.8ZM179.2 62.7 178.9 62.5 178.7 61.3 178.4 56.7 178.7 52.3 178.9 51.3 179.2 51.2 179.7 53.6 179.8 57.2 179.7 60.8 179.2 62.7ZM87.9 92.4 87.4 92.6 86.9 92.4 85.9 90.4 85.3 87.2 85.1 82.2 85.4 71.2 86.0 61.2 86.7 56.1 87.2 54.8 87.7 54.4 88.2 54.9 88.7 56.1 89.5 60.2 90.0 66.2 90.2 73.7 90.1 80.7 89.7 86.2 88.9 90.4 87.9 92.4ZM349.9 92.3 349.1 92.6 348.6 92.2 347.6 89.7 346.8 84.7 346.5 77.7 346.6 69.2 347.1 61.2 348.0 56.2 348.6 54.7 349.1 54.4 349.9 55.6 350.6 60.1 351.6 78.7 351.6 84.2 351.3 87.7 350.7 90.7 349.9 92.3ZM166.4 85.3 165.9 85.2 165.4 84.6 164.6 81.7 164.0 77.2 163.8 71.7 164.0 65.7 164.4 60.7 165.2 57.4 165.7 56.3 166.2 55.9 166.7 56.1 167.2 57.1 167.8 59.7 168.3 64.2 168.5 70.2 168.4 76.2 168.0 80.7 167.3 83.7 166.9 84.7 166.4 85.3ZM270.6 85.3 270.1 85.2 269.6 84.4 268.9 81.7 268.4 77.2 268.2 71.7 268.3 65.7 268.8 60.7 269.4 57.5 269.9 56.4 270.4 55.9 270.9 56.1 271.4 57.0 272.1 59.7 272.6 64.2 272.9 70.2 272.7 76.2 272.3 80.7 271.6 83.7 271.1 84.8 270.6 85.3ZM280.1 103.2 279.6 102.9 279.1 102.0 278.4 98.7 277.9 93.7 277.8 87.7 278.0 80.2 278.6 74.7 279.4 71.0 279.9 70.1 280.4 69.8 280.9 70.2 281.1 70.9 281.7 74.2 282.1 88.2 281.5 99.2 280.9 102.3 280.1 103.2ZM234.7 100.5 234.2 100.6 233.7 99.9 232.9 97.2 232.4 92.2 232.2 86.2 232.4 80.2 232.9 75.2 233.7 71.7 234.2 70.6 234.7 70.2 235.4 70.7 236.2 73.2 236.7 76.7 236.8 81.7 236.7 87.8 236.2 93.8 235.4 98.5 234.7 100.5ZM42.4 135.4 41.9 135.7 41.6 135.5 41.1 134.7 39.6 128.1 38.3 117.2 37.8 106.7 38.1 96.7 39.3 83.2 40.4 76.7 40.9 75.4 41.6 74.8 42.4 75.3 43.0 76.7 44.1 82.2 44.9 91.2 45.3 103.7 45.2 114.7 44.7 123.7 43.6 131.4 42.9 134.2 42.4 135.4ZM395.1 135.4 394.6 135.7 393.9 134.6 393.1 131.9 392.5 127.7 391.7 119.2 391.4 107.2 391.7 93.7 392.5 83.2 393.6 76.9 394.4 75.2 395.1 74.8 395.9 75.6 396.4 77.0 397.4 82.9 398.5 95.7 398.9 105.7 398.6 114.7 397.7 123.7 396.4 131.6 395.6 134.4 395.1 135.4ZM110.7 115.3 109.9 115.3 109.4 114.9 108.6 113.2 108.0 110.2 107.8 105.7 108.2 94.2 108.9 83.5 109.7 78.9 110.2 77.7 110.7 77.4 111.2 77.8 111.8 79.2 112.7 83.7 113.3 90.2 113.5 98.2 113.3 105.2 112.7 110.2 111.9 113.5 111.4 114.5 110.7 115.3ZM326.9 115.3 326.1 115.3 325.6 115.0 324.9 113.7 324.4 112.2 323.6 107.2 323.2 100.7 323.3 92.2 324.0 84.2 324.9 79.3 325.4 78.0 326.1 77.4 326.6 77.8 327.1 79.3 327.8 83.7 328.4 92.1 328.8 103.2 328.8 107.7 328.6 111.2 327.9 113.8 326.9 115.3ZM202.4 91.8 202.2 91.8 201.9 91.5 201.7 90.6 201.1 85.2 201.2 80.2 201.5 78.7 201.9 77.8 202.3 78.2 202.7 79.2 203.1 83.7 203.0 88.7 202.4 91.8ZM189.4 108.4 188.9 108.4 188.4 108.0 187.4 105.2 186.7 100.7 186.4 94.7 186.6 88.7 187.2 83.2 188.2 79.6 188.7 78.8 189.2 78.6 189.7 78.9 190.2 79.8 190.9 82.7 191.4 86.7 191.6 92.2 191.4 98.2 191.0 103.2 190.4 106.4 189.9 107.7 189.4 108.4ZM248.2 108.2 247.7 108.5 247.2 108.2 246.2 105.7 245.5 101.2 245.2 94.5 245.3 88.2 245.7 83.2 246.7 79.6 247.2 78.8 247.7 78.6 248.2 78.9 248.7 79.8 249.4 82.7 250.0 87.2 250.3 92.7 250.2 98.2 249.8 102.7 249.1 106.2 248.2 108.2ZM156.7 93.4 156.2 91.8 155.9 86.7 156.2 81.1 156.4 80.1 156.7 80.1 157.2 82.4 157.4 87.2 157.2 91.7 156.7 93.4ZM65.4 160.8 64.7 159.6 63.6 154.4 60.8 132.2 60.4 126.7 60.7 120.7 62.9 101.8 63.9 96.8 64.4 95.8 64.9 95.5 65.7 96.2 66.3 97.7 67.4 104.2 68.2 114.2 68.5 125.7 68.3 138.7 67.6 150.2 66.6 157.7 65.9 160.2 65.4 160.8ZM371.4 160.8 371.1 160.8 370.8 160.2 370.1 158.1 369.1 150.2 368.4 137.7 368.2 125.7 368.5 113.7 369.3 103.7 370.5 97.7 371.1 96.0 371.9 95.5 372.4 95.9 372.9 97.1 373.6 100.8 376.0 121.2 376.3 126.7 376.0 131.7 373.1 153.7 372.1 159.3 371.4 160.8ZM257.4 128.4 256.9 128.7 256.4 128.2 255.6 125.7 255.0 121.2 254.8 115.2 254.8 108.7 255.4 102.7 256.1 98.9 256.6 97.7 257.1 97.3 257.6 97.5 257.9 98.0 258.4 100.0 258.9 108.7 258.6 121.7 258.1 125.9 257.4 128.4ZM133.9 138.3 133.2 138.6 132.7 138.4 131.7 136.8 131.1 134.2 130.9 129.7 131.2 118.2 131.8 107.2 132.7 102.1 133.2 101.1 133.7 100.9 134.2 101.3 134.9 102.7 135.7 106.7 136.3 112.7 136.6 120.7 136.5 127.2 135.9 132.7 135.1 136.2 133.9 138.3ZM304.1 138.4 303.4 138.6 302.6 138.2 301.9 137.0 301.4 135.6 300.6 131.2 300.1 124.7 300.2 115.7 300.8 107.7 301.9 102.5 302.4 101.5 303.1 100.9 303.6 101.3 304.1 102.4 304.8 106.2 305.7 122.2 305.6 133.7 305.1 136.7 304.1 138.4ZM211.9 131.4 211.4 131.6 210.9 131.1 209.9 128.2 209.3 123.7 209.0 117.2 209.3 111.2 209.9 106.3 210.9 103.0 211.4 102.2 211.9 102.0 212.4 102.1 212.9 102.6 213.7 104.7 214.3 107.7 214.5 111.7 214.3 117.7 213.7 124.5 212.9 128.9 211.9 131.4ZM225.7 131.3 225.2 131.6 224.7 131.2 223.7 128.2 222.9 122.7 222.3 114.7 222.3 109.7 222.7 106.1 223.5 103.2 224.2 102.2 224.7 102.0 225.2 102.1 225.7 102.7 226.7 105.5 227.3 109.7 227.6 114.7 227.6 120.2 227.3 125.2 226.7 128.9 225.7 131.3ZM88.7 178.9 88.2 179.0 87.9 178.6 86.9 174.8 83.5 153.2 83.1 148.2 83.4 143.2 85.9 121.7 86.9 117.2 87.4 116.3 87.9 116.0 88.7 116.6 89.4 118.2 90.5 123.2 91.3 131.2 91.6 140.2 91.5 152.2 90.8 166.2 89.8 174.7 89.2 177.7 88.7 178.9ZM348.6 178.9 348.1 179.0 347.4 177.4 346.2 169.7 345.3 155.7 345.1 142.7 345.3 132.7 346.2 123.2 347.4 117.9 348.1 116.4 348.9 116.0 349.4 116.4 349.9 117.5 350.9 122.4 353.3 142.7 353.6 148.2 353.3 152.7 350.1 172.7 349.4 176.8 348.6 178.9ZM280.6 162.8 279.9 162.8 279.1 162.0 278.0 158.7 277.3 153.7 277.0 147.2 277.2 138.2 277.8 131.7 278.9 127.2 279.4 126.2 280.1 125.6 280.6 125.8 281.1 126.6 281.9 130.0 282.3 135.7 282.5 143.2 282.5 152.7 282.3 157.7 281.6 161.3 281.1 162.4 280.6 162.8ZM233.9 155.8 233.4 155.4 232.9 154.3 232.2 151.2 231.7 146.7 231.6 140.7 231.8 135.7 232.4 131.3 233.2 128.6 233.7 127.7 234.2 127.5 234.9 128.3 235.7 131.5 236.1 136.2 236.2 140.7 235.9 147.2 235.4 151.8 234.7 154.9 233.9 155.8ZM156.9 156.4 156.4 156.5 155.9 155.2 155.5 148.2 155.8 138.2 156.2 135.4 156.7 134.5 157.2 135.0 157.7 137.2 158.2 145.2 157.9 152.5 157.4 155.2 156.9 156.4ZM202.9 147.1 202.7 147.1 202.4 146.7 202.2 145.5 201.9 141.7 202.0 137.7 202.3 136.2 202.7 135.8 203.2 137.2 203.6 140.7 203.4 145.0 202.9 147.1ZM111.7 195.8 111.4 196.0 110.9 195.7 109.9 192.8 106.3 175.7 105.8 171.2 106.0 167.7 108.9 142.7 109.9 138.5 110.4 137.6 110.9 137.3 111.7 137.8 112.4 139.2 113.5 144.2 114.3 151.7 114.7 161.7 114.6 172.7 114.0 182.7 112.9 191.6 112.3 194.2 111.7 195.8ZM325.6 195.9 325.4 196.0 325.0 195.7 324.4 194.3 323.2 187.7 322.3 176.7 322.0 164.7 322.3 153.7 323.0 145.2 324.1 139.7 324.9 138.0 325.6 137.3 326.4 137.7 326.9 138.7 327.9 143.3 330.7 167.7 330.9 171.2 330.5 175.2 327.4 190.1 326.4 194.3 325.6 195.9ZM256.9 182.3 256.4 182.2 255.8 181.2 254.8 177.2 254.2 171.2 254.2 165.2 254.5 159.7 255.2 155.2 256.4 152.2 256.9 151.6 257.6 151.4 258.1 151.6 258.7 152.2 259.5 154.7 259.9 157.7 259.9 162.2 259.5 169.7 258.6 176.9 257.9 180.5 257.4 181.8 256.9 182.3ZM180.2 174.3 179.9 174.5 179.7 174.4 179.2 173.2 178.7 170.4 178.3 166.2 178.4 160.1 178.9 158.2 179.4 157.8 179.9 158.4 180.4 159.9 181.0 165.2 180.9 170.7 180.2 174.3ZM134.4 213.8 133.9 213.7 133.4 213.1 132.2 210.1 129.3 200.7 128.7 196.7 130.2 183.2 131.9 163.2 132.7 159.6 133.2 158.6 133.7 158.3 134.4 158.6 135.2 159.8 135.9 162.2 136.5 165.2 137.3 173.2 137.8 184.2 137.6 195.7 137.0 204.2 135.8 211.2 135.2 212.9 134.4 213.8ZM302.6 213.8 301.9 213.5 301.1 211.9 299.8 205.2 299.1 196.2 298.9 185.7 299.3 175.2 300.1 166.2 300.7 162.7 301.4 160.2 302.1 158.8 302.9 158.3 303.6 158.8 304.1 159.9 304.9 163.7 306.4 182.7 308.0 196.7 307.5 200.2 304.9 209.0 303.6 212.5 302.6 213.8ZM279.6 210.4 279.1 210.3 278.5 209.2 277.6 205.2 277.0 199.2 276.9 192.7 277.3 187.7 278.0 183.7 279.1 180.9 279.6 180.4 280.4 180.1 280.9 180.3 281.4 181.0 281.9 182.7 282.2 186.2 282.2 191.2 281.9 198.2 281.1 205.5 280.4 209.1 279.6 210.4ZM157.4 208.7 156.9 208.6 156.7 208.2 155.9 205.2 155.2 199.7 154.9 193.7 154.8 188.7 155.0 184.7 155.7 182.4 156.4 181.7 156.9 181.8 157.4 182.3 158.4 184.7 159.1 188.2 159.4 192.7 159.4 198.2 159.0 203.2 158.2 207.2 157.4 208.7Z"/>
<path fill="#ff0000" fill-opacity="0.259" fill-rule="evenodd" d="M41.9 46.3 41.4 46.5 41.1 46.2 40.4 43.8 40.0 40.2 39.8 35.2 40.0 22.2 41.4 22.0 43.3 22.2 43.5 27.2 43.5 34.2 43.2 40.2 42.6 44.3 41.9 46.3ZM87.7 26.5 87.2 26.4 86.8 25.7 86.4 23.6 86.4 22.1 88.7 22.2 88.2 25.2 87.7 26.5ZM110.7 50.3 110.2 50.3 109.9 49.9 109.4 47.8 108.8 38.7 109.2 26.5 109.7 23.2 110.2 22.2 110.7 22.4 110.9 23.0 111.5 25.7 112.0 30.2 112.2 35.7 111.8 45.7 111.3 48.7 110.7 50.3ZM120.7 35.9 120.4 36.0 120.2 35.8 119.7 34.3 119.1 28.7 119.1 22.2 120.2 22.1 121.7 22.2 121.7 22.7 121.6 31.2 121.2 34.4 120.7 35.9ZM166.7 23.2 166.2 23.7 165.4 22.2 167.0 22.2 166.7 23.2ZM234.9 41.5 234.4 41.2 234.2 40.6 233.7 38.2 233.3 29.7 233.6 22.2 234.9 22.0 236.1 22.2 236.3 27.7 235.9 37.1 235.4 40.4 234.9 41.5ZM270.9 23.3 270.4 23.7 269.7 22.2 271.3 22.2 270.9 23.3ZM280.6 43.8 279.9 42.8 279.3 40.2 278.8 31.2 279.2 22.2 280.6 22.0 281.9 22.2 282.2 31.2 281.8 40.2 281.4 42.6 281.1 43.3 280.6 43.8ZM316.4 36.0 315.9 35.6 315.4 33.6 314.9 27.2 315.0 22.2 316.1 22.1 317.6 22.2 317.6 24.2 317.4 31.9 316.9 35.0 316.4 36.0ZM326.4 50.4 325.9 50.2 325.6 49.6 325.0 46.7 324.5 37.2 325.1 26.7 325.6 23.5 326.1 22.3 326.4 22.2 326.9 22.7 327.5 25.7 327.9 36.2 327.4 46.7 326.9 49.6 326.4 50.4ZM349.6 26.3 349.1 26.6 348.7 25.7 348.0 22.2 349.4 22.0 350.5 22.2 350.1 24.6 349.6 26.3ZM395.4 46.4 394.9 46.4 394.6 46.1 393.9 43.5 393.4 39.2 393.2 33.7 393.4 22.2 394.9 22.0 396.7 22.2 396.9 28.2 397.0 35.2 396.7 40.7 396.1 44.6 395.4 46.4ZM189.2 47.8 188.7 47.4 188.4 46.8 187.9 44.6 187.4 35.7 187.9 26.6 188.4 24.1 188.7 23.4 189.2 23.0 189.8 24.2 190.3 26.7 190.8 35.7 190.4 44.2 189.9 46.5 189.2 47.8ZM247.7 47.8 247.2 47.4 246.9 46.8 246.4 44.6 245.9 35.7 246.4 26.6 246.9 24.1 247.2 23.4 247.7 23.0 248.3 24.2 248.8 26.7 249.3 35.7 248.9 44.2 248.4 46.5 247.7 47.8ZM64.9 67.9 64.4 68.1 63.9 67.7 63.2 65.7 62.8 62.2 62.6 57.2 62.7 49.2 63.2 40.7 63.9 35.5 64.2 34.9 64.7 34.5 65.4 35.9 66.1 39.7 66.7 51.2 66.3 62.2 65.7 66.0 64.9 67.9ZM372.6 67.9 372.1 68.1 371.6 67.7 370.9 65.3 370.3 60.7 370.0 54.7 370.1 47.2 370.5 40.7 371.2 36.2 371.6 35.0 372.1 34.5 372.6 35.1 372.9 35.9 373.4 39.2 374.1 53.7 373.8 63.2 373.4 66.0 372.6 67.9ZM257.9 70.3 257.6 70.4 257.1 70.0 256.4 67.7 256.0 64.2 255.8 59.2 255.9 53.2 256.3 48.2 256.9 44.9 257.6 43.7 258.1 44.1 258.4 44.7 258.9 47.2 259.3 55.7 259.0 65.7 258.5 68.7 257.9 70.3ZM293.4 51.7 293.0 50.2 292.8 47.7 292.9 45.2 293.4 43.7 293.8 45.2 294.0 47.7 293.8 50.2 293.4 51.7ZM143.4 51.7 143.2 51.6 142.9 50.5 142.7 47.7 142.9 44.8 143.2 43.8 143.4 43.7 143.8 45.2 143.9 47.7 143.7 50.7 143.4 51.7ZM133.7 75.4 133.2 75.3 132.9 74.9 132.4 72.7 132.0 68.2 131.8 62.2 132.2 50.7 132.7 47.7 132.9 47.1 133.4 46.8 134.2 48.2 134.7 51.2 135.3 61.2 134.9 70.7 134.4 73.8 133.7 75.4ZM303.4 75.4 302.9 75.2 302.6 74.8 301.9 71.8 301.5 67.7 301.4 62.2 301.5 56.2 302.0 51.2 302.6 47.9 303.4 46.8 304.0 47.7 304.5 50.2 304.9 60.7 304.5 71.2 304.1 73.8 303.4 75.4ZM212.2 72.5 211.7 72.4 211.4 72.1 210.7 69.4 210.2 65.7 210.1 61.2 210.2 56.2 210.5 51.7 211.2 48.6 211.9 47.4 212.4 47.6 212.7 48.1 213.2 50.2 213.6 53.7 213.8 58.2 213.4 67.7 212.9 70.7 212.2 72.5ZM225.2 72.3 224.7 72.5 224.4 72.3 223.7 70.0 223.2 65.7 222.9 60.7 223.0 55.7 223.3 51.2 223.9 48.5 224.7 47.4 225.2 47.7 225.4 48.2 225.9 50.2 226.4 54.0 226.6 58.7 226.3 67.7 225.8 70.7 225.2 72.3ZM87.4 90.2 86.7 89.6 85.9 87.2 85.5 83.7 85.4 78.2 85.7 69.5 86.2 62.2 86.9 57.8 87.2 57.2 87.7 56.9 88.2 57.5 88.5 58.7 89.2 62.7 89.7 68.7 89.8 75.7 89.6 81.7 89.1 86.2 88.4 89.0 87.9 89.9 87.4 90.2ZM349.4 90.2 348.9 90.0 348.4 89.2 347.6 86.2 347.1 81.2 346.9 75.2 347.0 68.2 347.5 62.2 348.3 58.2 348.6 57.3 349.1 56.9 349.6 57.4 349.9 58.1 350.6 62.7 351.3 78.2 351.2 83.2 350.9 86.6 350.3 89.2 349.9 89.9 349.4 90.2ZM166.4 81.9 165.9 81.9 165.7 81.5 165.0 79.2 164.5 75.7 164.4 71.2 164.5 66.7 164.9 62.4 165.4 60.1 166.2 58.9 166.6 59.2 166.9 59.8 167.4 61.8 168.0 69.7 167.7 77.7 167.2 80.4 166.4 81.9ZM270.9 81.7 270.6 82.0 270.1 81.8 269.4 79.8 268.9 76.7 268.7 72.2 268.8 67.2 269.1 62.8 269.6 60.2 270.4 58.9 270.9 59.2 271.1 59.7 271.6 61.5 272.3 69.2 272.0 77.2 271.5 80.2 270.9 81.7ZM280.4 100.8 280.1 100.9 279.6 100.4 278.9 97.7 278.4 93.7 278.2 88.2 278.4 81.7 278.9 76.7 279.6 73.2 280.4 72.3 281.0 73.2 281.5 75.7 281.9 86.7 281.4 97.2 280.9 99.9 280.4 100.8ZM234.9 97.3 234.7 97.6 234.2 97.5 233.4 95.2 232.9 91.2 232.7 85.7 232.9 80.7 233.4 76.2 234.2 73.4 234.9 72.8 235.7 74.0 236.1 76.2 236.5 82.7 236.0 91.7 235.4 95.7 234.9 97.3ZM42.1 131.9 41.6 132.0 40.9 130.8 39.6 125.3 38.6 116.2 38.2 106.7 38.5 96.2 39.4 85.2 40.4 79.2 40.9 77.8 41.6 77.1 42.4 77.9 42.9 79.2 43.9 84.7 44.6 93.2 44.9 104.2 44.8 114.2 44.2 122.7 43.4 128.7 42.8 130.7 42.1 131.9ZM395.1 132.0 394.6 132.0 394.4 131.8 393.9 130.8 392.8 125.2 392.1 117.2 391.8 106.7 392.1 95.2 392.8 85.2 393.9 78.9 394.4 77.7 395.1 77.1 395.9 78.0 396.4 79.6 397.3 85.2 398.2 96.2 398.5 105.7 398.2 114.2 397.4 122.7 396.4 128.7 395.9 130.5 395.1 132.0ZM110.4 113.3 109.9 113.2 109.4 112.6 108.7 110.4 108.3 107.2 108.2 102.7 108.4 93.7 109.0 85.2 109.7 81.2 110.2 80.0 110.7 79.7 111.2 80.3 111.7 81.6 112.4 85.7 112.9 91.7 113.0 98.7 112.8 104.7 112.3 109.2 111.4 112.2 110.9 112.9 110.4 113.3ZM326.6 113.3 325.9 113.0 325.4 112.4 324.5 109.7 324.0 105.7 323.7 99.7 323.8 92.2 324.3 85.7 325.1 81.3 325.6 80.1 326.1 79.7 326.9 80.7 327.6 84.9 328.2 91.7 328.5 101.2 328.5 106.2 328.2 109.7 327.5 112.2 326.6 113.3ZM189.4 105.3 188.9 105.4 188.4 104.8 187.7 102.7 187.2 99.2 187.0 94.2 187.1 89.2 187.7 84.8 188.4 82.1 189.2 81.4 189.9 82.3 190.5 84.7 191.1 92.2 190.7 101.2 190.2 103.7 189.4 105.3ZM247.9 105.3 247.4 105.3 247.2 105.1 246.3 102.7 245.8 99.2 245.6 93.7 245.7 89.2 246.2 84.9 246.9 82.1 247.7 81.4 248.4 82.3 249.0 84.7 249.5 88.7 249.7 93.2 249.3 101.2 248.7 104.0 247.9 105.3ZM65.4 157.3 64.9 157.2 64.7 156.7 63.6 152.1 61.2 133.2 60.8 126.7 61.1 120.2 62.9 104.0 63.9 98.9 64.4 97.9 64.9 97.7 65.7 98.7 66.2 100.1 67.1 105.7 67.8 114.2 68.1 124.7 67.9 135.7 67.3 147.2 66.4 154.5 65.9 156.5 65.4 157.3ZM371.6 157.3 371.1 157.2 370.4 155.2 369.5 148.7 368.8 137.7 368.6 126.2 368.9 114.2 369.6 105.7 370.6 99.8 371.1 98.5 371.9 97.7 372.4 98.1 372.9 99.2 373.8 103.7 375.5 119.7 375.9 126.2 375.5 132.7 373.4 149.7 372.4 155.5 371.6 157.3ZM257.1 125.8 256.8 125.7 256.4 125.0 255.7 121.7 255.4 117.7 255.3 112.2 255.5 107.2 256.0 103.2 256.6 100.5 257.1 99.9 257.4 99.8 257.9 100.6 258.4 103.3 258.7 111.7 258.2 122.2 257.6 125.1 257.1 125.8ZM133.7 136.4 133.2 136.5 132.7 136.3 131.8 134.2 131.4 131.2 131.2 126.2 131.4 117.2 131.9 108.7 132.7 104.4 133.2 103.4 133.7 103.2 134.2 103.7 134.7 104.9 135.4 108.6 136.0 114.7 136.1 121.2 136.0 126.7 135.5 131.2 134.7 134.7 133.7 136.4ZM303.9 136.4 303.4 136.5 302.6 136.0 301.6 133.6 300.9 129.2 300.6 123.7 300.7 116.2 301.2 109.2 302.1 104.7 302.6 103.5 303.1 103.1 303.9 104.0 304.6 107.6 305.4 121.2 305.5 127.7 305.2 132.2 304.7 135.2 303.9 136.4ZM211.9 128.8 211.4 128.8 211.0 128.2 210.2 125.7 209.8 122.2 209.6 117.2 209.8 112.2 210.3 108.2 211.0 105.7 211.4 104.9 211.9 104.5 212.7 105.0 213.5 107.2 213.9 110.2 214.0 114.2 213.4 123.7 212.7 127.3 211.9 128.8ZM225.2 128.8 224.4 128.2 223.7 125.6 223.0 120.7 222.7 115.2 222.7 111.2 223.1 107.7 223.9 105.2 224.7 104.5 225.2 104.7 225.7 105.5 226.3 107.7 226.8 111.2 227.1 115.7 227.0 120.7 226.7 124.7 225.9 127.7 225.2 128.8ZM88.4 175.8 88.2 175.9 87.7 175.3 86.7 171.3 84.0 154.2 83.5 148.2 83.8 141.7 85.9 123.6 86.9 119.1 87.4 118.2 87.9 118.0 88.6 118.7 89.2 120.0 90.2 125.2 90.9 132.7 91.2 141.7 91.0 153.2 90.3 165.2 89.4 172.8 88.9 174.9 88.4 175.8ZM348.6 175.9 348.1 175.6 347.5 173.7 346.5 166.7 345.7 154.7 345.5 142.7 345.8 132.7 346.5 125.2 347.6 119.7 348.1 118.6 348.9 118.0 349.4 118.4 349.9 119.4 350.9 124.2 352.8 140.7 353.2 147.7 352.8 153.7 350.4 169.3 349.4 174.3 348.6 175.9ZM280.9 160.7 280.4 161.0 279.6 160.6 278.6 158.2 277.8 153.7 277.5 147.7 277.6 140.7 278.1 134.2 279.0 129.7 279.6 128.3 280.1 127.9 280.9 128.4 281.6 131.2 282.3 141.2 282.1 155.2 281.6 159.0 280.9 160.7ZM234.2 153.2 233.7 153.0 233.4 152.5 232.7 149.7 232.3 146.2 232.1 141.7 232.3 137.7 232.7 133.7 233.4 130.9 234.2 129.9 234.7 130.2 234.9 130.7 235.4 132.7 236.0 140.2 235.8 145.2 235.4 149.4 234.9 151.9 234.2 153.2ZM111.4 193.2 110.9 193.3 110.4 192.5 109.4 189.1 106.8 176.7 106.2 171.2 106.5 165.7 108.9 144.7 109.9 140.2 110.4 139.4 110.9 139.2 111.7 139.8 112.2 141.2 113.3 146.2 114.0 153.7 114.3 162.7 114.2 172.7 113.6 182.2 112.5 189.7 111.9 192.2 111.4 193.2ZM325.9 193.2 325.6 193.4 325.3 193.2 324.6 191.8 323.5 185.2 322.6 175.2 322.4 164.7 322.6 155.2 323.3 146.7 324.5 141.2 325.1 139.7 325.9 139.2 326.4 139.5 326.9 140.5 327.9 145.0 330.2 166.2 330.5 170.7 330.2 174.7 329.3 179.7 327.1 189.8 326.4 192.3 325.9 193.2ZM156.7 148.6 156.4 146.2 156.7 143.3 157.0 145.7 156.9 147.7 156.7 148.6ZM256.9 180.3 256.4 179.9 255.9 178.8 255.2 175.7 254.7 170.7 254.7 165.2 255.0 160.2 255.7 156.4 256.6 153.9 257.1 153.4 257.6 153.2 258.1 153.5 258.6 154.2 259.3 156.2 259.6 159.7 259.6 164.2 259.3 169.7 258.6 175.2 257.9 178.8 257.4 179.9 256.9 180.3ZM134.2 212.2 133.7 212.1 133.2 211.5 131.9 208.4 129.8 201.2 129.1 196.7 131.9 165.2 132.7 161.5 133.2 160.4 133.7 160.1 134.4 160.5 135.0 161.7 136.2 166.7 137.0 175.2 137.4 185.2 137.2 195.7 136.6 203.7 135.5 209.7 134.9 211.3 134.2 212.2ZM302.6 212.2 301.9 211.5 301.4 210.2 300.2 204.2 299.5 196.2 299.3 185.7 299.7 175.2 300.4 167.2 301.5 162.2 302.1 160.7 302.9 160.1 303.6 160.6 304.1 161.7 304.9 166.0 307.6 196.7 307.1 200.7 305.1 207.4 303.6 211.3 303.1 212.0 302.6 212.2ZM179.7 167.7 179.4 167.2 179.4 165.0 179.7 165.7 179.7 167.7ZM279.9 208.3 279.4 208.4 278.9 207.6 278.1 204.7 277.5 199.7 277.4 193.7 277.6 189.2 278.3 185.2 279.2 182.7 279.9 181.9 280.4 181.8 281.1 182.4 281.7 184.2 282.1 191.2 281.4 201.8 280.6 206.5 279.9 208.3ZM157.2 206.3 156.7 206.0 156.4 205.4 155.9 203.1 155.4 199.2 155.1 193.7 155.2 186.7 155.7 184.7 156.4 183.7 157.2 184.2 158.0 186.2 158.6 189.2 158.9 193.2 158.9 197.7 158.5 201.7 157.9 205.0 157.2 206.3Z"/>
<path fill="#ff0000" fill-opacity="0.349" fill-rule="evenodd" d="M41.6 43.8 41.1 43.5 40.9 42.8 40.5 40.7 40.0 32.7 40.3 22.2 41.4 22.0 43.0 22.2 43.2 28.7 42.8 39.2 42.4 42.2 41.6 43.8ZM87.4 23.8 87.2 23.6 86.7 22.2 88.1 22.2 87.7 23.6 87.4 23.8ZM120.7 31.2 120.4 31.5 120.2 31.2 119.7 27.7 119.8 22.2 120.2 22.2 121.1 22.2 121.1 23.2 121.1 27.7 120.7 31.2ZM234.9 38.1 234.7 38.1 234.4 37.5 234.0 35.7 233.7 29.2 234.2 22.5 234.2 22.2 234.9 22.2 235.5 22.2 235.6 22.7 235.9 28.2 235.7 34.8 235.4 36.7 234.9 38.1ZM280.9 40.9 280.6 41.1 280.4 41.0 279.8 39.2 279.4 35.8 279.2 31.7 279.3 26.7 279.7 22.2 280.6 22.1 281.5 22.2 281.9 29.2 281.7 37.2 281.4 39.5 280.9 40.9ZM316.4 31.4 316.1 31.4 315.9 30.7 315.5 26.7 315.6 22.2 316.1 22.2 316.9 22.2 317.0 24.2 316.9 29.2 316.4 31.4ZM349.4 23.8 348.9 23.3 348.6 22.2 350.0 22.2 349.4 23.8ZM395.4 43.7 394.9 43.7 394.6 43.3 394.1 41.4 393.5 33.2 393.7 22.2 394.9 22.0 396.4 22.2 396.7 27.2 396.5 38.2 396.1 41.7 395.4 43.7ZM110.4 47.8 109.9 47.2 109.4 44.4 109.1 36.2 109.4 28.0 109.9 25.3 110.4 24.9 110.9 25.9 111.4 28.9 111.8 37.2 111.4 44.6 110.9 47.1 110.4 47.8ZM326.4 47.8 325.9 47.3 325.4 45.2 324.9 37.2 325.4 28.2 325.9 25.6 326.4 24.9 326.9 25.6 327.3 28.2 327.6 36.2 327.3 44.2 326.9 46.9 326.4 47.8ZM189.4 44.4 189.2 44.6 188.9 44.5 188.4 43.1 187.8 36.7 188.2 29.4 188.7 26.7 189.2 26.1 189.7 27.0 189.9 28.2 190.4 34.7 190.1 40.7 189.4 44.4ZM247.9 44.4 247.7 44.6 247.4 44.5 246.9 43.1 246.3 36.2 246.7 29.2 247.2 26.7 247.7 26.1 248.2 27.0 248.4 28.2 248.9 34.7 248.6 40.7 247.9 44.4ZM64.9 65.3 64.7 65.6 64.2 65.5 63.5 63.7 63.0 60.2 62.9 55.7 63.0 48.2 63.4 41.5 63.9 38.2 64.2 37.4 64.7 37.0 65.3 38.7 65.8 41.7 66.3 51.2 66.0 60.2 65.5 63.7 64.9 65.3ZM372.6 65.3 372.4 65.6 371.9 65.4 371.1 63.2 370.6 59.3 370.4 54.2 370.5 47.7 370.8 42.2 371.4 38.5 371.6 37.7 372.1 37.0 372.6 37.7 373.2 40.2 373.8 51.7 373.6 60.7 373.2 63.7 372.6 65.3ZM257.9 67.5 257.4 67.5 256.8 65.7 256.2 58.7 256.6 50.2 257.1 47.2 257.6 46.4 258.1 46.9 258.6 49.2 259.0 55.7 258.8 63.7 258.4 66.2 257.9 67.5ZM133.7 72.9 133.4 73.0 133.1 72.7 132.5 70.7 132.0 62.2 132.4 52.2 132.9 49.7 133.4 49.4 133.9 50.3 134.4 52.7 134.9 60.7 134.6 68.7 134.2 71.7 133.7 72.9ZM303.6 72.7 303.4 73.0 302.9 72.7 302.4 71.0 301.9 67.2 301.8 62.7 302.2 53.7 302.6 50.8 303.4 49.3 303.9 50.0 304.3 52.2 304.7 59.2 304.4 68.7 304.1 71.0 303.6 72.7ZM212.2 69.4 211.7 69.3 211.1 67.7 210.5 60.7 210.9 53.6 211.4 51.1 211.9 50.3 212.4 50.6 212.9 52.4 213.4 58.7 213.1 65.7 212.7 68.3 212.2 69.4ZM224.9 69.5 224.4 69.3 223.9 67.6 223.3 60.2 223.7 53.5 224.2 51.0 224.7 50.2 225.2 50.7 225.7 52.6 226.2 59.2 225.8 66.2 225.4 68.6 224.9 69.5ZM87.7 87.8 87.2 87.8 86.9 87.6 86.3 85.7 85.9 82.7 85.7 78.2 86.2 65.4 86.7 61.3 87.4 59.3 87.9 59.6 88.2 60.1 88.8 63.2 89.2 67.7 89.4 73.2 89.3 78.7 89.0 83.2 88.4 86.2 87.7 87.8ZM349.6 87.7 349.1 87.8 348.9 87.6 348.1 85.2 347.5 81.2 347.3 76.2 347.4 70.2 347.7 64.7 348.4 60.6 349.1 59.3 349.6 59.8 349.9 60.6 350.4 63.7 351.0 74.7 350.8 83.7 350.3 86.2 349.6 87.7ZM166.4 78.4 165.9 78.3 165.4 76.8 164.9 71.2 165.2 65.2 165.7 63.1 166.2 62.3 166.7 62.8 167.0 64.2 167.5 69.7 167.2 75.7 166.9 77.3 166.4 78.4ZM270.6 78.5 270.1 78.2 269.6 76.5 269.2 71.2 269.5 65.2 269.9 63.2 270.4 62.3 270.9 62.7 271.3 64.2 271.8 69.7 271.5 75.7 271.1 77.5 270.6 78.5ZM280.4 98.4 279.9 98.2 279.6 97.7 279.1 95.6 278.7 87.7 279.2 78.7 279.6 76.1 280.0 75.2 280.4 74.8 280.9 75.5 281.3 78.2 281.6 86.7 281.3 94.7 280.9 97.4 280.4 98.4ZM234.7 94.8 234.2 94.4 233.6 92.2 233.2 84.7 233.7 78.2 234.2 76.2 234.7 75.5 234.9 75.5 235.4 76.2 235.9 78.6 236.2 84.2 235.7 91.6 235.2 93.9 234.7 94.8ZM41.9 129.3 41.4 129.1 41.1 128.7 40.6 127.5 39.6 122.6 38.8 114.7 38.5 106.2 38.8 96.7 39.6 86.7 40.5 81.2 41.1 79.6 41.6 79.3 42.1 79.7 42.7 81.2 43.6 86.5 44.3 94.7 44.5 104.7 44.4 114.2 43.9 121.7 42.9 127.2 42.4 128.7 41.9 129.3ZM395.1 129.2 394.7 129.2 394.4 128.8 393.9 127.7 393.0 123.2 392.4 115.7 392.2 106.2 392.4 95.7 393.0 86.7 393.9 81.4 394.4 80.0 395.1 79.3 395.6 79.7 396.1 81.0 397.1 86.7 397.9 95.7 398.2 105.2 397.9 113.2 397.2 121.2 396.1 127.2 395.6 128.6 395.1 129.2ZM110.4 111.3 109.7 110.8 108.9 108.7 108.6 105.7 108.5 101.7 108.6 93.7 109.1 87.2 109.7 83.6 110.4 82.0 110.9 82.2 111.2 82.7 112.0 86.2 112.5 91.7 112.6 97.7 112.5 103.2 112.0 107.2 111.4 109.8 110.9 110.8 110.4 111.3ZM326.6 111.2 326.1 111.2 325.6 110.6 324.9 108.4 324.4 104.7 324.1 99.2 324.2 92.7 324.6 87.2 325.4 83.2 326.1 81.9 326.6 82.4 326.9 83.0 327.4 85.7 327.9 91.2 328.2 99.2 327.9 107.7 327.4 110.1 326.6 111.2ZM189.2 102.3 188.5 101.7 188.0 99.7 187.5 93.2 188.1 86.7 188.7 84.8 189.2 84.4 189.7 85.0 190.2 86.9 190.6 93.2 190.2 99.8 189.7 101.7 189.2 102.3ZM247.7 102.3 247.1 101.7 246.5 99.7 246.1 93.2 246.6 86.7 247.2 84.8 247.7 84.4 248.2 85.0 248.7 86.8 249.2 93.2 248.7 99.7 248.2 101.7 247.7 102.3ZM65.4 154.3 64.9 154.4 64.4 153.4 63.4 148.3 61.6 133.7 61.2 127.2 61.5 119.7 62.7 107.2 63.6 101.8 64.2 100.3 64.7 99.8 65.2 100.0 65.7 101.2 66.7 106.2 67.4 113.7 67.7 123.2 67.6 133.2 67.2 143.2 66.4 150.6 65.9 153.0 65.4 154.3ZM371.9 154.3 371.4 154.4 370.9 153.4 369.9 147.4 369.2 138.2 369.0 126.7 369.2 116.2 369.8 107.7 370.7 102.2 371.4 100.2 371.9 99.8 372.4 100.1 372.9 101.2 373.8 106.2 375.2 119.2 375.6 126.2 375.2 132.7 373.9 144.0 372.9 150.8 371.9 154.3ZM257.1 122.8 256.6 122.2 256.1 119.7 255.8 111.7 256.4 104.7 256.9 103.0 257.4 102.6 257.9 103.6 258.1 105.1 258.4 112.2 258.1 119.7 257.6 122.1 257.1 122.8ZM133.7 134.3 132.9 134.3 132.1 132.7 131.7 129.7 131.5 125.2 131.6 117.2 132.1 110.7 132.7 106.8 133.4 105.4 133.9 105.6 134.2 106.1 134.9 109.2 135.5 114.2 135.7 120.2 135.6 125.7 135.2 129.7 134.5 132.7 133.7 134.3ZM303.9 134.3 303.4 134.5 302.9 134.2 301.9 131.8 301.3 128.2 301.0 123.2 301.1 116.7 301.5 110.7 302.3 106.7 302.6 105.9 303.1 105.3 303.6 105.7 303.9 106.3 304.4 108.6 305.2 119.7 305.0 129.7 304.6 132.5 303.9 134.3ZM212.2 125.9 211.9 126.1 211.4 125.9 210.9 124.7 210.4 121.7 210.1 117.7 210.2 113.7 210.7 110.2 211.2 108.2 211.9 107.2 212.6 107.7 213.1 109.2 213.6 114.7 213.2 121.9 212.7 124.6 212.2 125.9ZM225.4 125.8 224.9 126.2 224.7 126.0 224.1 124.7 223.5 121.7 223.2 117.2 223.4 110.4 223.9 108.2 224.7 107.2 225.4 107.9 225.9 109.5 226.5 115.2 226.3 121.7 225.9 124.5 225.4 125.8ZM88.4 172.9 87.9 173.1 87.4 172.3 86.4 168.1 84.3 154.2 83.8 148.2 84.2 140.7 85.7 127.0 86.7 121.6 87.2 120.3 87.7 119.8 88.3 120.2 88.9 121.4 89.9 125.7 90.5 132.2 90.9 140.7 90.8 151.2 90.2 161.7 89.4 169.0 88.9 171.5 88.4 172.9ZM348.9 173.0 348.4 173.0 347.9 171.9 346.9 165.7 346.1 154.2 345.8 143.7 346.0 134.2 346.6 127.2 347.6 121.9 348.1 120.6 348.9 119.8 349.4 120.1 349.9 121.1 350.9 126.0 352.5 140.2 352.9 147.2 352.5 153.2 350.9 164.4 349.9 170.1 348.9 173.0ZM280.4 159.2 279.9 159.0 279.4 158.3 278.6 155.7 278.1 151.7 277.9 146.2 278.1 140.2 278.5 135.2 279.3 131.7 279.6 130.7 280.1 130.2 280.6 130.4 280.9 130.8 281.6 134.2 282.1 145.2 282.1 151.7 281.8 155.7 281.1 158.4 280.4 159.2ZM234.2 150.7 233.7 150.2 233.1 147.7 232.7 140.7 233.3 134.7 233.9 132.8 234.4 132.5 234.9 133.3 235.4 135.7 235.7 141.7 235.2 148.3 234.7 150.2 234.2 150.7ZM111.4 190.8 110.9 191.2 110.4 190.7 109.4 187.7 107.2 177.2 106.5 171.2 106.8 165.2 108.7 147.7 109.7 142.5 110.2 141.3 110.7 140.9 111.3 141.2 111.9 142.3 112.9 146.7 113.6 153.2 114.0 161.7 113.9 171.7 113.4 180.2 112.4 187.4 111.4 190.8ZM326.1 190.9 325.6 191.1 325.4 190.9 324.9 189.9 323.8 184.2 323.0 175.7 322.7 165.7 322.9 156.2 323.5 148.2 324.6 142.7 325.1 141.5 325.9 140.8 326.4 141.1 326.9 142.0 327.9 146.6 329.7 163.7 330.2 170.2 330.0 174.2 329.1 179.7 327.1 188.3 326.1 190.9ZM257.1 178.3 256.8 178.2 256.4 177.7 255.7 175.0 255.2 170.7 255.1 166.2 255.3 161.7 255.9 158.0 256.6 155.8 257.1 155.2 257.6 155.0 258.4 155.7 259.0 157.7 259.3 160.7 259.3 164.7 259.1 169.2 258.5 174.2 257.9 177.0 257.1 178.3ZM134.2 210.7 133.7 210.8 132.9 210.0 131.7 206.8 129.9 200.7 129.4 196.2 131.9 167.0 132.7 163.1 133.2 162.0 133.7 161.7 134.3 162.2 134.9 163.3 136.0 168.2 136.7 175.7 137.1 185.2 136.9 194.7 136.4 202.2 135.4 207.9 134.8 209.7 134.2 210.7ZM303.1 210.7 302.4 210.6 301.9 209.7 301.1 207.3 300.6 204.2 299.8 196.2 299.6 186.7 300.0 176.2 300.7 168.2 301.9 163.1 302.4 162.1 303.1 161.7 303.6 162.2 304.1 163.4 304.9 167.8 307.3 196.2 307.0 199.7 306.0 203.7 304.4 208.7 303.6 210.2 303.1 210.7ZM280.1 206.2 279.6 206.6 279.3 206.2 278.5 203.7 277.9 199.2 277.8 194.2 278.0 189.7 278.6 186.2 279.4 184.1 279.9 183.5 280.4 183.3 281.1 184.2 281.5 185.7 281.9 191.7 281.4 200.2 280.9 203.6 280.1 206.2ZM157.2 203.8 156.7 203.7 156.2 202.3 155.7 199.1 155.3 194.7 155.4 188.7 155.9 186.4 156.4 185.7 157.2 186.3 157.7 187.7 158.4 193.2 158.2 200.2 157.7 202.8 157.2 203.8Z"/>
<path fill="#ff0000" fill-opacity="0.536" fill-rule="evenodd" d="M41.9 40.7 41.6 41.0 41.4 41.0 40.9 39.7 40.3 33.2 40.6 22.2 41.4 22.1 42.6 22.2 42.8 27.2 42.7 35.7 42.4 38.6 41.9 40.7ZM395.4 40.9 395.1 41.1 394.9 40.9 394.4 39.2 393.8 31.2 394.1 22.2 395.1 22.1 396.1 22.2 396.4 28.7 396.1 37.1 395.9 39.2 395.4 40.9ZM280.9 37.8 280.6 38.0 280.4 37.8 280.1 37.0 279.7 31.2 279.9 25.3 280.1 23.6 280.6 22.4 281.2 24.2 281.6 29.2 281.4 35.1 280.9 37.8ZM234.9 33.4 234.7 33.2 234.5 32.2 234.3 29.2 234.4 26.2 234.7 24.9 234.9 24.6 235.2 25.7 235.4 28.7 235.2 32.2 234.9 33.4ZM110.4 44.9 109.9 44.0 109.7 42.5 109.4 36.2 109.7 30.0 109.9 28.6 110.2 27.9 110.4 27.9 110.9 29.2 111.1 31.2 111.4 36.7 111.1 42.2 110.9 43.7 110.4 44.9ZM326.4 44.9 325.9 44.1 325.6 42.8 325.3 36.7 325.6 30.5 325.9 28.9 326.4 27.9 326.9 29.0 327.1 30.7 327.3 36.2 327.1 41.7 326.9 43.6 326.4 44.9ZM189.2 40.5 188.9 40.3 188.7 39.3 188.4 35.2 188.7 31.3 188.9 30.3 189.2 30.0 189.7 32.0 189.8 35.2 189.7 38.6 189.2 40.5ZM247.7 40.5 247.4 40.3 247.2 39.3 246.9 35.2 247.2 31.3 247.4 30.3 247.7 30.0 248.2 32.0 248.3 35.2 248.2 38.6 247.7 40.5ZM64.7 62.9 64.2 62.8 63.6 60.7 63.2 53.2 63.6 42.7 64.2 40.1 64.4 39.7 64.7 39.7 65.2 40.9 65.6 43.7 65.9 51.7 65.6 59.2 65.2 61.8 64.7 62.9ZM372.4 63.0 372.1 63.0 371.7 62.2 371.2 60.2 370.8 52.7 371.1 43.5 371.6 40.5 372.1 39.6 372.6 40.4 373.1 43.2 373.5 51.7 373.3 59.2 372.9 61.9 372.4 63.0ZM257.9 64.3 257.6 64.4 257.4 64.1 257.1 63.3 256.7 58.7 256.9 52.7 257.1 50.9 257.6 49.6 257.9 49.7 258.3 51.2 258.6 55.7 258.5 61.2 257.9 64.3ZM133.4 70.3 132.9 69.6 132.6 68.2 132.3 60.7 132.7 53.9 132.9 52.7 133.2 52.2 133.4 52.2 133.9 53.5 134.2 55.2 134.5 61.7 134.2 68.1 133.9 69.4 133.4 70.3ZM303.4 70.3 302.9 69.7 302.6 68.2 302.2 61.7 302.5 55.2 302.9 53.1 303.4 52.1 303.9 53.0 304.1 54.6 304.4 60.7 304.1 67.5 303.9 69.2 303.4 70.3ZM212.2 65.8 211.9 65.9 211.7 65.5 211.4 64.6 211.1 60.7 211.3 56.2 211.9 53.8 212.2 53.8 212.6 55.2 212.9 58.7 212.7 63.7 212.2 65.8ZM224.9 65.8 224.7 65.9 224.4 65.5 224.2 64.4 223.8 60.7 224.0 56.2 224.2 54.7 224.7 53.7 224.9 53.9 225.3 55.2 225.6 59.2 225.4 63.7 224.9 65.8ZM87.7 85.3 87.2 85.3 86.9 85.0 86.4 83.2 86.0 76.7 86.4 66.2 86.9 62.8 87.4 61.8 87.9 62.2 88.5 64.7 89.0 73.2 88.7 81.2 88.2 84.2 87.7 85.3ZM349.6 85.2 349.4 85.4 348.9 85.1 348.4 83.6 347.9 80.2 347.7 75.7 348.0 66.2 348.5 63.2 349.1 61.8 349.6 62.3 350.1 64.8 350.7 73.2 350.5 81.2 350.1 83.9 349.6 85.2ZM166.2 73.4 165.9 72.7 165.7 70.2 165.8 68.2 166.2 67.2 166.6 68.2 166.7 70.2 166.6 72.2 166.4 73.1 166.2 73.4ZM270.6 73.2 270.4 73.3 270.2 72.7 270.0 71.2 270.1 68.7 270.4 67.2 270.6 67.3 271.0 69.2 270.9 71.7 270.6 73.2ZM280.4 95.7 279.9 95.3 279.5 93.7 279.1 87.7 279.5 80.7 279.9 78.5 280.4 77.7 280.9 78.8 281.1 80.7 281.4 86.7 281.1 92.5 280.9 94.4 280.4 95.7ZM234.9 91.3 234.7 91.5 234.4 91.3 234.2 90.6 233.7 85.2 234.1 80.2 234.4 79.1 234.9 78.6 235.5 80.2 235.7 84.2 235.4 89.2 234.9 91.3ZM41.9 126.8 41.4 126.7 40.9 125.9 39.9 121.6 39.1 114.2 38.8 106.2 39.0 97.2 39.8 88.2 40.6 82.9 41.1 81.7 41.6 81.4 42.1 81.9 42.6 83.3 43.4 87.7 44.0 95.2 44.2 104.2 44.1 112.7 43.6 119.7 42.9 124.5 42.4 126.1 41.9 126.8ZM395.1 126.8 394.6 126.6 394.1 125.7 393.2 121.2 392.7 114.7 392.5 105.7 392.7 96.2 393.2 88.2 394.1 82.9 394.6 81.7 395.1 81.4 395.6 81.9 396.1 83.3 397.0 88.2 397.6 96.2 397.9 105.2 397.7 112.7 397.1 119.7 396.1 124.8 395.6 126.2 395.1 126.8ZM110.4 109.2 109.9 109.0 109.7 108.6 109.2 106.9 108.7 100.2 109.2 89.2 109.7 86.0 110.4 84.2 110.9 84.6 111.2 85.2 111.7 87.7 112.1 92.2 112.3 97.2 112.1 101.7 111.7 105.7 111.2 108.2 110.4 109.2ZM326.4 109.2 325.6 108.4 325.0 106.2 324.6 102.7 324.4 98.2 324.5 93.2 324.9 88.6 325.4 85.7 326.1 84.2 326.6 84.6 326.9 85.4 327.4 88.3 328.0 98.7 327.6 106.2 327.1 108.4 326.4 109.2ZM247.7 98.4 247.2 97.7 247.0 96.7 246.7 93.2 247.0 89.7 247.4 88.3 247.7 88.2 248.2 89.7 248.5 93.2 248.3 96.7 247.7 98.4ZM189.2 98.4 188.7 97.7 188.4 96.7 188.2 93.2 188.5 89.7 188.9 88.3 189.2 88.2 189.7 89.7 190.0 93.2 189.7 96.7 189.2 98.4ZM64.9 151.7 64.2 150.1 63.1 144.6 61.8 133.2 61.5 126.7 61.8 119.2 62.9 108.1 63.6 103.7 64.2 102.2 64.7 101.7 65.2 102.0 65.7 103.2 66.6 108.2 67.2 116.2 67.4 125.2 67.2 135.2 66.7 144.2 65.9 149.8 65.4 151.4 64.9 151.7ZM371.6 151.7 371.1 151.0 370.7 149.2 369.9 143.2 369.5 134.7 369.3 125.2 369.5 116.2 370.1 108.7 370.9 103.7 371.4 102.3 371.9 101.7 372.4 102.0 372.9 103.2 373.7 107.2 374.9 118.2 375.2 126.2 374.9 132.7 373.6 143.9 372.6 149.8 372.1 151.3 371.6 151.7ZM257.4 118.9 257.1 119.1 256.9 118.6 256.6 117.4 256.4 112.2 256.6 108.0 256.9 106.7 257.1 106.1 257.4 106.0 257.9 107.9 258.0 111.2 257.9 115.7 257.4 118.9ZM133.4 132.4 132.9 132.2 132.7 131.8 132.2 130.0 131.8 122.7 132.3 111.7 132.8 108.7 133.4 107.6 133.9 108.0 134.2 108.6 134.7 111.2 135.2 115.7 135.3 120.7 134.8 128.7 134.2 131.4 133.4 132.4ZM303.6 132.3 303.4 132.4 302.9 132.0 302.1 130.1 301.6 126.7 301.4 122.2 301.5 117.2 301.9 112.2 302.4 109.1 303.1 107.6 303.7 108.2 304.3 110.7 304.9 120.2 304.7 128.7 304.3 131.2 303.6 132.3ZM212.2 122.8 211.9 123.0 211.7 123.0 211.2 121.7 210.7 117.7 211.0 112.7 211.4 111.1 211.9 110.3 212.4 110.7 212.7 111.4 213.1 115.2 212.9 119.3 212.2 122.8ZM225.2 122.9 224.9 123.1 224.7 122.9 224.2 121.6 223.7 117.2 223.9 112.2 224.2 111.1 224.7 110.3 225.2 110.7 225.4 111.4 226.0 115.7 225.8 120.2 225.2 122.9ZM88.2 170.5 87.7 170.5 87.2 169.5 86.2 164.9 84.6 154.2 84.1 147.7 84.5 140.2 85.7 128.8 86.7 123.3 87.2 122.0 87.7 121.5 88.2 121.8 88.7 122.7 89.7 127.2 90.3 133.2 90.6 141.7 90.4 151.2 89.8 161.2 89.1 167.2 88.7 169.4 88.2 170.5ZM349.1 170.4 348.6 170.6 348.1 169.7 347.2 164.7 346.4 154.7 346.1 144.7 346.3 135.7 346.8 128.7 347.7 123.7 348.4 122.0 348.9 121.5 349.4 121.8 349.9 122.8 350.9 127.7 352.1 138.7 352.6 146.7 352.4 151.7 351.7 157.7 350.1 167.1 349.1 170.4ZM280.6 157.3 280.4 157.4 279.9 157.1 279.1 155.2 278.6 151.7 278.4 147.2 278.4 142.2 278.8 137.2 279.4 134.0 280.1 132.6 280.6 132.9 280.9 133.4 281.4 135.7 281.9 143.7 281.6 153.4 281.2 156.2 280.6 157.3ZM234.4 147.9 234.2 147.9 233.9 147.5 233.6 146.7 233.2 141.7 233.6 137.2 233.9 135.8 234.4 135.3 234.9 136.3 235.2 137.7 235.3 141.2 235.0 145.7 234.4 147.9ZM110.9 189.2 110.4 189.0 109.9 188.0 108.7 183.4 107.3 176.2 106.8 170.7 107.2 163.2 108.7 149.2 109.7 144.0 110.2 142.8 110.7 142.4 111.2 142.6 111.8 143.7 112.8 148.2 113.5 155.2 113.7 163.7 113.6 172.7 113.0 180.7 111.9 187.1 111.4 188.6 110.9 189.2ZM325.9 189.2 325.4 188.8 324.9 187.5 323.8 181.2 323.2 173.7 323.0 164.7 323.2 156.2 323.8 149.2 324.8 144.2 325.4 142.8 325.9 142.4 326.4 142.6 326.9 143.5 327.9 148.1 329.4 162.7 329.9 170.2 329.6 175.2 328.4 181.8 326.9 187.7 326.4 188.8 325.9 189.2ZM257.4 176.3 256.9 176.3 256.6 176.0 256.1 174.2 255.6 170.7 255.5 166.7 255.7 162.7 256.1 159.6 256.9 157.4 257.6 156.8 258.4 157.7 258.8 159.2 259.1 164.7 258.5 172.2 257.9 175.3 257.4 176.3ZM134.2 209.3 133.7 209.6 132.9 208.9 131.7 206.0 130.2 200.7 129.7 196.2 130.0 190.7 131.9 168.7 132.7 164.7 133.2 163.5 133.7 163.2 134.2 163.5 134.7 164.7 135.7 169.2 136.4 176.2 136.8 185.2 136.7 194.2 136.2 201.2 135.2 206.7 134.2 209.3ZM303.4 209.4 302.6 209.4 302.1 208.7 301.5 206.7 300.9 203.9 300.2 197.2 299.9 187.7 300.1 178.7 300.8 170.2 301.9 164.9 302.4 163.7 303.1 163.2 303.6 163.7 304.1 165.0 304.9 169.5 307.0 195.7 306.8 199.2 306.0 202.7 304.6 207.1 303.4 209.4ZM280.1 204.4 279.9 204.6 279.4 204.3 278.8 202.2 278.3 198.7 278.2 194.2 278.4 190.4 278.9 187.4 279.6 185.4 280.4 184.9 280.9 185.5 281.4 187.4 281.6 192.5 281.1 200.3 280.6 203.1 280.1 204.4ZM156.9 201.4 156.4 200.8 156.1 199.7 155.6 193.7 155.9 189.2 156.2 188.3 156.7 187.9 157.2 188.6 157.5 189.7 157.9 194.2 157.7 199.2 157.4 200.6 156.9 201.4Z"/>
<path fill="#ff0000" fill-opacity="1.000" fill-rule="evenodd" d="M41.6 37.8 41.4 37.7 41.2 37.2 40.9 35.7 40.7 30.7 40.9 23.9 41.1 22.2 41.4 22.2 42.0 22.2 42.1 22.7 42.5 28.2 42.3 34.7 41.6 37.8ZM395.1 37.8 394.8 37.2 394.5 35.2 394.2 29.7 394.5 23.2 394.7 22.2 395.1 22.2 395.6 22.2 395.7 23.2 396.0 30.2 395.8 35.7 395.4 37.5 395.1 37.8ZM280.6 33.2 280.4 32.4 280.3 30.2 280.4 28.0 280.6 27.2 280.9 28.1 281.0 30.2 280.9 32.3 280.6 33.2ZM110.4 40.8 110.2 40.5 109.9 39.2 109.8 36.2 110.0 33.2 110.2 32.2 110.4 32.0 110.7 33.7 110.8 36.7 110.7 39.7 110.4 40.8ZM326.4 40.8 326.0 39.7 325.9 36.7 326.0 33.7 326.4 32.0 326.7 33.2 326.9 36.2 326.7 39.7 326.4 40.8ZM372.4 59.9 372.1 60.0 371.9 59.6 371.6 58.2 371.2 52.2 371.4 45.8 371.6 44.0 372.1 42.7 372.6 43.7 372.9 45.4 373.2 51.2 373.0 57.2 372.4 59.9ZM64.7 59.9 64.4 60.0 64.2 59.6 63.9 58.7 63.5 53.7 63.6 47.2 63.9 44.6 64.4 42.7 64.7 42.7 64.9 43.3 65.2 44.6 65.5 50.7 65.3 56.7 64.7 59.9ZM303.4 66.8 302.9 65.4 302.7 61.2 302.9 57.4 303.4 55.7 303.9 57.5 304.0 61.2 303.9 64.7 303.4 66.8ZM133.4 66.8 133.2 66.6 132.9 65.5 132.7 61.2 132.9 56.7 133.2 55.8 133.4 55.7 133.9 58.2 134.0 61.2 133.9 64.7 133.4 66.8ZM87.4 82.7 86.9 82.0 86.6 80.7 86.3 74.7 86.7 67.6 86.9 65.9 87.4 64.5 87.9 65.1 88.3 67.2 88.6 73.7 88.3 80.2 87.9 81.9 87.4 82.7ZM349.6 82.4 349.4 82.7 349.1 82.6 348.6 81.4 348.1 75.7 348.3 68.2 348.6 65.7 349.1 64.5 349.6 65.2 349.9 66.4 350.4 73.7 350.2 79.2 349.6 82.4ZM280.4 92.2 280.1 92.0 279.9 91.1 279.7 87.2 279.9 83.2 280.4 81.6 280.8 83.2 281.0 86.7 280.8 90.2 280.4 92.2ZM41.9 124.5 41.4 124.5 40.9 123.6 40.0 119.7 39.4 113.2 39.1 105.7 39.3 97.2 39.9 89.8 40.6 85.2 41.1 83.8 41.6 83.4 42.1 84.0 42.5 85.2 43.3 89.7 43.7 96.2 43.9 104.2 43.8 113.2 43.4 118.2 42.7 122.7 41.9 124.5ZM395.4 124.4 394.9 124.5 394.4 123.8 393.6 120.9 393.0 115.2 392.8 108.2 392.9 99.2 393.3 90.7 394.1 85.3 394.6 83.8 395.1 83.4 395.9 84.7 396.7 89.2 397.4 97.7 397.5 103.7 397.5 110.7 397.0 117.2 396.2 122.2 395.4 124.4ZM110.7 106.8 110.2 107.0 109.5 105.7 109.0 100.2 109.4 90.7 109.9 87.6 110.4 86.6 110.9 87.1 111.4 89.3 111.9 96.7 111.6 103.2 111.2 105.6 110.7 106.8ZM326.6 106.9 326.1 106.9 325.9 106.6 325.4 105.0 324.8 98.7 325.1 90.5 325.6 87.6 326.1 86.6 326.6 87.1 327.1 89.4 327.6 96.7 327.5 103.7 327.1 105.8 326.6 106.9ZM65.2 149.0 64.9 149.2 64.4 148.6 63.4 144.1 62.3 135.7 61.8 127.7 61.9 121.2 62.8 110.7 63.6 105.6 64.2 104.1 64.7 103.6 65.2 104.0 65.7 105.4 66.4 110.0 66.9 116.7 67.1 123.7 67.0 132.7 66.7 139.7 65.9 146.2 65.2 149.0ZM372.1 148.9 371.6 149.1 371.1 148.1 370.4 143.6 369.8 135.7 369.6 126.2 369.8 116.7 370.3 109.7 371.1 105.0 371.6 103.9 372.1 103.6 372.6 104.3 373.1 106.1 373.9 111.0 374.7 119.7 374.9 126.2 374.7 132.2 373.9 139.9 372.9 146.4 372.1 148.9ZM133.7 130.0 133.2 130.1 132.5 128.7 132.1 123.2 132.4 114.2 132.9 111.1 133.4 110.2 133.9 110.7 134.4 112.9 134.9 119.7 134.7 126.0 134.2 128.7 133.7 130.0ZM303.6 130.0 303.4 130.2 302.9 129.7 302.4 128.2 301.8 122.2 302.1 114.2 302.6 111.2 303.1 110.2 303.6 110.6 304.1 112.9 304.6 120.6 304.4 127.2 304.1 128.9 303.6 130.0ZM87.9 168.3 87.4 168.0 86.9 166.7 85.9 161.7 84.8 154.2 84.4 147.2 84.7 140.7 85.8 129.2 86.7 124.9 87.2 123.6 87.7 123.1 88.2 123.4 88.7 124.5 89.5 128.7 90.0 133.7 90.3 141.7 90.2 150.2 89.7 159.2 88.9 165.5 88.4 167.5 87.9 168.3ZM348.9 168.3 348.4 167.8 348.1 166.7 347.3 161.7 346.6 152.7 346.4 143.7 346.6 136.2 347.1 129.7 347.9 125.0 348.4 123.7 348.9 123.1 349.4 123.3 349.9 124.4 350.9 129.4 351.9 139.2 352.3 147.2 352.0 153.2 350.9 161.0 349.9 166.3 349.4 167.8 348.9 168.3ZM280.6 155.2 280.4 155.4 279.9 155.0 279.4 153.6 279.0 150.7 278.8 146.2 279.2 138.2 279.6 136.0 279.9 135.4 280.4 135.1 280.9 136.1 281.3 138.2 281.6 145.2 281.4 152.1 281.1 153.8 280.6 155.2ZM234.4 142.8 234.1 141.2 234.4 140.0 234.6 141.2 234.4 142.8ZM110.9 187.4 110.4 187.3 109.9 186.5 108.7 182.2 107.4 175.1 107.1 170.2 107.4 163.3 108.7 150.7 109.7 145.4 110.2 144.2 110.7 143.8 111.2 144.1 111.7 145.2 112.7 149.7 113.2 155.7 113.5 163.7 113.2 173.7 112.7 179.7 111.9 184.9 111.4 186.6 110.9 187.4ZM326.4 187.2 325.9 187.4 325.4 186.8 324.3 182.2 323.6 175.2 323.3 166.2 323.4 157.7 324.1 149.7 325.0 145.2 325.6 144.0 326.1 143.8 326.6 144.4 327.1 145.7 328.1 151.4 329.2 161.7 329.6 169.7 329.5 173.7 328.7 179.2 327.4 184.8 326.4 187.2ZM257.4 174.4 256.9 174.2 256.4 172.7 256.0 170.2 255.9 166.7 256.4 161.2 256.9 159.5 257.6 158.8 258.1 159.4 258.6 161.2 258.8 166.2 258.4 170.9 257.9 173.3 257.4 174.4ZM133.9 208.2 133.4 208.3 132.7 207.5 131.4 204.3 130.4 200.2 130.0 195.7 130.4 187.7 131.9 170.3 132.7 166.1 133.2 165.0 133.7 164.7 134.2 165.0 134.7 166.2 135.7 171.0 136.2 176.7 136.5 185.7 136.4 193.7 135.9 200.7 134.9 206.2 133.9 208.2ZM303.4 208.3 302.6 208.1 302.1 207.2 301.0 202.7 300.4 196.2 300.1 187.7 300.3 179.2 301.1 170.7 302.0 166.2 302.6 164.9 303.1 164.7 303.6 165.1 304.1 166.5 304.9 171.1 306.4 188.7 306.7 195.2 306.6 197.9 305.9 202.2 304.6 206.3 303.9 207.8 303.4 208.3ZM279.9 202.8 279.4 202.2 278.9 200.1 278.6 194.2 279.0 189.2 279.6 187.2 280.1 186.6 280.6 186.8 281.1 188.4 281.4 193.2 280.9 200.1 280.4 202.1 279.9 202.8ZM156.7 198.2 156.3 196.7 156.1 193.7 156.2 191.7 156.4 191.0 156.7 190.9 157.2 192.4 157.3 194.7 157.2 197.3 156.9 198.2 156.7 198.2Z"/>
</g>
<path d="M126.8 242.5 L126.8 223.1 L149.3 223.1 L149.3 204.6 L171.6 204.6 L171.6 186.8 L194.0 186.8 L194.0 168.8 L240.2 168.8 L240.2 186.8 L263.3 186.8 L263.3 204.6 L285.8 204.6 L285.8 223.1 L308.6 223.1 L308.6 242.5Z" fill="#eaeaea" fill-opacity="0.68" stroke="none"/>
<path d="M126.8 242.5 L126.8 223.1 L149.3 223.1 L149.3 204.6 L171.6 204.6 L171.6 186.8 L194.0 186.8 L194.0 168.8 L240.2 168.8 L240.2 186.8 L263.3 186.8 L263.3 204.6 L285.8 204.6 L285.8 223.1 L308.6 223.1 L308.6 242.5" fill="none" stroke="#858585" stroke-width="1.6"/>
<line x1="217.9" y1="150.1" x2="217.9" y2="168.8" stroke="#858585" stroke-width="1.1"/>
</g>
<line x1="154.5" y1="20.8" x2="154.5" y2="240.5" stroke="#1b9a9a" stroke-width="1.3"/>
<circle cx="154.5" cy="10.6" r="10.0" fill="#fff" stroke="#1b9a9a" stroke-width="1.35"/>
<text x="154.5" y="15.5" font-size="11.8" fill="#1b9a9a" stroke="#1b9a9a" stroke-width="0.25" text-anchor="middle">1</text>
<line x1="177.2" y1="20.8" x2="177.2" y2="240.5" stroke="#9a1a9a" stroke-width="1.3"/>
<circle cx="177.2" cy="10.6" r="10.0" fill="#fff" stroke="#9a1a9a" stroke-width="1.35"/>
<text x="177.2" y="15.5" font-size="11.8" fill="#9a1a9a" stroke="#9a1a9a" stroke-width="0.25" text-anchor="middle">0</text>
<line x1="199.8" y1="20.8" x2="199.8" y2="240.5" stroke="#9a9a1b" stroke-width="1.3"/>
<circle cx="199.8" cy="10.6" r="10.0" fill="#fff" stroke="#9a9a1b" stroke-width="1.35"/>
<text x="199.8" y="15.5" font-size="11.8" fill="#9a9a1b" stroke="#9a9a1b" stroke-width="0.25" text-anchor="middle">-1</text>
<g stroke="#8a8a8a" stroke-width="1" fill="none">
<line x1="37.4" y1="25.2" x2="398.4" y2="25.2"/>
<line x1="398.4" y1="25.2" x2="398.4" y2="240.5"/>
<line x1="37.4" y1="240.5" x2="398.4" y2="240.5"/>
</g>
<line x1="37.4" y1="24.7" x2="37.4" y2="241.0" stroke="#404040" stroke-width="1.2"/>
<path d="M37.4 240.5h3.5M37.4 222.6h2.2M37.4 204.6h3.5M37.4 186.7h2.2M37.4 168.7h3.5M37.4 150.8h2.2M37.4 132.8h3.5M37.4 114.9h2.2M37.4 97.0h3.5M37.4 79.0h2.2M37.4 61.1h3.5M37.4 43.1h2.2M37.4 25.2h3.5M37.4 240.5v-3M82.5 240.5v-3M127.7 240.5v-3M172.8 240.5v-3M217.9 240.5v-3M263.0 240.5v-3M308.1 240.5v-3M353.3 240.5v-3M398.4 240.5v-3" stroke="#404040" stroke-width="1" fill="none"/>
<path d="M398.4 240.5h-3.5M398.4 222.6h-2.2M398.4 204.6h-3.5M398.4 186.7h-2.2M398.4 168.7h-3.5M398.4 150.8h-2.2M398.4 132.8h-3.5M398.4 114.9h-2.2M398.4 97.0h-3.5M398.4 79.0h-2.2M398.4 61.1h-3.5M398.4 43.1h-2.2M398.4 25.2h-3.5M37.4 25.2v3M82.5 25.2v3M127.7 25.2v3M172.8 25.2v3M217.9 25.2v3M263.0 25.2v3M308.1 25.2v3M353.3 25.2v3M398.4 25.2v3" stroke="#707070" stroke-width="1" fill="none"/>
<text x="31.3" y="244.8" font-size="12" text-anchor="end" fill="#000" stroke="#000" stroke-width="0.12">0</text>
<text x="31.3" y="208.9" font-size="12" text-anchor="end" fill="#000" stroke="#000" stroke-width="0.12">2</text>
<text x="31.3" y="173.0" font-size="12" text-anchor="end" fill="#000" stroke="#000" stroke-width="0.12">4</text>
<text x="31.3" y="137.2" font-size="12" text-anchor="end" fill="#000" stroke="#000" stroke-width="0.12">6</text>
<text x="31.3" y="101.3" font-size="12" text-anchor="end" fill="#000" stroke="#000" stroke-width="0.12">8</text>
<text x="31.3" y="65.4" font-size="12" text-anchor="end" fill="#000" stroke="#000" stroke-width="0.12">10</text>
<text x="31.3" y="29.5" font-size="12" text-anchor="end" fill="#000" stroke="#000" stroke-width="0.12">12</text>
<text x="37.4" y="256.7" font-size="12" text-anchor="middle" fill="#000" stroke="#000" stroke-width="0.12">−2.0</text>
<text x="82.5" y="256.7" font-size="12" text-anchor="middle" fill="#000" stroke="#000" stroke-width="0.12">−1.5</text>
<text x="127.7" y="256.7" font-size="12" text-anchor="middle" fill="#000" stroke="#000" stroke-width="0.12">−1.0</text>
<text x="172.8" y="256.7" font-size="12" text-anchor="middle" fill="#000" stroke="#000" stroke-width="0.12">−0.5</text>
<text x="217.9" y="256.7" font-size="12" text-anchor="middle" fill="#000" stroke="#000" stroke-width="0.12">0.0</text>
<text x="263.0" y="256.7" font-size="12" text-anchor="middle" fill="#000" stroke="#000" stroke-width="0.12">0.5</text>
<text x="308.1" y="256.7" font-size="12" text-anchor="middle" fill="#000" stroke="#000" stroke-width="0.12">1.0</text>
<text x="353.3" y="256.7" font-size="12" text-anchor="middle" fill="#000" stroke="#000" stroke-width="0.12">1.5</text>
<text x="398.4" y="256.7" font-size="12" text-anchor="middle" fill="#000" stroke="#000" stroke-width="0.12">2.0</text>
<text x="217.6" y="273.2" font-size="12" text-anchor="middle" fill="#000" stroke="#000" stroke-width="0.12">Bias voltage (mV)</text>
<text transform="translate(9.4,132.4) rotate(-90)" font-size="12" text-anchor="middle" fill="#000" stroke="#000" stroke-width="0.12" textLength="130" lengthAdjust="spacingAndGlyphs">Microwave amplitude <tspan font-style="italic">α</tspan></text>
<text x="40.6" y="19.6" font-size="14" font-weight="bold" fill="#000">a</text>
<line x1="230.8" y1="14.5" x2="249.4" y2="14.5" stroke="#ff0000" stroke-width="2"/>
<text x="254.4" y="18.4" font-size="12.2" fill="#000" stroke="#000" stroke-width="0.12">excited</text>
<line x1="304.3" y1="14.5" x2="322.7" y2="14.5" stroke="#0000ff" stroke-width="2"/>
<text x="327.5" y="18.4" font-size="12.2" fill="#000" stroke="#000" stroke-width="0.12">ground state</text>
<text x="462.8" y="19.6" font-size="14" font-weight="bold" fill="#000">b</text>
<path d="M463.4 78.1 L464.3 78.1 L465.2 78.1 L466.2 78.1 L467.1 78.0 L468.0 78.0 L468.9 78.0 L469.9 77.9 L470.8 77.8 L471.7 77.8 L472.6 77.7 L473.5 77.6 L474.5 77.5 L475.4 77.5 L476.3 77.4 L477.2 77.2 L478.2 77.0 L479.1 76.7 L480.0 76.4 L480.9 76.0 L481.8 75.6 L482.8 75.2 L483.7 74.8 L484.6 74.3 L485.5 73.9 L486.4 73.3 L487.4 72.7 L488.3 72.0 L489.2 71.3 L490.1 70.6 L491.1 69.8 L492.0 68.9 L492.9 68.1 L493.8 67.3 L494.7 66.4 L495.7 65.4 L496.6 64.4 L497.5 63.4 L498.4 62.3 L499.4 61.2 L500.3 60.1 L501.2 59.0 L502.1 57.9 L503.0 56.8 L504.0 55.6 L504.9 54.4 L505.8 53.2 L506.7 52.0 L507.7 50.9 L508.6 49.7 L509.5 48.6 L510.4 47.5 L511.3 46.4 L512.3 45.4 L513.2 44.4 L514.1 43.4 L515.0 42.4 L516.0 41.4 L516.9 40.5 L517.8 39.7 L518.7 38.9 L519.6 38.2 L520.6 37.5 L521.5 36.8 L522.4 36.2 L523.3 35.6 L524.3 35.0 L525.2 34.5 L526.1 34.0 L527.0 33.6 L527.9 33.3 L528.9 33.1 L529.8 32.8 L530.7 32.6 L531.6 32.5 L532.5 32.4 L533.5 32.4 L534.4 32.5 L535.3 32.6 L536.2 32.8 L537.2 32.9 L538.1 33.1 L539.0 33.2 L539.9 33.3 L540.8 33.4 L541.8 33.6 L542.7 33.7 L543.6 33.9 L544.5 34.1 L545.5 34.4 L546.4 34.7 L547.3 35.0 L548.2 35.4 L549.1 35.8 L550.1 36.1 L551.0 36.4 L551.9 36.7 L552.8 36.9 L553.8 37.0 L554.7 37.2 L555.6 37.4 L556.5 37.5 L557.4 37.6 L558.4 37.6 L559.3 37.6 L560.2 37.6 L561.1 37.5 L562.1 37.4 L563.0 37.2 L563.9 37.1 L564.8 36.9 L565.7 36.7 L566.7 36.5 L567.6 36.1 L568.5 35.8 L569.4 35.4 L570.4 34.9 L571.3 34.5 L572.2 34.0 L573.1 33.6 L574.0 33.3 L575.0 32.9 L575.9 32.5 L576.8 32.2 L577.7 31.8 L578.6 31.5 L579.6 31.1 L580.5 30.8 L581.4 30.6 L582.3 30.3 L583.3 30.2 L584.2 30.0 L585.1 29.8 L586.0 29.7 L586.9 29.6 L587.9 29.4 L588.8 29.3 L589.7 29.3 L590.6 29.2 L591.6 29.2 L592.5 29.2 L593.4 29.2 L594.3 29.3 L595.2 29.4 L596.2 29.4 L597.1 29.5 L598.0 29.6 L598.9 29.7 L599.9 29.8 L600.8 29.9 L601.7 30.0 L602.6 30.2 L603.5 30.4 L604.5 30.5 L605.4 30.7 L606.3 30.9 L607.2 31.1 L608.2 31.3 L609.1 31.4 L610.0 31.6 L610.9 31.7 L611.8 31.8 L612.8 32.0 L613.7 32.1 L614.6 32.2 L615.5 32.3 L616.5 32.4 L617.4 32.4 L618.3 32.4 L619.2 32.4 L620.1 32.2 L621.1 32.1 L622.0 31.9 L622.9 31.7 L623.8 31.5 L624.8 31.2 L625.7 31.0 L626.6 30.7 L627.5 30.5 L628.4 30.3 L629.4 30.1 L630.3 29.9 L631.2 29.7 L632.1 29.5 L633.0 29.4 L634.0 29.2 L634.9 29.0 L635.8 28.8 L636.7 28.6 L637.7 28.4 L638.6 28.3 L639.5 28.2 L640.4 28.0 L641.3 27.9 L642.3 27.7 L643.2 27.6 L644.1 27.5 L645.0 27.4 L646.0 27.3 L646.9 27.2 L647.8 27.2 L648.7 27.2 L649.6 27.2 L650.6 27.3 L651.5 27.3 L652.4 27.5 L653.3 27.6 L654.3 27.7 L655.2 27.9 L656.1 28.0 L657.0 28.1 L657.9 28.3 L658.9 28.4 L659.8 28.5 L660.7 28.7 L661.6 28.8 L662.6 28.9 L663.5 29.1 L664.4 29.2 L665.3 29.4 L666.2 29.5 L667.2 29.6 L668.1 29.7 L669.0 29.8 L669.9 29.8 L670.9 29.9 L671.8 29.9 L672.7 30.0 L673.6 30.0 L674.5 30.0 L675.5 30.1 L676.4 30.1 L677.3 30.1 L678.2 30.2 L679.1 30.2 L680.1 30.2 L681.0 30.2 L681.9 30.3 L682.8 30.3 L683.8 30.3 L684.7 30.3" fill="none" stroke="#1b9a9a" stroke-width="1.6" clip-path="url(#pb)"/>
<path d="M463.4 78.1 L464.3 78.1 L465.2 78.1 L466.2 78.1 L467.1 78.1 L468.0 78.1 L468.9 78.1 L469.9 78.1 L470.8 78.1 L471.7 78.1 L472.6 78.0 L473.5 78.0 L474.5 78.0 L475.4 78.0 L476.3 78.0 L477.2 78.0 L478.2 78.0 L479.1 77.9 L480.0 77.9 L480.9 77.9 L481.8 77.9 L482.8 77.9 L483.7 77.8 L484.6 77.8 L485.5 77.7 L486.4 77.7 L487.4 77.6 L488.3 77.6 L489.2 77.5 L490.1 77.4 L491.1 77.3 L492.0 77.2 L492.9 77.1 L493.8 77.0 L494.7 76.9 L495.7 76.8 L496.6 76.7 L497.5 76.5 L498.4 76.3 L499.4 76.1 L500.3 75.8 L501.2 75.6 L502.1 75.3 L503.0 75.0 L504.0 74.7 L504.9 74.3 L505.8 74.0 L506.7 73.6 L507.7 73.3 L508.6 72.8 L509.5 72.3 L510.4 71.8 L511.3 71.3 L512.3 70.7 L513.2 70.1 L514.1 69.4 L515.0 68.8 L516.0 68.2 L516.9 67.4 L517.8 66.7 L518.7 65.9 L519.6 65.1 L520.6 64.2 L521.5 63.3 L522.4 62.5 L523.3 61.6 L524.3 60.7 L525.2 59.9 L526.1 59.0 L527.0 58.0 L527.9 57.1 L528.9 56.2 L529.8 55.2 L530.7 54.3 L531.6 53.4 L532.5 52.4 L533.5 51.5 L534.4 50.5 L535.3 49.5 L536.2 48.6 L537.2 47.7 L538.1 46.9 L539.0 46.1 L539.9 45.4 L540.8 44.7 L541.8 44.0 L542.7 43.4 L543.6 42.8 L544.5 42.2 L545.5 41.7 L546.4 41.1 L547.3 40.6 L548.2 40.0 L549.1 39.6 L550.1 39.1 L551.0 38.8 L551.9 38.4 L552.8 38.2 L553.8 38.0 L554.7 37.8 L555.6 37.6 L556.5 37.4 L557.4 37.3 L558.4 37.2 L559.3 37.2 L560.2 37.3 L561.1 37.3 L562.1 37.4 L563.0 37.5 L563.9 37.7 L564.8 37.8 L565.7 37.9 L566.7 38.1 L567.6 38.3 L568.5 38.5 L569.4 38.7 L570.4 39.0 L571.3 39.2 L572.2 39.4 L573.1 39.6 L574.0 39.8 L575.0 39.9 L575.9 40.1 L576.8 40.3 L577.7 40.4 L578.6 40.5 L579.6 40.7 L580.5 40.8 L581.4 40.8 L582.3 40.9 L583.3 40.9 L584.2 40.9 L585.1 40.8 L586.0 40.8 L586.9 40.8 L587.9 40.7 L588.8 40.7 L589.7 40.7 L590.6 40.6 L591.6 40.5 L592.5 40.4 L593.4 40.2 L594.3 39.9 L595.2 39.5 L596.2 39.1 L597.1 38.7 L598.0 38.2 L598.9 37.8 L599.9 37.4 L600.8 37.0 L601.7 36.6 L602.6 36.2 L603.5 35.8 L604.5 35.4 L605.4 35.0 L606.3 34.6 L607.2 34.2 L608.2 33.9 L609.1 33.6 L610.0 33.4 L610.9 33.1 L611.8 32.9 L612.8 32.7 L613.7 32.5 L614.6 32.3 L615.5 32.2 L616.5 32.1 L617.4 32.0 L618.3 32.0 L619.2 32.0 L620.1 32.0 L621.1 32.0 L622.0 32.1 L622.9 32.1 L623.8 32.1 L624.8 32.2 L625.7 32.2 L626.6 32.3 L627.5 32.3 L628.4 32.4 L629.4 32.5 L630.3 32.6 L631.2 32.7 L632.1 32.9 L633.0 33.1 L634.0 33.3 L634.9 33.4 L635.8 33.6 L636.7 33.8 L637.7 33.9 L638.6 34.0 L639.5 34.0 L640.4 34.0 L641.3 34.0 L642.3 34.0 L643.2 34.0 L644.1 34.0 L645.0 34.0 L646.0 34.0 L646.9 34.0 L647.8 34.0 L648.7 34.0 L649.6 34.0 L650.6 34.0 L651.5 34.0 L652.4 33.9 L653.3 33.7 L654.3 33.5 L655.2 33.3 L656.1 33.1 L657.0 32.8 L657.9 32.6 L658.9 32.3 L659.8 32.1 L660.7 31.9 L661.6 31.7 L662.6 31.5 L663.5 31.3 L664.4 31.2 L665.3 31.0 L666.2 30.8 L667.2 30.6 L668.1 30.5 L669.0 30.3 L669.9 30.2 L670.9 30.1 L671.8 30.1 L672.7 30.0 L673.6 30.0 L674.5 30.0 L675.5 30.0 L676.4 29.9 L677.3 29.9 L678.2 29.9 L679.1 29.9 L680.1 29.9 L681.0 29.9 L681.9 29.9 L682.8 29.8 L683.8 29.8 L684.7 29.8" fill="none" stroke="#9a1a9a" stroke-width="1.6" clip-path="url(#pb)"/>
<path d="M463.4 78.1 L464.3 78.1 L465.2 78.1 L466.2 78.1 L467.1 78.1 L468.0 78.1 L468.9 78.1 L469.9 78.1 L470.8 78.1 L471.7 78.1 L472.6 78.1 L473.5 78.1 L474.5 78.1 L475.4 78.1 L476.3 78.1 L477.2 78.1 L478.2 78.1 L479.1 78.1 L480.0 78.1 L480.9 78.1 L481.8 78.1 L482.8 78.1 L483.7 78.1 L484.6 78.1 L485.5 78.1 L486.4 78.1 L487.4 78.1 L488.3 78.1 L489.2 78.1 L490.1 78.0 L491.1 78.0 L492.0 78.0 L492.9 78.0 L493.8 78.0 L494.7 78.0 L495.7 78.0 L496.6 78.0 L497.5 78.0 L498.4 78.0 L499.4 78.0 L500.3 78.0 L501.2 78.0 L502.1 78.0 L503.0 77.9 L504.0 77.9 L504.9 77.9 L505.8 77.8 L506.7 77.7 L507.7 77.7 L508.6 77.6 L509.5 77.6 L510.4 77.5 L511.3 77.4 L512.3 77.3 L513.2 77.2 L514.1 77.1 L515.0 77.0 L516.0 76.9 L516.9 76.7 L517.8 76.6 L518.7 76.4 L519.6 76.2 L520.6 76.1 L521.5 75.9 L522.4 75.7 L523.3 75.5 L524.3 75.2 L525.2 75.0 L526.1 74.6 L527.0 74.3 L527.9 73.9 L528.9 73.5 L529.8 73.0 L530.7 72.6 L531.6 72.1 L532.5 71.6 L533.5 71.0 L534.4 70.4 L535.3 69.7 L536.2 68.9 L537.2 68.2 L538.1 67.4 L539.0 66.6 L539.9 65.8 L540.8 64.9 L541.8 64.0 L542.7 63.2 L543.6 62.3 L544.5 61.5 L545.5 60.7 L546.4 59.9 L547.3 59.0 L548.2 58.2 L549.1 57.4 L550.1 56.6 L551.0 55.8 L551.9 55.0 L552.8 54.2 L553.8 53.5 L554.7 52.6 L555.6 51.8 L556.5 51.1 L557.4 50.3 L558.4 49.5 L559.3 48.8 L560.2 48.1 L561.1 47.5 L562.1 46.9 L563.0 46.2 L563.9 45.6 L564.8 45.0 L565.7 44.5 L566.7 43.9 L567.6 43.5 L568.5 43.1 L569.4 42.7 L570.4 42.5 L571.3 42.2 L572.2 41.9 L573.1 41.7 L574.0 41.4 L575.0 41.2 L575.9 41.1 L576.8 41.0 L577.7 40.9 L578.6 40.9 L579.6 40.9 L580.5 40.9 L581.4 40.9 L582.3 40.9 L583.3 40.9 L584.2 40.9 L585.1 40.9 L586.0 40.9 L586.9 40.9 L587.9 40.9 L588.8 40.9 L589.7 41.0 L590.6 41.2 L591.6 41.3 L592.5 41.5 L593.4 41.7 L594.3 41.8 L595.2 42.0 L596.2 42.1 L597.1 42.2 L598.0 42.4 L598.9 42.5 L599.9 42.7 L600.8 42.8 L601.7 42.9 L602.6 43.0 L603.5 43.1 L604.5 43.1 L605.4 43.1 L606.3 43.1 L607.2 43.0 L608.2 43.0 L609.1 42.9 L610.0 42.8 L610.9 42.6 L611.8 42.4 L612.8 42.1 L613.7 41.7 L614.6 41.3 L615.5 40.8 L616.5 40.4 L617.4 40.0 L618.3 39.7 L619.2 39.3 L620.1 38.9 L621.1 38.6 L622.0 38.2 L622.9 37.8 L623.8 37.5 L624.8 37.1 L625.7 36.8 L626.6 36.5 L627.5 36.3 L628.4 36.1 L629.4 35.9 L630.3 35.7 L631.2 35.5 L632.1 35.4 L633.0 35.2 L634.0 35.1 L634.9 34.9 L635.8 34.8 L636.7 34.7 L637.7 34.6 L638.6 34.6 L639.5 34.6 L640.4 34.6 L641.3 34.6 L642.3 34.6 L643.2 34.6 L644.1 34.6 L645.0 34.7 L646.0 34.7 L646.9 34.8 L647.8 34.8 L648.7 34.9 L649.6 34.9 L650.6 35.0 L651.5 35.1 L652.4 35.2 L653.3 35.3 L654.3 35.4 L655.2 35.6 L656.1 35.8 L657.0 35.9 L657.9 36.1 L658.9 36.3 L659.8 36.4 L660.7 36.5 L661.6 36.6 L662.6 36.7 L663.5 36.8 L664.4 36.9 L665.3 37.0 L666.2 37.1 L667.2 37.1 L668.1 37.2 L669.0 37.2 L669.9 37.2 L670.9 37.2 L671.8 37.2 L672.7 37.1 L673.6 37.0 L674.5 36.9 L675.5 36.8 L676.4 36.7 L677.3 36.5 L678.2 36.3 L679.1 36.1 L680.1 35.9 L681.0 35.7 L681.9 35.4 L682.8 35.1 L683.8 34.9 L684.7 34.6" fill="none" stroke="#9a9a1b" stroke-width="1.6" clip-path="url(#pb)"/>
<path d="M463.6 25.2H684.3M684.3 80.9H463.6" fill="none" stroke="#8a8a8a" stroke-width="1"/>
<line x1="684.3" y1="24.7" x2="684.3" y2="81.4" stroke="#333" stroke-width="1.2"/>
<line x1="463.6" y1="24.7" x2="463.6" y2="81.4" stroke="#404040" stroke-width="1.2"/>
<path d="M481.8 80.9v-3M481.8 25.2v3M500.3 80.9v-3M500.3 25.2v3M518.7 80.9v-3M518.7 25.2v3M537.2 80.9v-3M537.2 25.2v3M555.6 80.9v-3M555.6 25.2v3M574.0 80.9v-3M574.0 25.2v3M592.5 80.9v-3M592.5 25.2v3M610.9 80.9v-3M610.9 25.2v3M629.4 80.9v-3M629.4 25.2v3M647.8 80.9v-3M647.8 25.2v3M666.2 80.9v-3M666.2 25.2v3M463.6 78.1h3.5M684.3 78.1h-3.5M463.6 56.7h3.5M684.3 56.7h-3.5M463.6 35.3h3.5M684.3 35.3h-3.5M463.6 67.4h2.2M684.3 67.4h-2.2M463.6 46.0h2.2M684.3 46.0h-2.2" stroke="#404040" stroke-width="1" fill="none"/>
<text x="456.3" y="82.4" font-size="12" text-anchor="end" fill="#000" stroke="#000" stroke-width="0.12">0.0</text>
<text x="456.3" y="61.0" font-size="12" text-anchor="end" fill="#000" stroke="#000" stroke-width="0.12">0.2</text>
<text x="456.3" y="39.6" font-size="12" text-anchor="end" fill="#000" stroke="#000" stroke-width="0.12">0.4</text>
<text transform="translate(432.0,55.6) rotate(-90)" font-size="13.5" text-anchor="middle" fill="#000" stroke="#000" stroke-width="0.12" font-style="italic" textLength="50" lengthAdjust="spacingAndGlyphs">w(α, n)</text>
<text x="463.4" y="99" font-size="14" font-weight="bold" fill="#000">c</text>
<path d="M463.4 165.8 L464.3 165.7 L465.2 165.5 L466.2 165.2 L467.1 164.7 L468.0 164.0 L468.9 163.3 L469.9 162.4 L470.8 161.4 L471.7 160.3 L472.6 159.1 L473.5 157.7 L474.5 156.3 L475.4 154.9 L476.3 153.3 L477.2 151.8 L478.2 150.1 L479.1 148.5 L480.0 146.8 L480.9 145.2 L481.8 143.5 L482.8 141.9 L483.7 140.3 L484.6 138.7 L485.5 137.2 L486.4 135.8 L487.4 134.4 L488.3 133.1 L489.2 132.0 L490.1 130.9 L491.1 129.9 L492.0 129.1 L492.9 128.4 L493.8 127.8 L494.7 127.3 L495.7 127.0 L496.6 126.8 L497.5 126.8 L498.4 126.9 L499.4 127.1 L500.3 127.5 L501.2 128.0 L502.1 128.6 L503.0 129.3 L504.0 130.2 L504.9 131.2 L505.8 132.2 L506.7 133.4 L507.7 134.6 L508.6 135.9 L509.5 137.3 L510.4 138.8 L511.3 140.3 L512.3 141.8 L513.2 143.3 L514.1 144.9 L515.0 146.5 L516.0 148.0 L516.9 149.6 L517.8 151.1 L518.7 152.6 L519.6 154.0 L520.6 155.4 L521.5 156.7 L522.4 157.9 L523.3 159.1 L524.3 160.2 L525.2 161.2 L526.1 162.1 L527.0 162.9 L527.9 163.6 L528.9 164.3 L529.8 164.8 L530.7 165.2 L531.6 165.5 L532.5 165.7 L533.5 165.8 L534.4 165.8 L535.3 165.7 L536.2 165.6 L537.2 165.3 L538.1 165.0 L539.0 164.6 L539.9 164.1 L540.8 163.6 L541.8 163.0 L542.7 162.4 L543.6 161.8 L544.5 161.1 L545.5 160.4 L546.4 159.7 L547.3 158.9 L548.2 158.2 L549.1 157.5 L550.1 156.8 L551.0 156.2 L551.9 155.5 L552.8 155.0 L553.8 154.4 L554.7 153.9 L555.6 153.5 L556.5 153.1 L557.4 152.7 L558.4 152.4 L559.3 152.2 L560.2 152.1 L561.1 152.0 L562.1 152.0 L563.0 152.1 L563.9 152.2 L564.8 152.4 L565.7 152.6 L566.7 152.9 L567.6 153.3 L568.5 153.7 L569.4 154.2 L570.4 154.7 L571.3 155.2 L572.2 155.8 L573.1 156.4 L574.0 157.0 L575.0 157.6 L575.9 158.3 L576.8 158.9 L577.7 159.6 L578.6 160.2 L579.6 160.8 L580.5 161.4 L581.4 162.0 L582.3 162.6 L583.3 163.1 L584.2 163.6 L585.1 164.0 L586.0 164.4 L586.9 164.8 L587.9 165.1 L588.8 165.3 L589.7 165.5 L590.6 165.7 L591.6 165.8 L592.5 165.8 L593.4 165.8 L594.3 165.7 L595.2 165.6 L596.2 165.5 L597.1 165.3 L598.0 165.0 L598.9 164.8 L599.9 164.4 L600.8 164.1 L601.7 163.7 L602.6 163.3 L603.5 162.9 L604.5 162.5 L605.4 162.0 L606.3 161.6 L607.2 161.1 L608.2 160.7 L609.1 160.3 L610.0 159.9 L610.9 159.5 L611.8 159.1 L612.8 158.8 L613.7 158.4 L614.6 158.1 L615.5 157.9 L616.5 157.7 L617.4 157.5 L618.3 157.4 L619.2 157.3 L620.1 157.2 L621.1 157.2 L622.0 157.2 L622.9 157.3 L623.8 157.4 L624.8 157.6 L625.7 157.8 L626.6 158.0 L627.5 158.3 L628.4 158.6 L629.4 158.9 L630.3 159.2 L631.2 159.6 L632.1 160.0 L633.0 160.4 L634.0 160.8 L634.9 161.2 L635.8 161.6 L636.7 162.0 L637.7 162.4 L638.6 162.8 L639.5 163.2 L640.4 163.6 L641.3 163.9 L642.3 164.3 L643.2 164.6 L644.1 164.8 L645.0 165.1 L646.0 165.3 L646.9 165.5 L647.8 165.6 L648.7 165.7 L649.6 165.8 L650.6 165.8 L651.5 165.8 L652.4 165.8 L653.3 165.7 L654.3 165.6 L655.2 165.5 L656.1 165.3 L657.0 165.1 L657.9 164.9 L658.9 164.6 L659.8 164.4 L660.7 164.1 L661.6 163.8 L662.6 163.5 L663.5 163.2 L664.4 162.9 L665.3 162.5 L666.2 162.2 L667.2 161.9 L668.1 161.6 L669.0 161.3 L669.9 161.0 L670.9 160.8 L671.8 160.5 L672.7 160.3 L673.6 160.1 L674.5 159.9 L675.5 159.8 L676.4 159.7 L677.3 159.6 L678.2 159.6 L679.1 159.5 L680.1 159.6 L681.0 159.6 L681.9 159.7 L682.8 159.8 L683.8 159.9 L684.7 160.1" fill="none" stroke="#808080" stroke-width="1.6" stroke-dasharray="5 3" clip-path="url(#pc)"/>
<path d="M463.4 71.5 L464.3 71.7 L465.2 72.1 L466.2 72.9 L467.1 74.0 L468.0 75.3 L468.9 77.0 L469.9 78.9 L470.8 81.2 L471.7 83.6 L472.6 86.3 L473.5 89.3 L474.5 92.4 L475.4 95.8 L476.3 99.3 L477.2 103.0 L478.2 106.8 L479.1 110.7 L480.0 114.7 L480.9 118.8 L481.8 123.0 L482.8 127.2 L483.7 131.4 L484.6 135.6 L485.5 139.8 L486.4 143.9 L487.4 148.0 L488.3 152.0 L489.2 155.8 L490.1 159.6 L491.1 163.2 L492.0 166.7 L492.9 170.0 L493.8 173.1 L494.7 176.1 L495.7 178.8 L496.6 181.4 L497.5 183.8 L498.4 185.9 L499.4 187.8 L500.3 189.5 L501.2 191.0 L502.1 192.3 L503.0 193.4 L504.0 194.2 L504.9 194.9 L505.8 195.4 L506.7 195.7 L507.7 195.8 L508.6 195.7 L509.5 195.5 L510.4 195.1 L511.3 194.6 L512.3 194.0 L513.2 193.2 L514.1 192.4 L515.0 191.5 L516.0 190.5 L516.9 189.5 L517.8 188.4 L518.7 187.4 L519.6 186.3 L520.6 185.2 L521.5 184.1 L522.4 183.0 L523.3 182.0 L524.3 181.0 L525.2 180.1 L526.1 179.3 L527.0 178.5 L527.9 177.8 L528.9 177.2 L529.8 176.7 L530.7 176.3 L531.6 176.0 L532.5 175.7 L533.5 175.6 L534.4 175.6 L535.3 175.7 L536.2 175.9 L537.2 176.2 L538.1 176.5 L539.0 177.0 L539.9 177.5 L540.8 178.1 L541.8 178.8 L542.7 179.6 L543.6 180.4 L544.5 181.2 L545.5 182.1 L546.4 183.0 L547.3 183.9 L548.2 184.9 L549.1 185.8 L550.1 186.7 L551.0 187.7 L551.9 188.6 L552.8 189.5 L553.8 190.3 L554.7 191.1 L555.6 191.8 L556.5 192.5 L557.4 193.2 L558.4 193.7 L559.3 194.2 L560.2 194.7 L561.1 195.0 L562.1 195.3 L563.0 195.5 L563.9 195.7 L564.8 195.8 L565.7 195.7 L566.7 195.7 L567.6 195.5 L568.5 195.3 L569.4 195.0 L570.4 194.7 L571.3 194.3 L572.2 193.9 L573.1 193.4 L574.0 192.9 L575.0 192.4 L575.9 191.9 L576.8 191.3 L577.7 190.7 L578.6 190.1 L579.6 189.5 L580.5 189.0 L581.4 188.4 L582.3 187.9 L583.3 187.4 L584.2 186.9 L585.1 186.4 L586.0 186.0 L586.9 185.7 L587.9 185.3 L588.8 185.1 L589.7 184.9 L590.6 184.7 L591.6 184.6 L592.5 184.6 L593.4 184.6 L594.3 184.6 L595.2 184.8 L596.2 184.9 L597.1 185.2 L598.0 185.4 L598.9 185.8 L599.9 186.1 L600.8 186.5 L601.7 186.9 L602.6 187.4 L603.5 187.9 L604.5 188.4 L605.4 188.9 L606.3 189.5 L607.2 190.0 L608.2 190.5 L609.1 191.1 L610.0 191.6 L610.9 192.1 L611.8 192.6 L612.8 193.1 L613.7 193.5 L614.6 193.9 L615.5 194.3 L616.5 194.6 L617.4 194.9 L618.3 195.2 L619.2 195.4 L620.1 195.5 L621.1 195.7 L622.0 195.7 L622.9 195.8 L623.8 195.7 L624.8 195.7 L625.7 195.6 L626.6 195.4 L627.5 195.2 L628.4 195.0 L629.4 194.7 L630.3 194.5 L631.2 194.1 L632.1 193.8 L633.0 193.4 L634.0 193.1 L634.9 192.7 L635.8 192.3 L636.7 191.9 L637.7 191.5 L638.6 191.1 L639.5 190.7 L640.4 190.3 L641.3 190.0 L642.3 189.6 L643.2 189.3 L644.1 189.1 L645.0 188.8 L646.0 188.6 L646.9 188.4 L647.8 188.2 L648.7 188.1 L649.6 188.1 L650.6 188.0 L651.5 188.0 L652.4 188.1 L653.3 188.1 L654.3 188.3 L655.2 188.4 L656.1 188.6 L657.0 188.8 L657.9 189.0 L658.9 189.3 L659.8 189.6 L660.7 189.9 L661.6 190.3 L662.6 190.6 L663.5 191.0 L664.4 191.4 L665.3 191.7 L666.2 192.1 L667.2 192.5 L668.1 192.9 L669.0 193.2 L669.9 193.6 L670.9 193.9 L671.8 194.2 L672.7 194.5 L673.6 194.7 L674.5 195.0 L675.5 195.2 L676.4 195.4 L677.3 195.5 L678.2 195.6 L679.1 195.7 L680.1 195.7 L681.0 195.8 L681.9 195.7 L682.8 195.7 L683.8 195.6 L684.7 195.5" fill="none" stroke="#808080" stroke-width="1.6" stroke-dasharray="5 3" clip-path="url(#pc)"/>
<path d="M463.4 225.7 L464.3 225.6 L465.2 225.4 L466.2 225.0 L467.1 224.5 L468.0 223.8 L468.9 223.0 L469.9 222.1 L470.8 221.0 L471.7 219.8 L472.6 218.5 L473.5 217.1 L474.5 215.6 L475.4 214.0 L476.3 212.4 L477.2 210.7 L478.2 209.0 L479.1 207.2 L480.0 205.5 L480.9 203.7 L481.8 201.9 L482.8 200.2 L483.7 198.5 L484.6 196.8 L485.5 195.2 L486.4 193.7 L487.4 192.2 L488.3 190.9 L489.2 189.6 L490.1 188.5 L491.1 187.5 L492.0 186.6 L492.9 185.8 L493.8 185.2 L494.7 184.7 L495.7 184.4 L496.6 184.2 L497.5 184.1 L498.4 184.2 L499.4 184.5 L500.3 184.9 L501.2 185.4 L502.1 186.1 L503.0 186.8 L504.0 187.8 L504.9 188.8 L505.8 189.9 L506.7 191.2 L507.7 192.5 L508.6 193.9 L509.5 195.4 L510.4 196.9 L511.3 198.5 L512.3 200.1 L513.2 201.8 L514.1 203.4 L515.0 205.1 L516.0 206.8 L516.9 208.4 L517.8 210.0 L518.7 211.6 L519.6 213.1 L520.6 214.6 L521.5 216.0 L522.4 217.3 L523.3 218.6 L524.3 219.7 L525.2 220.8 L526.1 221.8 L527.0 222.6 L527.9 223.4 L528.9 224.0 L529.8 224.6 L530.7 225.0 L531.6 225.3 L532.5 225.6 L533.5 225.7 L534.4 225.7 L535.3 225.6 L536.2 225.4 L537.2 225.2 L538.1 224.8 L539.0 224.4 L539.9 223.9 L540.8 223.3 L541.8 222.7 L542.7 222.1 L543.6 221.4 L544.5 220.7 L545.5 219.9 L546.4 219.1 L547.3 218.4 L548.2 217.6 L549.1 216.9 L550.1 216.1 L551.0 215.4 L551.9 214.8 L552.8 214.1 L553.8 213.5 L554.7 213.0 L555.6 212.5 L556.5 212.1 L557.4 211.8 L558.4 211.5 L559.3 211.2 L560.2 211.1 L561.1 211.0 L562.1 211.0 L563.0 211.1 L563.9 211.2 L564.8 211.4 L565.7 211.7 L566.7 212.0 L567.6 212.4 L568.5 212.8 L569.4 213.3 L570.4 213.8 L571.3 214.4 L572.2 215.0 L573.1 215.6 L574.0 216.3 L575.0 217.0 L575.9 217.7 L576.8 218.4 L577.7 219.0 L578.6 219.7 L579.6 220.4 L580.5 221.0 L581.4 221.7 L582.3 222.2 L583.3 222.8 L584.2 223.3 L585.1 223.8 L586.0 224.2 L586.9 224.6 L587.9 224.9 L588.8 225.2 L589.7 225.4 L590.6 225.6 L591.6 225.7 L592.5 225.7 L593.4 225.7 L594.3 225.6 L595.2 225.5 L596.2 225.3 L597.1 225.1 L598.0 224.9 L598.9 224.6 L599.9 224.2 L600.8 223.9 L601.7 223.5 L602.6 223.0 L603.5 222.6 L604.5 222.1 L605.4 221.7 L606.3 221.2 L607.2 220.7 L608.2 220.3 L609.1 219.8 L610.0 219.4 L610.9 218.9 L611.8 218.5 L612.8 218.2 L613.7 217.8 L614.6 217.5 L615.5 217.3 L616.5 217.0 L617.4 216.8 L618.3 216.7 L619.2 216.6 L620.1 216.5 L621.1 216.5 L622.0 216.6 L622.9 216.6 L623.8 216.8 L624.8 216.9 L625.7 217.1 L626.6 217.4 L627.5 217.7 L628.4 218.0 L629.4 218.3 L630.3 218.7 L631.2 219.1 L632.1 219.5 L633.0 219.9 L634.0 220.3 L634.9 220.8 L635.8 221.2 L636.7 221.7 L637.7 222.1 L638.6 222.5 L639.5 222.9 L640.4 223.3 L641.3 223.7 L642.3 224.0 L643.2 224.4 L644.1 224.6 L645.0 224.9 L646.0 225.1 L646.9 225.3 L647.8 225.5 L648.7 225.6 L649.6 225.7 L650.6 225.7 L651.5 225.7 L652.4 225.7 L653.3 225.6 L654.3 225.5 L655.2 225.3 L656.1 225.1 L657.0 224.9 L657.9 224.7 L658.9 224.4 L659.8 224.2 L660.7 223.9 L661.6 223.5 L662.6 223.2 L663.5 222.9 L664.4 222.5 L665.3 222.2 L666.2 221.9 L667.2 221.5 L668.1 221.2 L669.0 220.9 L669.9 220.6 L670.9 220.3 L671.8 220.1 L672.7 219.8 L673.6 219.6 L674.5 219.4 L675.5 219.3 L676.4 219.2 L677.3 219.1 L678.2 219.0 L679.1 219.0 L680.1 219.0 L681.0 219.1 L681.9 219.2 L682.8 219.3 L683.8 219.4 L684.7 219.6" fill="none" stroke="#808080" stroke-width="1.6" stroke-dasharray="5 3" clip-path="url(#pc)"/>
<path d="M463.4 165.8 L464.3 165.8 L465.2 165.8 L466.2 165.8 L467.1 165.8 L468.0 165.8 L468.9 165.8 L469.9 165.8 L470.8 165.8 L471.7 165.8 L472.6 165.8 L473.5 165.7 L474.5 165.7 L475.4 165.7 L476.3 165.6 L477.2 165.6 L478.2 165.5 L479.1 165.4 L480.0 165.2 L480.9 165.0 L481.8 164.8 L482.8 164.5 L483.7 164.2 L484.6 163.9 L485.5 163.6 L486.4 163.1 L487.4 162.7 L488.3 162.1 L489.2 161.5 L490.1 160.9 L491.1 160.2 L492.0 159.5 L492.9 158.8 L493.8 158.1 L494.7 157.4 L495.7 156.6 L496.6 155.8 L497.5 155.1 L498.4 154.3 L499.4 153.6 L500.3 152.9 L501.2 152.3 L502.1 151.7 L503.0 151.3 L504.0 150.8 L504.9 150.5 L505.8 150.2 L506.7 150.0 L507.7 149.9 L508.6 150.0 L509.5 150.1 L510.4 150.3 L511.3 150.7 L512.3 151.1 L513.2 151.7 L514.1 152.2 L515.0 152.9 L516.0 153.6 L516.9 154.4 L517.8 155.2 L518.7 156.1 L519.6 157.0 L520.6 157.9 L521.5 158.8 L522.4 159.7 L523.3 160.5 L524.3 161.3 L525.2 162.1 L526.1 162.8 L527.0 163.4 L527.9 164.0 L528.9 164.5 L529.8 164.9 L530.7 165.3 L531.6 165.5 L532.5 165.7 L533.5 165.8 L534.4 165.8 L535.3 165.7 L536.2 165.6 L537.2 165.4 L538.1 165.1 L539.0 164.8 L539.9 164.4 L540.8 164.0 L541.8 163.5 L542.7 163.0 L543.6 162.5 L544.5 161.9 L545.5 161.4 L546.4 160.8 L547.3 160.3 L548.2 159.8 L549.1 159.3 L550.1 158.8 L551.0 158.3 L551.9 157.9 L552.8 157.4 L553.8 157.1 L554.7 156.7 L555.6 156.4 L556.5 156.1 L557.4 155.9 L558.4 155.7 L559.3 155.6 L560.2 155.4 L561.1 155.4 L562.1 155.3 L563.0 155.3 L563.9 155.4 L564.8 155.5 L565.7 155.6 L566.7 155.8 L567.6 156.0 L568.5 156.2 L569.4 156.5 L570.4 156.8 L571.3 157.2 L572.2 157.6 L573.1 158.0 L574.0 158.4 L575.0 158.9 L575.9 159.4 L576.8 159.9 L577.7 160.4 L578.6 160.9 L579.6 161.4 L580.5 161.9 L581.4 162.4 L582.3 162.9 L583.3 163.4 L584.2 163.8 L585.1 164.2 L586.0 164.6 L586.9 164.9 L587.9 165.1 L588.8 165.4 L589.7 165.6 L590.6 165.7 L591.6 165.8 L592.5 165.8 L593.4 165.8 L594.3 165.8 L595.2 165.7 L596.2 165.5 L597.1 165.3 L598.0 165.1 L598.9 164.9 L599.9 164.6 L600.8 164.3 L601.7 163.9 L602.6 163.6 L603.5 163.2 L604.5 162.8 L605.4 162.5 L606.3 162.1 L607.2 161.7 L608.2 161.3 L609.1 161.0 L610.0 160.6 L610.9 160.3 L611.8 160.0 L612.8 159.7 L613.7 159.5 L614.6 159.2 L615.5 159.0 L616.5 158.9 L617.4 158.7 L618.3 158.6 L619.2 158.5 L620.1 158.5 L621.1 158.4 L622.0 158.4 L622.9 158.4 L623.8 158.5 L624.8 158.6 L625.7 158.7 L626.6 158.9 L627.5 159.1 L628.4 159.3 L629.4 159.6 L630.3 159.9 L631.2 160.2 L632.1 160.5 L633.0 160.9 L634.0 161.2 L634.9 161.6 L635.8 161.9 L636.7 162.3 L637.7 162.7 L638.6 163.0 L639.5 163.4 L640.4 163.7 L641.3 164.0 L642.3 164.3 L643.2 164.6 L644.1 164.9 L645.0 165.1 L646.0 165.3 L646.9 165.5 L647.8 165.6 L648.7 165.7 L649.6 165.8 L650.6 165.8 L651.5 165.8 L652.4 165.8 L653.3 165.7 L654.3 165.6 L655.2 165.5 L656.1 165.3 L657.0 165.2 L657.9 164.9 L658.9 164.7 L659.8 164.5 L660.7 164.2 L661.6 164.0 L662.6 163.7 L663.5 163.4 L664.4 163.1 L665.3 162.8 L666.2 162.5 L667.2 162.3 L668.1 162.0 L669.0 161.7 L669.9 161.5 L670.9 161.3 L671.8 161.1 L672.7 160.9 L673.6 160.7 L674.5 160.5 L675.5 160.4 L676.4 160.3 L677.3 160.3 L678.2 160.2 L679.1 160.2 L680.1 160.2 L681.0 160.3 L681.9 160.3 L682.8 160.4 L683.8 160.5 L684.7 160.7" fill="none" stroke="#8a8a8a" stroke-width="1.5" clip-path="url(#pc)"/>
<path d="M463.4 195.8 L464.3 195.8 L465.2 195.8 L466.2 195.7 L467.1 195.7 L468.0 195.7 L468.9 195.7 L469.9 195.7 L470.8 195.7 L471.7 195.7 L472.6 195.6 L473.5 195.6 L474.5 195.6 L475.4 195.6 L476.3 195.6 L477.2 195.5 L478.2 195.5 L479.1 195.5 L480.0 195.5 L480.9 195.5 L481.8 195.5 L482.8 195.5 L483.7 195.4 L484.6 195.4 L485.5 195.4 L486.4 195.4 L487.4 195.3 L488.3 195.3 L489.2 195.3 L490.1 195.3 L491.1 195.3 L492.0 195.3 L492.9 195.3 L493.8 195.3 L494.7 195.3 L495.7 195.3 L496.6 195.4 L497.5 195.4 L498.4 195.4 L499.4 195.5 L500.3 195.5 L501.2 195.5 L502.1 195.6 L503.0 195.6 L504.0 195.7 L504.9 195.7 L505.8 195.7 L506.7 195.8 L507.7 195.8 L508.6 195.8 L509.5 195.7 L510.4 195.7 L511.3 195.6 L512.3 195.5 L513.2 195.4 L514.1 195.2 L515.0 195.0 L516.0 194.8 L516.9 194.5 L517.8 194.2 L518.7 193.8 L519.6 193.4 L520.6 193.0 L521.5 192.5 L522.4 192.0 L523.3 191.5 L524.3 191.0 L525.2 190.4 L526.1 189.9 L527.0 189.3 L527.9 188.7 L528.9 188.2 L529.8 187.6 L530.7 187.1 L531.6 186.6 L532.5 186.2 L533.5 185.7 L534.4 185.4 L535.3 185.0 L536.2 184.8 L537.2 184.6 L538.1 184.5 L539.0 184.5 L539.9 184.6 L540.8 184.7 L541.8 185.0 L542.7 185.3 L543.6 185.6 L544.5 186.0 L545.5 186.4 L546.4 186.9 L547.3 187.5 L548.2 188.0 L549.1 188.6 L550.1 189.2 L551.0 189.8 L551.9 190.4 L552.8 191.1 L553.8 191.7 L554.7 192.2 L555.6 192.8 L556.5 193.3 L557.4 193.8 L558.4 194.2 L559.3 194.6 L560.2 194.9 L561.1 195.2 L562.1 195.4 L563.0 195.6 L563.9 195.7 L564.8 195.8 L565.7 195.8 L566.7 195.7 L567.6 195.6 L568.5 195.4 L569.4 195.2 L570.4 195.0 L571.3 194.7 L572.2 194.4 L573.1 194.1 L574.0 193.7 L575.0 193.4 L575.9 193.0 L576.8 192.6 L577.7 192.2 L578.6 191.8 L579.6 191.4 L580.5 191.0 L581.4 190.6 L582.3 190.3 L583.3 189.9 L584.2 189.6 L585.1 189.3 L586.0 189.0 L586.9 188.7 L587.9 188.5 L588.8 188.3 L589.7 188.1 L590.6 188.0 L591.6 187.9 L592.5 187.9 L593.4 187.8 L594.3 187.8 L595.2 187.8 L596.2 187.9 L597.1 188.0 L598.0 188.1 L598.9 188.2 L599.9 188.4 L600.8 188.7 L601.7 188.9 L602.6 189.2 L603.5 189.5 L604.5 189.9 L605.4 190.3 L606.3 190.6 L607.2 191.0 L608.2 191.4 L609.1 191.9 L610.0 192.3 L610.9 192.7 L611.8 193.1 L612.8 193.5 L613.7 193.8 L614.6 194.2 L615.5 194.5 L616.5 194.8 L617.4 195.0 L618.3 195.2 L619.2 195.4 L620.1 195.6 L621.1 195.7 L622.0 195.7 L622.9 195.8 L623.8 195.7 L624.8 195.7 L625.7 195.6 L626.6 195.5 L627.5 195.3 L628.4 195.1 L629.4 194.9 L630.3 194.7 L631.2 194.4 L632.1 194.1 L633.0 193.8 L634.0 193.5 L634.9 193.2 L635.8 192.9 L636.7 192.5 L637.7 192.2 L638.6 191.9 L639.5 191.6 L640.4 191.3 L641.3 191.0 L642.3 190.7 L643.2 190.5 L644.1 190.2 L645.0 190.0 L646.0 189.8 L646.9 189.7 L647.8 189.6 L648.7 189.5 L649.6 189.4 L650.6 189.4 L651.5 189.4 L652.4 189.4 L653.3 189.4 L654.3 189.5 L655.2 189.6 L656.1 189.7 L657.0 189.9 L657.9 190.0 L658.9 190.3 L659.8 190.5 L660.7 190.7 L661.6 191.0 L662.6 191.3 L663.5 191.6 L664.4 191.9 L665.3 192.2 L666.2 192.5 L667.2 192.9 L668.1 193.2 L669.0 193.5 L669.9 193.8 L670.9 194.1 L671.8 194.4 L672.7 194.6 L673.6 194.9 L674.5 195.1 L675.5 195.2 L676.4 195.4 L677.3 195.5 L678.2 195.6 L679.1 195.7 L680.1 195.7 L681.0 195.8 L681.9 195.7 L682.8 195.7 L683.8 195.6 L684.7 195.5" fill="none" stroke="#8a8a8a" stroke-width="1.5" clip-path="url(#pc)"/>
<path d="M463.4 225.7 L464.3 225.7 L465.2 225.7 L466.2 225.7 L467.1 225.7 L468.0 225.7 L468.9 225.7 L469.9 225.7 L470.8 225.7 L471.7 225.7 L472.6 225.7 L473.5 225.7 L474.5 225.7 L475.4 225.7 L476.3 225.7 L477.2 225.7 L478.2 225.7 L479.1 225.7 L480.0 225.7 L480.9 225.7 L481.8 225.7 L482.8 225.7 L483.7 225.7 L484.6 225.7 L485.5 225.7 L486.4 225.7 L487.4 225.7 L488.3 225.7 L489.2 225.7 L490.1 225.7 L491.1 225.7 L492.0 225.7 L492.9 225.7 L493.8 225.6 L494.7 225.6 L495.7 225.6 L496.6 225.6 L497.5 225.6 L498.4 225.6 L499.4 225.6 L500.3 225.6 L501.2 225.6 L502.1 225.6 L503.0 225.6 L504.0 225.6 L504.9 225.5 L505.8 225.5 L506.7 225.5 L507.7 225.4 L508.6 225.4 L509.5 225.4 L510.4 225.4 L511.3 225.4 L512.3 225.3 L513.2 225.3 L514.1 225.3 L515.0 225.3 L516.0 225.3 L516.9 225.3 L517.8 225.3 L518.7 225.3 L519.6 225.3 L520.6 225.3 L521.5 225.3 L522.4 225.3 L523.3 225.3 L524.3 225.4 L525.2 225.4 L526.1 225.4 L527.0 225.5 L527.9 225.5 L528.9 225.6 L529.8 225.6 L530.7 225.6 L531.6 225.7 L532.5 225.7 L533.5 225.7 L534.4 225.7 L535.3 225.7 L536.2 225.7 L537.2 225.6 L538.1 225.5 L539.0 225.4 L539.9 225.3 L540.8 225.1 L541.8 224.9 L542.7 224.7 L543.6 224.4 L544.5 224.1 L545.5 223.8 L546.4 223.5 L547.3 223.1 L548.2 222.7 L549.1 222.3 L550.1 221.9 L551.0 221.4 L551.9 221.0 L552.8 220.5 L553.8 220.1 L554.7 219.7 L555.6 219.2 L556.5 218.8 L557.4 218.4 L558.4 218.1 L559.3 217.8 L560.2 217.5 L561.1 217.3 L562.1 217.1 L563.0 217.0 L563.9 216.9 L564.8 216.9 L565.7 216.9 L566.7 216.9 L567.6 217.1 L568.5 217.3 L569.4 217.5 L570.4 217.8 L571.3 218.1 L572.2 218.5 L573.1 218.9 L574.0 219.3 L575.0 219.7 L575.9 220.1 L576.8 220.6 L577.7 221.1 L578.6 221.5 L579.6 222.0 L580.5 222.4 L581.4 222.9 L582.3 223.3 L583.3 223.7 L584.2 224.0 L585.1 224.4 L586.0 224.7 L586.9 224.9 L587.9 225.1 L588.8 225.3 L589.7 225.5 L590.6 225.6 L591.6 225.7 L592.5 225.7 L593.4 225.7 L594.3 225.6 L595.2 225.6 L596.2 225.5 L597.1 225.3 L598.0 225.1 L598.9 224.9 L599.9 224.7 L600.8 224.5 L601.7 224.2 L602.6 223.9 L603.5 223.7 L604.5 223.4 L605.4 223.1 L606.3 222.7 L607.2 222.4 L608.2 222.1 L609.1 221.8 L610.0 221.5 L610.9 221.2 L611.8 220.9 L612.8 220.6 L613.7 220.3 L614.6 220.1 L615.5 219.8 L616.5 219.6 L617.4 219.4 L618.3 219.2 L619.2 219.1 L620.1 219.0 L621.1 218.9 L622.0 218.9 L622.9 218.9 L623.8 218.9 L624.8 219.0 L625.7 219.1 L626.6 219.2 L627.5 219.4 L628.4 219.6 L629.4 219.9 L630.3 220.1 L631.2 220.4 L632.1 220.7 L633.0 221.0 L634.0 221.4 L634.9 221.7 L635.8 222.1 L636.7 222.4 L637.7 222.8 L638.6 223.1 L639.5 223.4 L640.4 223.8 L641.3 224.1 L642.3 224.3 L643.2 224.6 L644.1 224.8 L645.0 225.1 L646.0 225.2 L646.9 225.4 L647.8 225.5 L648.7 225.6 L649.6 225.7 L650.6 225.7 L651.5 225.7 L652.4 225.7 L653.3 225.6 L654.3 225.5 L655.2 225.4 L656.1 225.3 L657.0 225.1 L657.9 224.9 L658.9 224.7 L659.8 224.5 L660.7 224.3 L661.6 224.0 L662.6 223.8 L663.5 223.5 L664.4 223.3 L665.3 223.0 L666.2 222.8 L667.2 222.5 L668.1 222.3 L669.0 222.0 L669.9 221.8 L670.9 221.6 L671.8 221.4 L672.7 221.2 L673.6 221.0 L674.5 220.9 L675.5 220.8 L676.4 220.7 L677.3 220.6 L678.2 220.5 L679.1 220.5 L680.1 220.4 L681.0 220.4 L681.9 220.5 L682.8 220.5 L683.8 220.6 L684.7 220.7" fill="none" stroke="#8a8a8a" stroke-width="1.5" clip-path="url(#pc)"/>
<path d="M463.4 165.8 L464.3 165.8 L465.2 165.8 L466.2 165.8 L467.1 165.8 L468.0 165.8 L468.9 165.8 L469.9 165.8 L470.8 165.8 L471.7 165.8 L472.6 165.8 L473.5 165.8 L474.5 165.8 L475.4 165.8 L476.3 165.7 L477.2 165.7 L478.2 165.7 L479.1 165.6 L480.0 165.6 L480.9 165.5 L481.8 165.4 L482.8 165.3 L483.7 165.2 L484.6 165.0 L485.5 164.7 L486.4 164.4 L487.4 164.1 L488.3 163.8 L489.2 163.5 L490.1 163.1 L491.1 162.7 L492.0 162.2 L492.9 161.7 L493.8 161.1 L494.7 160.5 L495.7 159.9 L496.6 159.3 L497.5 158.8 L498.4 158.2 L499.4 157.7 L500.3 157.1 L501.2 156.6 L502.1 156.1 L503.0 155.6 L504.0 155.2 L504.9 154.9 L505.8 154.6 L506.7 154.5 L507.7 154.4 L508.6 154.3 L509.5 154.4 L510.4 154.5 L511.3 154.7 L512.3 155.0 L513.2 155.3 L514.1 155.8 L515.0 156.3 L516.0 156.9 L516.9 157.5 L517.8 158.1 L518.7 158.8 L519.6 159.5 L520.6 160.2 L521.5 160.9 L522.4 161.6 L523.3 162.3 L524.3 163.0 L525.2 163.6 L526.1 164.2 L527.0 164.8 L527.9 165.2 L528.9 165.7 L529.8 166.0 L530.7 166.2 L531.6 166.4 L532.5 166.5 L533.5 166.5 L534.4 166.4 L535.3 166.2 L536.2 165.9 L537.2 165.5 L538.1 165.1 L539.0 164.6 L539.9 164.1 L540.8 163.5 L541.8 162.9 L542.7 162.3 L543.6 161.6 L544.5 161.0 L545.5 160.3 L546.4 159.7 L547.3 159.1 L548.2 158.5 L549.1 158.0 L550.1 157.5 L551.0 157.1 L551.9 156.8 L552.8 156.5 L553.8 156.3 L554.7 156.1 L555.6 156.0 L556.5 156.0 L557.4 156.0 L558.4 156.0 L559.3 156.1 L560.2 156.2 L561.1 156.4 L562.1 156.6 L563.0 156.8 L563.9 157.0 L564.8 157.3 L565.7 157.6 L566.7 157.9 L567.6 158.2 L568.5 158.5 L569.4 158.8 L570.4 159.2 L571.3 159.6 L572.2 159.9 L573.1 160.3 L574.0 160.7 L575.0 161.1 L575.9 161.5 L576.8 161.9 L577.7 162.4 L578.6 162.8 L579.6 163.2 L580.5 163.7 L581.4 164.1 L582.3 164.5 L583.3 164.8 L584.2 165.2 L585.1 165.5 L586.0 165.8 L586.9 166.0 L587.9 166.2 L588.8 166.4 L589.7 166.4 L590.6 166.5 L591.6 166.4 L592.5 166.3 L593.4 166.2 L594.3 166.0 L595.2 165.7 L596.2 165.4 L597.1 165.1 L598.0 164.7 L598.9 164.3 L599.9 163.8 L600.8 163.4 L601.7 162.9 L602.6 162.4 L603.5 162.0 L604.5 161.5 L605.4 161.1 L606.3 160.7 L607.2 160.3 L608.2 160.0 L609.1 159.7 L610.0 159.5 L610.9 159.3 L611.8 159.2 L612.8 159.1 L613.7 159.0 L614.6 159.0 L615.5 159.0 L616.5 159.1 L617.4 159.1 L618.3 159.3 L619.2 159.4 L620.1 159.6 L621.1 159.8 L622.0 160.0 L622.9 160.2 L623.8 160.4 L624.8 160.6 L625.7 160.8 L626.6 161.1 L627.5 161.3 L628.4 161.5 L629.4 161.8 L630.3 162.0 L631.2 162.3 L632.1 162.6 L633.0 162.9 L634.0 163.2 L634.9 163.5 L635.8 163.8 L636.7 164.1 L637.7 164.4 L638.6 164.6 L639.5 164.9 L640.4 165.2 L641.3 165.4 L642.3 165.7 L643.2 165.9 L644.1 166.1 L645.0 166.2 L646.0 166.3 L646.9 166.4 L647.8 166.4 L648.7 166.4 L649.6 166.3 L650.6 166.2 L651.5 166.1 L652.4 165.9 L653.3 165.6 L654.3 165.4 L655.2 165.1 L656.1 164.8 L657.0 164.4 L657.9 164.1 L658.9 163.7 L659.8 163.3 L660.7 163.0 L661.6 162.6 L662.6 162.3 L663.5 162.0 L664.4 161.7 L665.3 161.4 L666.2 161.2 L667.2 161.0 L668.1 160.9 L669.0 160.7 L669.9 160.7 L670.9 160.6 L671.8 160.6 L672.7 160.7 L673.6 160.7 L674.5 160.8 L675.5 160.9 L676.4 161.0 L677.3 161.2 L678.2 161.3 L679.1 161.5 L680.1 161.7 L681.0 161.9 L681.9 162.1 L682.8 162.3 L683.8 162.5 L684.7 162.7" fill="none" stroke="#1b9a9a" stroke-width="1.7" clip-path="url(#pc)"/>
<path d="M463.4 195.8 L464.3 195.8 L465.2 195.8 L466.2 195.8 L467.1 195.8 L468.0 195.7 L468.9 195.7 L469.9 195.7 L470.8 195.7 L471.7 195.7 L472.6 195.7 L473.5 195.7 L474.5 195.7 L475.4 195.6 L476.3 195.6 L477.2 195.6 L478.2 195.6 L479.1 195.6 L480.0 195.6 L480.9 195.5 L481.8 195.5 L482.8 195.5 L483.7 195.5 L484.6 195.5 L485.5 195.5 L486.4 195.5 L487.4 195.5 L488.3 195.5 L489.2 195.4 L490.1 195.4 L491.1 195.4 L492.0 195.4 L492.9 195.4 L493.8 195.4 L494.7 195.4 L495.7 195.5 L496.6 195.5 L497.5 195.5 L498.4 195.5 L499.4 195.6 L500.3 195.6 L501.2 195.6 L502.1 195.6 L503.0 195.7 L504.0 195.7 L504.9 195.7 L505.8 195.7 L506.7 195.8 L507.7 195.8 L508.6 195.7 L509.5 195.7 L510.4 195.7 L511.3 195.6 L512.3 195.5 L513.2 195.4 L514.1 195.2 L515.0 195.0 L516.0 194.8 L516.9 194.6 L517.8 194.3 L518.7 194.0 L519.6 193.7 L520.6 193.2 L521.5 192.8 L522.4 192.4 L523.3 191.9 L524.3 191.5 L525.2 191.1 L526.1 190.6 L527.0 190.2 L527.9 189.8 L528.9 189.4 L529.8 189.0 L530.7 188.6 L531.6 188.2 L532.5 187.9 L533.5 187.6 L534.4 187.4 L535.3 187.1 L536.2 186.9 L537.2 186.8 L538.1 186.7 L539.0 186.6 L539.9 186.7 L540.8 186.8 L541.8 186.9 L542.7 187.2 L543.6 187.4 L544.5 187.8 L545.5 188.1 L546.4 188.6 L547.3 189.0 L548.2 189.5 L549.1 190.0 L550.1 190.5 L551.0 191.1 L551.9 191.7 L552.8 192.3 L553.8 192.8 L554.7 193.4 L555.6 193.9 L556.5 194.4 L557.4 194.9 L558.4 195.3 L559.3 195.6 L560.2 195.9 L561.1 196.2 L562.1 196.4 L563.0 196.5 L563.9 196.5 L564.8 196.5 L565.7 196.4 L566.7 196.2 L567.6 196.0 L568.5 195.7 L569.4 195.4 L570.4 195.0 L571.3 194.7 L572.2 194.2 L573.1 193.8 L574.0 193.4 L575.0 192.9 L575.9 192.5 L576.8 192.1 L577.7 191.6 L578.6 191.2 L579.6 190.9 L580.5 190.5 L581.4 190.2 L582.3 190.0 L583.3 189.7 L584.2 189.5 L585.1 189.4 L586.0 189.2 L586.9 189.1 L587.9 189.0 L588.8 189.0 L589.7 189.0 L590.6 189.0 L591.6 189.0 L592.5 189.1 L593.4 189.2 L594.3 189.3 L595.2 189.4 L596.2 189.5 L597.1 189.6 L598.0 189.7 L598.9 189.9 L599.9 190.1 L600.8 190.3 L601.7 190.5 L602.6 190.7 L603.5 191.0 L604.5 191.3 L605.4 191.6 L606.3 192.0 L607.2 192.3 L608.2 192.7 L609.1 193.1 L610.0 193.4 L610.9 193.8 L611.8 194.2 L612.8 194.6 L613.7 194.9 L614.6 195.3 L615.5 195.6 L616.5 195.8 L617.4 196.0 L618.3 196.2 L619.2 196.4 L620.1 196.4 L621.1 196.5 L622.0 196.5 L622.9 196.4 L623.8 196.3 L624.8 196.1 L625.7 195.9 L626.6 195.6 L627.5 195.3 L628.4 195.0 L629.4 194.7 L630.3 194.3 L631.2 193.9 L632.1 193.5 L633.0 193.2 L634.0 192.8 L634.9 192.5 L635.8 192.1 L636.7 191.8 L637.7 191.5 L638.6 191.3 L639.5 191.0 L640.4 190.8 L641.3 190.7 L642.3 190.5 L643.2 190.4 L644.1 190.4 L645.0 190.3 L646.0 190.3 L646.9 190.3 L647.8 190.3 L648.7 190.4 L649.6 190.4 L650.6 190.5 L651.5 190.6 L652.4 190.8 L653.3 190.9 L654.3 191.0 L655.2 191.1 L656.1 191.3 L657.0 191.4 L657.9 191.6 L658.9 191.8 L659.8 192.0 L660.7 192.2 L661.6 192.4 L662.6 192.6 L663.5 192.9 L664.4 193.2 L665.3 193.4 L666.2 193.7 L667.2 194.0 L668.1 194.3 L669.0 194.6 L669.9 194.9 L670.9 195.2 L671.8 195.4 L672.7 195.7 L673.6 195.9 L674.5 196.1 L675.5 196.2 L676.4 196.3 L677.3 196.4 L678.2 196.5 L679.1 196.4 L680.1 196.4 L681.0 196.3 L681.9 196.2 L682.8 196.0 L683.8 195.8 L684.7 195.6" fill="none" stroke="#9a1a9a" stroke-width="1.7" clip-path="url(#pc)"/>
<path d="M463.4 225.7 L464.3 225.7 L465.2 225.7 L466.2 225.7 L467.1 225.7 L468.0 225.7 L468.9 225.7 L469.9 225.7 L470.8 225.7 L471.7 225.7 L472.6 225.7 L473.5 225.7 L474.5 225.7 L475.4 225.7 L476.3 225.7 L477.2 225.7 L478.2 225.7 L479.1 225.7 L480.0 225.7 L480.9 225.7 L481.8 225.7 L482.8 225.7 L483.7 225.7 L484.6 225.7 L485.5 225.7 L486.4 225.7 L487.4 225.7 L488.3 225.7 L489.2 225.7 L490.1 225.7 L491.1 225.7 L492.0 225.7 L492.9 225.7 L493.8 225.7 L494.7 225.7 L495.7 225.6 L496.6 225.6 L497.5 225.6 L498.4 225.6 L499.4 225.6 L500.3 225.6 L501.2 225.6 L502.1 225.6 L503.0 225.6 L504.0 225.6 L504.9 225.6 L505.8 225.6 L506.7 225.5 L507.7 225.5 L508.6 225.5 L509.5 225.5 L510.4 225.5 L511.3 225.4 L512.3 225.4 L513.2 225.4 L514.1 225.4 L515.0 225.4 L516.0 225.4 L516.9 225.4 L517.8 225.4 L518.7 225.4 L519.6 225.4 L520.6 225.4 L521.5 225.4 L522.4 225.4 L523.3 225.5 L524.3 225.5 L525.2 225.6 L526.1 225.7 L527.0 225.8 L527.9 225.9 L528.9 226.0 L529.8 226.1 L530.7 226.2 L531.6 226.3 L532.5 226.4 L533.5 226.4 L534.4 226.4 L535.3 226.4 L536.2 226.4 L537.2 226.3 L538.1 226.2 L539.0 226.1 L539.9 225.9 L540.8 225.6 L541.8 225.4 L542.7 225.1 L543.6 224.8 L544.5 224.4 L545.5 224.0 L546.4 223.6 L547.3 223.2 L548.2 222.8 L549.1 222.4 L550.1 222.0 L551.0 221.6 L551.9 221.2 L552.8 220.9 L553.8 220.5 L554.7 220.2 L555.6 219.8 L556.5 219.6 L557.4 219.3 L558.4 219.0 L559.3 218.8 L560.2 218.7 L561.1 218.5 L562.1 218.4 L563.0 218.4 L563.9 218.3 L564.8 218.3 L565.7 218.4 L566.7 218.5 L567.6 218.6 L568.5 218.7 L569.4 218.9 L570.4 219.1 L571.3 219.3 L572.2 219.6 L573.1 219.9 L574.0 220.3 L575.0 220.6 L575.9 221.0 L576.8 221.4 L577.7 221.8 L578.6 222.2 L579.6 222.7 L580.5 223.1 L581.4 223.5 L582.3 223.9 L583.3 224.3 L584.2 224.7 L585.1 225.0 L586.0 225.4 L586.9 225.6 L587.9 225.9 L588.8 226.1 L589.7 226.2 L590.6 226.4 L591.6 226.4 L592.5 226.4 L593.4 226.4 L594.3 226.3 L595.2 226.1 L596.2 225.9 L597.1 225.7 L598.0 225.5 L598.9 225.2 L599.9 224.8 L600.8 224.5 L601.7 224.2 L602.6 223.8 L603.5 223.4 L604.5 223.1 L605.4 222.7 L606.3 222.4 L607.2 222.1 L608.2 221.8 L609.1 221.5 L610.0 221.3 L610.9 221.0 L611.8 220.9 L612.8 220.7 L613.7 220.5 L614.6 220.4 L615.5 220.3 L616.5 220.2 L617.4 220.1 L618.3 220.0 L619.2 220.0 L620.1 220.0 L621.1 220.0 L622.0 220.1 L622.9 220.1 L623.8 220.2 L624.8 220.3 L625.7 220.4 L626.6 220.5 L627.5 220.7 L628.4 220.8 L629.4 221.0 L630.3 221.2 L631.2 221.5 L632.1 221.7 L633.0 222.0 L634.0 222.3 L634.9 222.5 L635.8 222.9 L636.7 223.2 L637.7 223.5 L638.6 223.8 L639.5 224.1 L640.4 224.4 L641.3 224.8 L642.3 225.1 L643.2 225.3 L644.1 225.6 L645.0 225.8 L646.0 226.0 L646.9 226.2 L647.8 226.3 L648.7 226.4 L649.6 226.4 L650.6 226.4 L651.5 226.4 L652.4 226.3 L653.3 226.1 L654.3 225.9 L655.2 225.7 L656.1 225.5 L657.0 225.2 L657.9 224.9 L658.9 224.6 L659.8 224.3 L660.7 224.0 L661.6 223.7 L662.6 223.4 L663.5 223.1 L664.4 222.8 L665.3 222.5 L666.2 222.3 L667.2 222.1 L668.1 221.9 L669.0 221.7 L669.9 221.6 L670.9 221.5 L671.8 221.4 L672.7 221.3 L673.6 221.3 L674.5 221.3 L675.5 221.3 L676.4 221.3 L677.3 221.4 L678.2 221.4 L679.1 221.5 L680.1 221.5 L681.0 221.6 L681.9 221.7 L682.8 221.7 L683.8 221.8 L684.7 221.9" fill="none" stroke="#9a9a1b" stroke-width="1.7" clip-path="url(#pc)"/>
<line x1="499.9" y1="146.4" x2="499.9" y2="170.2" stroke="#0000ff" stroke-width="1.6"/>
<line x1="518.4" y1="175.8" x2="518.4" y2="199.7" stroke="#0000ff" stroke-width="1.6"/>
<line x1="536.4" y1="206.5" x2="536.4" y2="230.0" stroke="#0000ff" stroke-width="1.6"/>
<path d="M463.6 105.5H684.3M684.3 240.3H463.6" fill="none" stroke="#8a8a8a" stroke-width="1"/>
<line x1="684.3" y1="105" x2="684.3" y2="240.8" stroke="#333" stroke-width="1.2"/>
<line x1="463.6" y1="105" x2="463.6" y2="240.8" stroke="#404040" stroke-width="1.2"/>
<path d="M481.8 240.3v-3M481.8 105.5v3M500.3 240.3v-3M500.3 105.5v3M518.7 240.3v-3M518.7 105.5v3M537.2 240.3v-3M537.2 105.5v3M555.6 240.3v-3M555.6 105.5v3M574.0 240.3v-3M574.0 105.5v3M592.5 240.3v-3M592.5 105.5v3M610.9 240.3v-3M610.9 105.5v3M629.4 240.3v-3M629.4 105.5v3M647.8 240.3v-3M647.8 105.5v3M666.2 240.3v-3M666.2 105.5v3M463.6 225.7h3.5M684.3 225.7h-3.5M463.6 210.7h2.2M684.3 210.7h-2.2M463.6 195.8h3.5M684.3 195.8h-3.5M463.6 180.8h2.2M684.3 180.8h-2.2M463.6 165.8h3.5M684.3 165.8h-3.5M463.6 150.8h2.2M684.3 150.8h-2.2M463.6 135.9h3.5M684.3 135.9h-3.5M463.6 120.9h2.2M684.3 120.9h-2.2M463.6 105.9h3.5M684.3 105.9h-3.5" stroke="#404040" stroke-width="1" fill="none"/>
<text x="456.0" y="230.0" font-size="12" text-anchor="end" fill="#000" stroke="#000" stroke-width="0.12">0</text>
<text x="456.0" y="200.1" font-size="12" text-anchor="end" fill="#000" stroke="#000" stroke-width="0.12">2</text>
<text x="456.0" y="170.1" font-size="12" text-anchor="end" fill="#000" stroke="#000" stroke-width="0.12">4</text>
<text x="456.0" y="140.2" font-size="12" text-anchor="end" fill="#000" stroke="#000" stroke-width="0.12">6</text>
<text x="456.0" y="110.2" font-size="12" text-anchor="end" fill="#000" stroke="#000" stroke-width="0.12">8</text>
<text x="463.4" y="256.7" font-size="12" text-anchor="middle" fill="#000" stroke="#000" stroke-width="0.12">0.0</text>
<text x="509.5" y="256.7" font-size="12" text-anchor="middle" fill="#000" stroke="#000" stroke-width="0.12">2.5</text>
<text x="555.6" y="256.7" font-size="12" text-anchor="middle" fill="#000" stroke="#000" stroke-width="0.12">5.0</text>
<text x="601.7" y="256.7" font-size="12" text-anchor="middle" fill="#000" stroke="#000" stroke-width="0.12">7.5</text>
<text x="647.8" y="256.7" font-size="12" text-anchor="middle" fill="#000" stroke="#000" stroke-width="0.12">10.0</text>
<text x="572" y="272.4" font-size="15" text-anchor="middle" fill="#000" stroke="#000" stroke-width="0.12" font-style="italic">α</text>
<text transform="translate(441.2,172.6) rotate(-90)" font-size="12" text-anchor="middle" fill="#000" stroke="#000" stroke-width="0.12" textLength="73.6" lengthAdjust="spacingAndGlyphs">dI/dV (arb.u.)</text>
<line x1="529" y1="121.7" x2="547.9" y2="121.7" stroke="#1b9a9a" stroke-width="1.8"/>
<line x1="529" y1="125.8" x2="547.9" y2="125.8" stroke="#9a1a9a" stroke-width="1.8"/>
<line x1="529" y1="129.7" x2="547.9" y2="129.7" stroke="#9a9a1b" stroke-width="1.8"/>
<text x="549.1" y="130.2" font-size="12" fill="#000" stroke="#000" stroke-width="0.12">data</text>
<line x1="585.1" y1="119.4" x2="602.3" y2="119.4" stroke="#8a8a8a" stroke-width="1.5"/>
<text x="606" y="124.6" font-size="12" fill="#000" stroke="#000" stroke-width="0.12">SM</text>
<line x1="585.1" y1="130.8" x2="602.3" y2="130.8" stroke="#8a8a8a" stroke-width="1.5" stroke-dasharray="4 2.5"/>
<text x="606" y="136.2" font-size="12" fill="#000" stroke="#000" stroke-width="0.12" textLength="70" lengthAdjust="spacingAndGlyphs">SM w/o w(α)</text>
<text x="648.2" y="179" font-size="11.5" fill="#1b9a9a">n=+1</text>
<text x="648.2" y="208.6" font-size="11.5" fill="#9a1a9a">n=0</text>
<text x="648.2" y="238.4" font-size="11.5" fill="#9a9a1b">n=-1</text>
</svg></body></html>
